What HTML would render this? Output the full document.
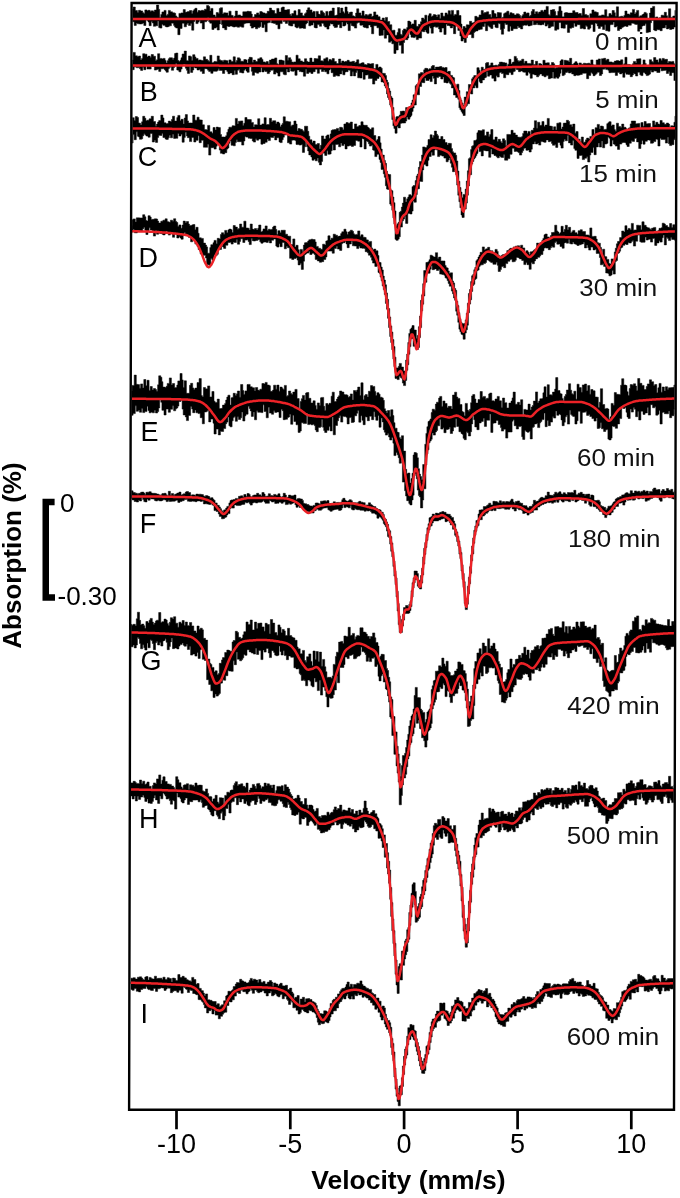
<!DOCTYPE html>
<html><head><meta charset="utf-8"><title>Spectra</title><style>html,body{margin:0;padding:0;background:#fff;width:680px;height:1198px;overflow:hidden}svg{display:block;filter:blur(0.4px)}</style></head><body><svg width="680" height="1198" viewBox="0 0 680 1198"><defs><clipPath id="c"><path d="M132.6 4L675.6 4L673 1108.8L130.1 1108.8Z"/></clipPath></defs><rect width="680" height="1198" fill="#fff"/><g clip-path="url(#c)"><g fill="#000" stroke="#000" stroke-width="0.5" stroke-linejoin="miter"><path d="M131 9.3H132.1V9.3H133.1V7H134.2V7H135.3V10.5H136.3V10.5H137.4V12.5H138.5V10.3H139.5V10.3H140.6V10.9H141.6V10.9H142.7V12.7H143.8V13.4H144.8V9.9H145.9V9.9H147V10.7H148V10.3H149.1V10.3H150.2V11.5H151.2V10.8H152.3V10.8H153.4V11.8H154.4V10H155.5V10H156.5V5H157.6V5H158.7V9.4H159.7V17.5H160.8V14.4H161.9V11.9H162.9V11.9H164V10.4H165.1V10.4H166.1V15.4H167.2V14.4H168.3V10.4H169.3V10.4H170.4V11.8H171.4V11.8H172.5V12.8H173.6V12.8H174.6V13.3H175.7V15.9H176.8V17.3H177.8V17.7H178.9V13.4H180V13.4H181V12.9H182.1V12.9H183.2V9.6H184.2V9.6H185.3V12.3H186.4V12.1H187.4V11.6H188.5V11.6H189.5V10.5H190.6V10.5H191.7V13.4H192.7V10.8H193.8V9.6H194.9V8.3H195.9V8.3H197V12.2H198.1V10.5H199.1V10.5H200.2V10.9H201.3V10.3H202.3V10.3H203.4V10.8H204.4V9.2H205.5V9.2H206.6V5.5H207.6V5.5H208.7V6.6H209.8V11H210.8V8.4H211.9V8.4H213V15H214V15H215.1V16.8H216.2V12.6H217.2V12.6H218.3V13.4H219.3V8.4H220.4V7.7H221.5V7.7H222.5V13.9H223.6V12.8H224.7V12.8H225.7V12.9H226.8V12.9H227.9V15.6H228.9V11.2H230V11.2H231.1V15.3H232.1V15.4H233.2V17.2H234.3V16.1H235.3V11H236.4V11H237.4V15.3H238.5V14.9H239.6V14.9H240.6V16.1H241.7V16.1H242.8V11.8H243.8V11.8H244.9V11.8H246V11.8H247V11.3H248.1V11.3H249.2V11.5H250.2V11.5H251.3V14H252.3V17.2H253.4V16.9H254.5V14.5H255.5V14.5H256.6V12.9H257.7V12.9H258.7V14.4H259.8V11.6H260.9V11.6H261.9V12.2H263V12.9H264.1V12.9H265.1V13.7H266.2V13.5H267.2V11.3H268.3V11.3H269.4V8.1H270.4V8.1H271.5V10H272.6V10.5H273.6V10.5H274.7V13.5H275.8V13.4H276.8V8.4H277.9V8.4H279V12.1H280V12.1H281.1V7.8H282.2V7H283.2V7H284.3V10H285.3V10H286.4V9.9H287.5V9.5H288.5V9.5H289.6V14.2H290.7V15.8H291.7V13.6H292.8V13.6H293.9V10.8H294.9V10.8H296V15.2H297.1V15.2H298.1V9.6H299.2V9.6H300.2V12.9H301.3V12.9H302.4V15.6H303.4V16H304.5V13.7H305.6V12.7H306.6V10H307.7V7.8H308.8V7.8H309.8V9.9H310.9V9.9H312V12.6H313V11.4H314.1V11.4H315.2V16.9H316.2V11.4H317.3V11.4H318.3V14H319.4V14.6H320.5V10.8H321.5V10.8H322.6V12.2H323.7V13.3H324.7V15.8H325.8V11.4H326.9V11.4H327.9V15.4H329V11.5H330.1V10.9H331.1V10.9H332.2V8.1H333.2V8.1H334.3V15.5H335.4V15.5H336.4V14.9H337.5V7.5H338.6V7.5H339.6V13.1H340.7V8.1H341.8V8.1H342.8V11.8H343.9V13.2H345V7H346V7H347.1V11.6H348.1V13.9H349.2V12.6H350.3V12H351.3V12H352.4V15.7H353.5V16.1H354.5V16.7H355.6V13.1H356.7V8.8H357.7V8.8H358.8V12.9H359.9V12.9H360.9V15.6H362V11H363.1V11H364.1V15.7H365.2V14.6H366.2V14.6H367.3V15.6H368.4V14.7H369.4V13.9H370.5V13.9H371.6V17H372.6V16H373.7V11.9H374.8V11.9H375.8V14.9H376.9V14.9H378V16.7H379V16.7H380.1V20H381.1V20H382.2V18H383.3V18H384.3V20.5H385.4V17.4H386.5V17.4H387.5V21.4H388.6V21.4H389.7V24.7H390.7V24.7H391.8V30.5H392.9V30.2H393.9V30.2H395V35.2H396V35.2H397.1V32.4H398.2V28.7H399.2V28.7H400.3V34.3H401.4V35.3H402.4V30.4H403.5V28.9H404.6V28.9H405.6V29.7H406.7V27.6H407.8V21.1H408.8V21.1H409.9V21.9H411V24.7H412V23.9H413.1V23.9H414.1V20.3H415.2V20.3H416.3V26.2H417.3V26.5H418.4V24.3H419.5V24.3H420.5V21.7H421.6V18H422.7V18H423.7V19.3H424.8V15.2H425.9V15.2H426.9V22.1H428V15.7H429V13.7H430.1V13.7H431.2V16.7H432.2V15.9H433.3V14.6H434.4V14.6H435.4V15.1H436.5V17H437.6V14.8H438.6V14.8H439.7V18.4H440.8V13H441.8V13H442.9V16.2H443.9V16.2H445V13H446.1V13H447.1V14.5H448.2V10.7H449.3V10.7H450.3V14.2H451.4V10.4H452.5V10.4H453.5V15.4H454.6V14.4H455.7V14.4H456.7V10.5H457.8V10.5H458.9V15.5H459.9V15.5H461V24.1H462V29.4H463.1V26.5H464.2V26.5H465.2V28.1H466.3V24.8H467.4V24.8H468.4V24.9H469.5V21.3H470.6V21.3H471.6V23H472.7V22.8H473.8V22.1H474.8V16.3H475.9V16.3H476.9V17.2H478V17.2H479.1V14.9H480.1V14.9H481.2V10.6H482.3V10.6H483.3V13.3H484.4V12.5H485.5V12.5H486.5V11.8H487.6V11.8H488.7V14.5H489.7V14.5H490.8V17.3H491.8V10.5H492.9V10.5H494V13.5H495V13.8H496.1V16.9H497.2V12.5H498.2V12.5H499.3V12.7H500.4V12.7H501.4V18.2H502.5V17.2H503.6V13.7H504.6V12.9H505.7V12.6H506.8V11.2H507.8V11.2H508.9V14.8H509.9V12.7H511V12.7H512.1V13.6H513.1V13.6H514.2V15H515.3V15H516.3V13.8H517.4V13.8H518.5V14.2H519.5V15.4H520.6V17.8H521.7V15.8H522.7V14.4H523.8V12H524.8V12H525.9V13.6H527V12.9H528V12.9H529.1V16.3H530.2V15.3H531.2V11.6H532.3V9.5H533.4V9.5H534.4V13.9H535.5V11.7H536.6V11.7H537.6V13.6H538.7V12H539.8V12H540.8V10.4H541.9V10.4H542.9V11.8H544V10H545.1V10H546.1V6.4H547.2V6.4H548.3V14.5H549.3V15.5H550.4V10H551.5V10H552.5V9.5H553.6V9.5H554.7V11.4H555.7V15.5H556.8V15.5H557.8V11.2H558.9V6.6H560V6.6H561V10.9H562.1V16.8H563.2V16.8H564.2V12.9H565.3V12.6H566.4V12.6H567.4V13H568.5V13.1H569.6V13.1H570.6V13.1H571.7V13.1H572.7V10.7H573.8V10.7H574.9V12.6H575.9V12.5H577V12.5H578.1V14.1H579.1V13.5H580.2V13.5H581.3V15.5H582.3V8.5H583.4V8.5H584.5V14.4H585.5V14.4H586.6V15.2H587.7V15.4H588.7V17.8H589.8V13.7H590.8V13.7H591.9V10H593V10H594V11.8H595.1V11.8H596.2V12.2H597.2V12.5H598.3V16.1H599.4V15.7H600.4V15.7H601.5V14.9H602.6V14.9H603.6V15.3H604.7V9.7H605.7V9.7H606.8V16.4H607.9V16.4H608.9V13.6H610V13.6H611.1V14.9H612.1V10.5H613.2V10.5H614.3V12.7H615.3V16.3H616.4V6.8H617.5V6.8H618.5V16.7H619.6V16.7H620.6V16.2H621.7V16.2H622.8V16.9H623.8V15.5H624.9V11H626V11H627V14H628.1V14H629.2V14.7H630.2V12.8H631.3V12.8H632.4V9.4H633.4V9.4H634.5V14.1H635.6V12.6H636.6V10.4H637.7V10.4H638.7V16.7H639.8V15.8H640.9V15.8H641.9V14.7H643V14H644.1V12.4H645.1V12.4H646.2V13.4H647.3V18.6H648.3V18.6H649.4V13.1H650.5V8.1H651.5V8.1H652.6V6.4H653.6V6.4H654.7V17.4H655.8V16.9H656.8V16.9H657.9V18.7H659V17.8H660V17.8H661.1V15.2H662.2V15.2H663.2V15.4H664.3V12.3H665.4V12.3H666.4V15.7H667.5V17.7H668.5V8.8H669.6V8.8H670.7V17.4H671.7V17.4H672.8V16H673.9V16H674.9V10.4H676V10.4H677.1V24.8H676V27H674.9V27H673.9V28.9H672.8V28.9H671.7V29.5H670.7V29.5H669.6V28.2H668.5V28.9H667.5V28.9H666.4V24.9H665.4V27.8H664.3V27.9H663.2V27.9H662.2V30.7H661.1V30.7H660V29.7H659V29.7H657.9V29.6H656.8V30.7H655.8V30.7H654.7V30H653.6V20.5H652.6V20.5H651.5V22.8H650.5V32H649.4V32H648.3V32.6H647.3V32.6H646.2V23.8H645.1V25.4H644.1V25.4H643V26.1H641.9V29.1H640.9V29.1H639.8V31.2H638.7V31.2H637.7V24.5H636.6V24.5H635.6V24.2H634.5V23.4H633.4V23.2H632.4V23.2H631.3V25.2H630.2V25.2H629.2V24.9H628.1V26.4H627V26.4H626V26H624.9V26.3H623.8V27.1H622.8V27.4H621.7V28.9H620.6V28.9H619.6V30.5H618.5V30.5H617.5V26.1H616.4V27H615.3V27H614.3V22H613.2V24.6H612.1V24.6H611.1V24.8H610V31.2H608.9V31.2H607.9V30.7H606.8V30.7H605.7V24.7H604.7V29.5H603.6V29.5H602.6V26.4H601.5V26.4H600.4V28.4H599.4V28.4H598.3V25.9H597.2V23.6H596.2V23H595.1V31.5H594V31.5H593V24.5H591.9V24.5H590.8V28.1H589.8V29.2H588.7V29.2H587.7V26.4H586.6V25.5H585.5V29H584.5V29H583.4V27.9H582.3V28.6H581.3V28.6H580.2V24.7H579.1V24.7H578.1V24.5H577V26.3H575.9V26.3H574.9V23.2H573.8V27.5H572.7V27.5H571.7V28.3H570.6V28.3H569.6V32.4H568.5V32.4H567.4V24.5H566.4V24.6H565.3V28.2H564.2V28.2H563.2V28H562.1V28H561V22.6H560V22.5H558.9V29.2H557.8V29.2H556.8V30.3H555.7V30.3H554.7V21.7H553.6V26.3H552.5V26.3H551.5V26.8H550.4V27.9H549.3V27.9H548.3V24.5H547.2V26H546.1V26H545.1V22.5H544V24.6H542.9V24.6H541.9V24.9H540.8V24.9H539.8V24.7H538.7V24.7H537.6V23H536.6V24.5H535.5V24.7H534.4V24.7H533.4V21H532.3V25.2H531.2V25.6H530.2V25.9H529.1V25.9H528V24.8H527V25.2H525.9V25.2H524.8V24.9H523.8V25.6H522.7V28.9H521.7V28.9H520.6V27.5H519.5V27.5H518.5V26.1H517.4V28.7H516.3V28.7H515.3V28.7H514.2V28.7H513.1V30.5H512.1V30.5H511V26.2H509.9V31.2H508.9V31.2H507.8V24.5H506.8V24.5H505.7V23.3H504.6V28.5H503.6V34.2H502.5V34.2H501.4V29.4H500.4V23.8H499.3V23.3H498.2V27.7H497.2V27.7H496.1V27.2H495V24.4H494V24.4H492.9V28.5H491.8V28.5H490.8V27.2H489.7V26.4H488.7V25.4H487.6V30.7H486.5V30.7H485.5V23.4H484.4V26.5H483.3V26.5H482.3V29.2H481.2V29.2H480.1V29.7H479.1V29.7H478V30.9H476.9V30.9H475.9V31.4H474.8V32.4H473.8V37.8H472.7V37.8H471.6V34.4H470.6V34.5H469.5V34.5H468.4V34.6H467.4V37.7H466.3V42.4H465.2V42.4H464.2V39.1H463.1V41H462V41H461V35.9H459.9V30.4H458.9V30.4H457.8V25.8H456.7V25.9H455.7V33.7H454.6V33.7H453.5V26.3H452.5V27.9H451.4V27.9H450.3V26H449.3V25.5H448.2V25.5H447.1V24H446.1V34.4H445V34.4H443.9V28.1H442.9V28.1H441.8V32.1H440.8V32.1H439.7V29H438.6V26.8H437.6V27.2H436.5V27.2H435.4V26.3H434.4V26.9H433.3V33.2H432.2V33.2H431.2V28.1H430.1V26.2H429V33.3H428V33.3H426.9V32H425.9V30.1H424.8V31.7H423.7V31.7H422.7V31.2H421.6V38.1H420.5V38.1H419.5V37.9H418.4V39.6H417.3V39.6H416.3V36.4H415.2V37.6H414.1V37.6H413.1V37.2H412V37.2H411V34.5H409.9V32H408.8V38H407.8V39.7H406.7V39.7H405.6V39.3H404.6V42.5H403.5V53.3H402.4V53.3H401.4V45.2H400.3V45.2H399.2V42.2H398.2V50H397.1V50H396V53.4H395V53.4H393.9V43.8H392.9V43.8H391.8V41.1H390.7V42.2H389.7V42.2H388.6V34.9H387.5V34.9H386.5V38.2H385.4V38.2H384.3V30.1H383.3V35.2H382.2V35.2H381.1V35.4H380.1V35.4H379V27.8H378V27.8H376.9V25.7H375.8V25.7H374.8V25.8H373.7V33.8H372.6V33.8H371.6V26.9H370.5V25H369.4V25H368.4V28.1H367.3V28.1H366.2V27.4H365.2V27.4H364.1V27H363.1V25H362V25.2H360.9V25.2H359.9V22.6H358.8V22.6H357.7V23.2H356.7V28.1H355.6V28.1H354.5V26.2H353.5V26H352.4V25.5H351.3V23.6H350.3V30.6H349.2V30.6H348.1V23.9H347.1V22.6H346V25.3H345V26H343.9V26H342.8V21.9H341.8V27.7H340.7V27.7H339.6V24.5H338.6V24.7H337.5V27.2H336.4V27.5H335.4V27.5H334.3V26.1H333.2V24H332.2V24H331.1V23.6H330.1V25.7H329V29.1H327.9V29.1H326.9V27.1H325.8V27.1H324.7V25.8H323.7V23.6H322.6V22.9H321.5V26.3H320.5V26.3H319.4V24.6H318.3V24.6H317.3V27.9H316.2V27.9H315.2V27.4H314.1V22.8H313V25H312V25H310.9V25.8H309.8V25.8H308.8V20.4H307.7V22.9H306.6V24.1H305.6V28.4H304.5V28.4H303.4V27.9H302.4V27.9H301.3V28.2H300.2V28.2H299.2V26.8H298.1V27.8H297.1V27.8H296V26.9H294.9V23.7H293.9V23.7H292.8V26H291.7V26H290.7V25.7H289.6V25.2H288.5V21.5H287.5V23.4H286.4V23.4H285.3V21.6H284.3V21.6H283.2V18.4H282.2V23.6H281.1V23.6H280V28.8H279V28.8H277.9V24.7H276.8V24.7H275.8V23.4H274.7V23.4H273.6V23H272.6V23H271.5V19.4H270.4V22.6H269.4V22.6H268.3V23.1H267.2V31.8H266.2V31.8H265.1V24.5H264.1V27.5H263V27.5H261.9V22H260.9V26.5H259.8V27.6H258.7V27.6H257.7V28.8H256.6V28.8H255.5V26.9H254.5V26.9H253.4V28.1H252.3V28.1H251.3V25.9H250.2V22.9H249.2V22.9H248.1V23H247V23.1H246V23.3H244.9V23.8H243.8V27.2H242.8V27.2H241.7V26.8H240.6V26.3H239.6V27.2H238.5V27.2H237.4V26.8H236.4V26.5H235.3V27H234.3V27H233.2V26.6H232.1V26H231.1V26H230V26.5H228.9V26.5H227.9V26H226.8V29.7H225.7V29.7H224.7V27.9H223.6V27.9H222.5V24.6H221.5V18.5H220.4V23.9H219.3V30H218.3V30H217.2V27.1H216.2V28.1H215.1V28.1H214V29.5H213V29.5H211.9V23.2H210.8V23.2H209.8V21.8H208.7V17.7H207.6V20.7H206.6V21.8H205.5V21.8H204.4V28.9H203.4V28.9H202.3V23.1H201.3V23.1H200.2V20.6H199.1V22.1H198.1V23.6H197V23.6H195.9V19.4H194.9V21.4H193.8V30.2H192.7V30.2H191.7V23.5H190.6V25.5H189.5V25.5H188.5V22.9H187.4V24.4H186.4V26.8H185.3V26.8H184.2V23.3H183.2V23.3H182.1V28.4H181V28.4H180V34.7H178.9V34.7H177.8V28H176.8V28H175.7V27.1H174.6V25.4H173.6V23.3H172.5V23H171.4V25.8H170.4V25.8H169.3V26.4H168.3V26.9H167.2V26.9H166.1V26.6H165.1V25.3H164V25.3H162.9V24.2H161.9V28.1H160.8V28.1H159.7V27.5H158.7V20.9H157.6V25.8H156.5V25.8H155.5V26.3H154.4V26.3H153.4V23H152.3V21.4H151.2V25.7H150.2V25.7H149.1V22H148V20.4H147V20H145.9V25.5H144.8V25.5H143.8V23.1H142.7V23.8H141.6V24H140.6V24H139.5V23.8H138.5V23.8H137.4V23H136.3V25.4H135.3V25.4H134.2V21.7H133.1V21.7H132.1V21.7H131Z"/><path d="M131 60.3H132.1V60H133.1V52.4H134.2V52.4H135.3V55.8H136.3V55.8H137.4V56.8H138.5V56H139.5V56H140.6V60H141.6V58.5H142.7V53.7H143.8V53.7H144.8V54.2H145.9V54.2H147V56.9H148V56.1H149.1V56.1H150.2V57.5H151.2V54.5H152.3V54.5H153.4V56.2H154.4V56.2H155.5V60.7H156.5V59.7H157.6V53.7H158.7V53.7H159.7V58.4H160.8V58.4H161.9V58.9H162.9V58.4H164V58.4H165.1V60.5H166.1V62.9H167.2V60.7H168.3V58.8H169.3V57.7H170.4V57.7H171.4V57.8H172.5V59.4H173.6V58.1H174.6V53.5H175.7V53H176.8V53H177.8V60.5H178.9V61.5H180V60.2H181V57.8H182.1V54H183.2V54H184.2V51.1H185.3V51.1H186.4V60.4H187.4V61H188.5V55.9H189.5V55.9H190.6V56.7H191.7V60.5H192.7V54.7H193.8V54.7H194.9V56.9H195.9V58.4H197V58.4H198.1V60.3H199.1V59.9H200.2V59.9H201.3V60.5H202.3V60.5H203.4V56.8H204.4V56.8H205.5V59.3H206.6V59.3H207.6V60.5H208.7V61.6H209.8V55.3H210.8V55.3H211.9V62.8H213V62.4H214V61.4H215.1V61.4H216.2V61.7H217.2V55.9H218.3V55.9H219.3V59.7H220.4V60.6H221.5V60.6H222.5V61.4H223.6V60.2H224.7V60.2H225.7V60.6H226.8V60.7H227.9V63.3H228.9V59.9H230V59.9H231.1V61.6H232.1V61.6H233.2V56.8H234.3V56.8H235.3V62.2H236.4V60.5H237.4V57.8H238.5V57.8H239.6V58.8H240.6V61.2H241.7V61.2H242.8V61.5H243.8V59.6H244.9V59.6H246V59.9H247V63H248.1V59.2H249.2V57.3H250.2V57.3H251.3V57.6H252.3V62.2H253.4V60.1H254.5V60.1H255.5V61.5H256.6V61.5H257.7V58.8H258.7V58.8H259.8V57.7H260.9V57.7H261.9V59.4H263V61.9H264.1V61.9H265.1V62.4H266.2V61.6H267.2V61.6H268.3V63.7H269.4V60.1H270.4V60.1H271.5V59H272.6V59H273.6V59H274.7V57.9H275.8V57.9H276.8V63.7H277.9V64.6H279V60.1H280V60H281.1V60H282.2V60.6H283.2V60.8H284.3V66.3H285.3V55.6H286.4V55.6H287.5V60.2H288.5V57.7H289.6V57.7H290.7V59.7H291.7V62.1H292.8V62.2H293.9V61.9H294.9V61.9H296V55.2H297.1V55.2H298.1V58.8H299.2V58.8H300.2V60.9H301.3V60.9H302.4V62H303.4V62H304.5V58.7H305.6V58.7H306.6V61.3H307.7V62.1H308.8V62.1H309.8V58.1H310.9V58.1H312V62H313V62H314.1V58.5H315.2V58.5H316.2V58.7H317.3V58.7H318.3V55.8H319.4V55.8H320.5V60.8H321.5V60.8H322.6V61.2H323.7V58.8H324.7V58.8H325.8V57.7H326.9V57.7H327.9V61.3H329V59.4H330.1V59.4H331.1V60.3H332.2V58.6H333.2V58.6H334.3V61.5H335.4V61.5H336.4V63.5H337.5V63.5H338.6V59H339.6V59H340.7V62.8H341.8V61H342.8V61H343.9V62.1H345V61.5H346V61.5H347.1V60.3H348.1V60.3H349.2V61.8H350.3V62.1H351.3V61.8H352.4V61.3H353.5V61.3H354.5V62.9H355.6V62H356.7V59.8H357.7V59.8H358.8V63.8H359.9V63.8H360.9V63.1H362V62.7H363.1V62.7H364.1V64.6H365.2V64.6H366.2V64.9H367.3V63.6H368.4V63.6H369.4V63.9H370.5V63.9H371.6V63.6H372.6V63.6H373.7V68.6H374.8V68.6H375.8V64.4H376.9V64.4H378V67.8H379V67H380.1V67H381.1V68.2H382.2V73.3H383.3V73.3H384.3V73.4H385.4V75.6H386.5V80.1H387.5V82.4H388.6V88.5H389.7V91H390.7V96.4H391.8V98.1H392.9V107.4H393.9V117.3H395V119.4H396V116.7H397.1V116.5H398.2V116.5H399.2V115H400.3V111.3H401.4V111.3H402.4V111H403.5V111H404.6V112.5H405.6V107.6H406.7V107.6H407.8V108H408.8V108.8H409.9V106.7H411V102.9H412V100.1H413.1V94.8H414.1V94.8H415.2V85.7H416.3V84.4H417.3V84.1H418.4V73.8H419.5V73.8H420.5V72.6H421.6V72.6H422.7V73.6H423.7V69.8H424.8V68.3H425.9V68.3H426.9V68.6H428V69.7H429V68.7H430.1V68.7H431.2V66.5H432.2V65.5H433.3V65.5H434.4V69.1H435.4V67.1H436.5V67.1H437.6V67H438.6V67H439.7V66.5H440.8V66.5H441.8V67.4H442.9V67.4H443.9V67.9H445V67.5H446.1V67.5H447.1V72H448.2V71.3H449.3V71.3H450.3V75.3H451.4V75.4H452.5V77.1H453.5V77.8H454.6V85.2H455.7V86H456.7V84.2H457.8V84.2H458.9V90.5H459.9V97.8H461V100.3H462V103H463.1V105.2H464.2V97.1H465.2V97.1H466.3V91.7H467.4V91.7H468.4V84.5H469.5V84.5H470.6V84.7H471.6V78.8H472.7V77.2H473.8V75.6H474.8V75.6H475.9V76H476.9V67.7H478V67.7H479.1V70.2H480.1V72.8H481.2V67.2H482.3V67.2H483.3V69.6H484.4V69H485.5V63.2H486.5V62.6H487.6V62.6H488.7V66H489.7V65.2H490.8V62.9H491.8V62.9H492.9V65.6H494V65.6H495V65.2H496.1V65.2H497.2V65.8H498.2V64.6H499.3V62.2H500.4V62.1H501.4V62.1H502.5V62.5H503.6V62.5H504.6V62.9H505.7V62.9H506.8V66H507.8V64.2H508.9V59.3H509.9V59.3H511V64H512.1V62.4H513.1V62H514.2V56.4H515.3V56.4H516.3V58.4H517.4V60.6H518.5V61.8H519.5V60.8H520.6V60.8H521.7V59.2H522.7V59.2H523.8V63.3H524.8V61.3H525.9V61.3H527V63.5H528V63.4H529.1V63.4H530.2V63.8H531.2V60.1H532.3V60.1H533.4V64.4H534.4V64.4H535.5V61.3H536.6V61.3H537.6V67.3H538.7V63.6H539.8V63.6H540.8V64.1H541.9V65.5H542.9V60.3H544V60.3H545.1V62.9H546.1V62.9H547.2V62.7H548.3V62.7H549.3V65H550.4V65H551.5V62.5H552.5V62.5H553.6V63.8H554.7V68.3H555.7V67.6H556.8V67.6H557.8V66.2H558.9V65H560V61H561V59.8H562.1V59.8H563.2V65.6H564.2V60.3H565.3V60.3H566.4V60.7H567.4V60.7H568.5V62.1H569.6V58.3H570.6V58.3H571.7V64.6H572.7V64.2H573.8V63.1H574.9V61.7H575.9V61.7H577V63.3H578.1V65.7H579.1V62.9H580.2V62.9H581.3V64.2H582.3V64.2H583.4V63.2H584.5V63.2H585.5V63.6H586.6V63.6H587.7V63.2H588.7V63.2H589.8V64.1H590.8V59.9H591.9V59.9H593V64.7H594V64.9H595.1V64.9H596.2V60H597.2V60H598.3V58.9H599.4V58.9H600.4V65.8H601.5V58.7H602.6V58.7H603.6V58.3H604.7V58.3H605.7V60.3H606.8V59.3H607.9V59.3H608.9V62H610V61.9H611.1V61.9H612.1V62.6H613.2V62.6H614.3V61.1H615.3V61.1H616.4V60.5H617.5V60.5H618.5V61.1H619.6V61.1H620.6V59.8H621.7V59.8H622.8V65H623.8V63.8H624.9V57.3H626V57.3H627V64.4H628.1V64.4H629.2V64.6H630.2V65H631.3V65.4H632.4V63.8H633.4V61.4H634.5V61.4H635.6V62.9H636.6V58.9H637.7V58.9H638.7V58.7H639.8V58.7H640.9V65.4H641.9V64.8H643V59.9H644.1V59.9H645.1V63.4H646.2V65.4H647.3V65.8H648.3V65.2H649.4V59.7H650.5V59.7H651.5V61.6H652.6V62.2H653.6V57.6H654.7V57.6H655.8V59.9H656.8V59.9H657.9V62.2H659V58.7H660V58.7H661.1V60.4H662.2V58.4H663.2V58.4H664.3V59.6H665.4V59.3H666.4V59.3H667.5V62.9H668.5V61.5H669.6V61.5H670.7V62.1H671.7V61.4H672.8V61.4H673.9V63.8H674.9V64.9H676V64.9H677.1V75.1H676V80.5H674.9V80.5H673.9V72.7H672.8V72.7H671.7V75.5H670.7V75.5H669.6V71.8H668.5V73.5H667.5V73.5H666.4V70.3H665.4V70.4H664.3V70.4H663.2V70.8H662.2V70.8H661.1V68.3H660V72.4H659V72.5H657.9V72.5H656.8V71.1H655.8V71.1H654.7V70.8H653.6V72.1H652.6V72.1H651.5V70.5H650.5V74.1H649.4V75H648.3V75.6H647.3V75.6H646.2V73.9H645.1V72.7H644.1V72.6H643V75.6H641.9V75.6H640.9V74.8H639.8V72.2H638.7V72.2H637.7V76H636.6V76H635.6V74H634.5V73.2H633.4V75H632.4V76.7H631.3V76.7H630.2V74.4H629.2V74.4H628.1V74.2H627V74.2H626V72.8H624.9V77.3H623.8V77.3H622.8V73H621.7V73.9H620.6V73.9H619.6V72.6H618.5V72.6H617.5V75.4H616.4V75.4H615.3V72.5H614.3V72.5H613.2V72.6H612.1V72.6H611.1V72.7H610V72.7H608.9V70.3H607.9V69.6H606.8V69.6H605.7V68.6H604.7V69.2H603.6V69.2H602.6V74H601.5V75.5H600.4V75.5H599.4V72.3H598.3V72.3H597.2V73.6H596.2V74.5H595.1V75.7H594V75.7H593V73.6H591.9V72.4H590.8V75.4H589.8V75.4H588.7V78.7H587.7V78.7H586.6V73.2H585.5V73.2H584.5V73.3H583.4V73.3H582.3V74.5H581.3V74.5H580.2V75.1H579.1V75.3H578.1V75.3H577V75H575.9V75.7H574.9V75.7H573.8V74H572.7V74H571.7V72.6H570.6V73H569.6V73H568.5V71.8H567.4V72.5H566.4V72.5H565.3V74.5H564.2V75.6H563.2V75.6H562.1V69.3H561V73.2H560V76.4H558.9V78.2H557.8V78.2H556.8V77.1H555.7V78.3H554.7V78.3H553.6V72.1H552.5V78.1H551.5V78.1H550.4V78.7H549.3V78.7H548.3V75.6H547.2V75.6H546.1V76.8H545.1V76.8H544V75.7H542.9V75.7H541.9V73.9H540.8V73.9H539.8V75.3H538.7V76.8H537.6V76.8H536.6V74.9H535.5V74.9H534.4V74.2H533.4V74.2H532.3V78.2H531.2V78.2H530.2V73.2H529.1V72.1H528V75.3H527V75.3H525.9V72.3H524.8V72.3H523.8V72.1H522.7V71H521.7V71H520.6V71.7H519.5V71.7H518.5V69.8H517.4V69.5H516.3V68.2H515.3V71.2H514.2V71.8H513.1V74.6H512.1V74.6H511V72.5H509.9V72.6H508.9V74.7H507.8V74.7H506.8V74.6H505.7V77.8H504.6V77.8H503.6V73.6H502.5V73.6H501.4V71.9H500.4V72.7H499.3V77.1H498.2V77.1H497.2V75.7H496.1V81.1H495V81.1H494V78.3H492.9V78.3H491.8V74.9H490.8V74.9H489.7V76.2H488.7V76.2H487.6V71.8H486.5V77.3H485.5V77.9H484.4V79.9H483.3V79.9H482.3V82.9H481.2V82.9H480.1V81.6H479.1V78.6H478V87.8H476.9V87.8H475.9V85.5H474.8V87.9H473.8V87.9H472.7V94H471.6V94H470.6V93.1H469.5V103.8H468.4V103.8H467.4V105.6H466.3V106.8H465.2V115.5H464.2V115.5H463.1V113.3H462V111.6H461V109.7H459.9V107.8H458.9V99.2H457.8V97.5H456.7V97.5H455.7V95H454.6V95H453.5V87.9H452.5V87.9H451.4V84.3H450.3V83.2H449.3V81.4H448.2V83H447.1V83H446.1V82.5H445V82.5H443.9V76.9H442.9V79H441.8V79H440.8V76.5H439.7V76.5H438.6V77.6H437.6V77.6H436.5V83.9H435.4V83.9H434.4V78.3H433.3V76.1H432.2V81.6H431.2V81.6H430.1V79.1H429V80.5H428V80.5H426.9V80.5H425.9V78.1H424.8V82.7H423.7V82.7H422.7V82.4H421.6V86.5H420.5V86.5H419.5V94.8H418.4V94.8H417.3V94.6H416.3V105H415.2V105H414.1V108.1H413.1V111.4H412V115.4H411V117H409.9V119.2H408.8V119.2H407.8V117.1H406.7V121.1H405.6V123H404.6V123H403.5V123.1H402.4V123.1H401.4V123.4H400.3V127.9H399.2V127.9H398.2V126.4H397.1V133.2H396V133.2H395V128.4H393.9V125.8H392.9V119.5H391.8V106.7H390.7V105.1H389.7V99.6H388.6V97.5H387.5V93.9H386.5V88.1H385.4V86H384.3V82.7H383.3V81.9H382.2V81.9H381.1V77H380.1V76.4H379V78.4H378V78.4H376.9V80.4H375.8V80.4H374.8V84.1H373.7V84.1H372.6V78.4H371.6V78.4H370.5V78.6H369.4V78.6H368.4V74.8H367.3V75H366.2V75.1H365.2V79.3H364.1V79.3H363.1V71.9H362V78H360.9V78H359.9V77.8H358.8V77.8H357.7V70.5H356.7V72.4H355.6V75.9H354.5V75.9H353.5V71.8H352.4V75.9H351.3V75.9H350.3V70.2H349.2V69.9H348.1V71.7H347.1V71.7H346V72H345V74.8H343.9V74.8H342.8V70.8H341.8V73.9H340.7V73.9H339.6V76.1H338.6V76.1H337.5V75.6H336.4V75.6H335.4V76.4H334.3V76.4H333.2V72.7H332.2V72.7H331.1V68.7H330.1V69.9H329V73.8H327.9V73.8H326.9V71.8H325.8V71.8H324.7V69.9H323.7V71.5H322.6V71.5H321.5V69.2H320.5V69.2H319.4V73.3H318.3V73.3H317.3V69.2H316.2V69.2H315.2V71.7H314.1V71.7H313V73.5H312V73.5H310.9V72.2H309.8V72.2H308.8V73.4H307.7V73.4H306.6V69.3H305.6V76.2H304.5V76.2H303.4V71.9H302.4V71.9H301.3V71.6H300.2V71.6H299.2V69.9H298.1V69.9H297.1V75.3H296V75.3H294.9V70.7H293.9V71.3H292.8V71.3H291.7V71H290.7V68.3H289.6V71.9H288.5V71.9H287.5V68.9H286.4V74.8H285.3V74.8H284.3V74.2H283.2V71.8H282.2V71.8H281.1V71.8H280V76.1H279V76.1H277.9V72.9H276.8V72.3H275.8V74.1H274.7V74.1H273.6V69.7H272.6V70.3H271.5V70.3H270.4V71.9H269.4V73.6H268.3V73.6H267.2V71.5H266.2V71.5H265.1V70.6H264.1V71.9H263V71.9H261.9V67.7H260.9V72H259.8V72H258.7V73.2H257.7V73.2H256.6V72.4H255.5V72.4H254.5V75.3H253.4V75.3H252.3V71.3H251.3V66.7H250.2V67.1H249.2V72.3H248.1V72.3H247V70.9H246V69H244.9V70.2H243.8V73H242.8V73H241.7V72.4H240.6V72.4H239.6V69.2H238.5V70.3H237.4V74.3H236.4V74.3H235.3V70.5H234.3V74.7H233.2V74.7H232.1V72.9H231.1V72.9H230V73.7H228.9V73.7H227.9V71.4H226.8V69.9H225.7V69.9H224.7V73.4H223.6V73.4H222.5V70.4H221.5V70.4H220.4V70.4H219.3V68.8H218.3V70.4H217.2V71.3H216.2V71.3H215.1V71.2H214V71.2H213V73.3H211.9V73.3H210.8V71.6H209.8V71.6H208.7V70.3H207.6V68.9H206.6V68.7H205.5V68.7H204.4V73.5H203.4V73.5H202.3V71.3H201.3V71.3H200.2V69.6H199.1V70H198.1V70H197V68H195.9V68H194.9V67.3H193.8V70H192.7V72.4H191.7V72.4H190.6V66.8H189.5V73.4H188.5V73.4H187.4V70.3H186.4V68.3H185.3V64.3H184.2V64.3H183.2V65.8H182.1V69.1H181V71.8H180V71.8H178.9V70.2H177.8V70H176.8V63.5H175.7V66.2H174.6V67.6H173.6V70.3H172.5V70.3H171.4V66.2H170.4V67.4H169.3V68.8H168.3V72.2H167.2V72.2H166.1V70.7H165.1V69.4H164V68.6H162.9V68.8H161.9V68.8H160.8V71.4H159.7V71.4H158.7V69H157.6V69.5H156.5V70.1H155.5V70.1H154.4V66.4H153.4V66.4H152.3V66H151.2V69.1H150.2V69.1H149.1V69H148V69H147V65.7H145.9V69.7H144.8V69.7H143.8V67.2H142.7V70.4H141.6V70.4H140.6V68.8H139.5V67.6H138.5V67.8H137.4V67.8H136.3V67H135.3V67H134.2V69.7H133.1V69.7H132.1V69.5H131Z"/><path d="M131 125.4H132.1V117.7H133.1V117.7H134.2V120.4H135.3V116.6H136.3V116.6H137.4V117.5H138.5V122.9H139.5V123.3H140.6V124.9H141.6V121.8H142.7V116.3H143.8V116.3H144.8V118.3H145.9V120.8H147V120.2H148V120.2H149.1V118.8H150.2V118.8H151.2V116.3H152.3V116.3H153.4V121.5H154.4V121.5H155.5V126.3H156.5V124.1H157.6V122.1H158.7V120.6H159.7V120.6H160.8V115.1H161.9V115.1H162.9V117.9H164V122.8H165.1V122.8H166.1V123.8H167.2V123.5H168.3V121.1H169.3V121.1H170.4V121.7H171.4V119.5H172.5V116.2H173.6V116.2H174.6V121.1H175.7V121.1H176.8V117.6H177.8V115.4H178.9V115.4H180V120.7H181V119.3H182.1V119.3H183.2V123.9H184.2V118.1H185.3V114.6H186.4V114.6H187.4V120.9H188.5V122.9H189.5V122.9H190.6V123H191.7V123H192.7V115H193.8V115H194.9V120.2H195.9V120.2H197V117.2H198.1V117.2H199.1V119.8H200.2V120H201.3V120H202.3V124.8H203.4V124.8H204.4V129.6H205.5V129.6H206.6V130.1H207.6V125.4H208.7V125.4H209.8V131.8H210.8V131.8H211.9V133.3H213V127.5H214V127.5H215.1V129.9H216.2V127.1H217.2V127.1H218.3V127.6H219.3V127.6H220.4V134.5H221.5V136.9H222.5V136.9H223.6V137.1H224.7V137.1H225.7V135.7H226.8V132.3H227.9V129.3H228.9V127.2H230V127.2H231.1V127.2H232.1V125.7H233.2V125.7H234.3V126.1H235.3V118.4H236.4V118.4H237.4V124.1H238.5V121.2H239.6V121.2H240.6V120.9H241.7V120.9H242.8V125.4H243.8V123.3H244.9V117.5H246V117.5H247V119.6H248.1V119.6H249.2V119.6H250.2V119.6H251.3V122.4H252.3V122.4H253.4V126.9H254.5V124.7H255.5V124.7H256.6V125H257.7V118.7H258.7V118.7H259.8V125.1H260.9V125.1H261.9V123.9H263V123.9H264.1V117.7H265.1V117.7H266.2V124.8H267.2V124.5H268.3V124.5H269.4V118.3H270.4V118.3H271.5V122.1H272.6V120.7H273.6V120.7H274.7V120.8H275.8V123.7H276.8V122.1H277.9V122.1H279V123.3H280V126.8H281.1V125H282.2V123.4H283.2V116.8H284.3V116.8H285.3V121.2H286.4V121.2H287.5V121.6H288.5V121.8H289.6V121.8H290.7V126.3H291.7V125.2H292.8V124.9H293.9V121H294.9V121H296V124.1H297.1V131H298.1V128.6H299.2V128.6H300.2V129.3H301.3V129.3H302.4V130.6H303.4V131.6H304.5V126.2H305.6V126.2H306.6V126.3H307.7V131.3H308.8V136.2H309.8V139.8H310.9V139.8H312V142.8H313V141.1H314.1V141.1H315.2V144.6H316.2V144.4H317.3V143.5H318.3V143.5H319.4V149H320.5V145.3H321.5V135.9H322.6V135.9H323.7V138.9H324.7V138.9H325.8V136H326.9V134.9H327.9V134.9H329V138.2H330.1V133.9H331.1V130.5H332.2V129.8H333.2V129.8H334.3V129.5H335.4V129.5H336.4V128.4H337.5V128.4H338.6V131H339.6V127.3H340.7V127.3H341.8V127.7H342.8V129.7H343.9V124H345V124H346V122.6H347.1V122.6H348.1V123.2H349.2V123.2H350.3V122H351.3V122H352.4V129.1H353.5V129.1H354.5V123.9H355.6V123.9H356.7V126.8H357.7V126.6H358.8V125.5H359.9V125.5H360.9V121.8H362V121.8H363.1V125H364.1V125.3H365.2V125.3H366.2V125.3H367.3V127.1H368.4V127.9H369.4V129.3H370.5V129.3H371.6V127.8H372.6V127.8H373.7V135.5H374.8V135.6H375.8V140.7H376.9V139.5H378V136.5H379V136.5H380.1V142.8H381.1V149H382.2V155.1H383.3V155.1H384.3V160.4H385.4V163.3H386.5V171.2H387.5V174H388.6V174.6H389.7V174.6H390.7V189.9H391.8V190.7H392.9V197H393.9V202.7H395V210.9H396V225.7H397.1V223.8H398.2V222.3H399.2V212.3H400.3V211.3H401.4V207.1H402.4V203.1H403.5V197.2H404.6V197.2H405.6V202.1H406.7V198.8H407.8V197H408.8V194.7H409.9V194.7H411V195.7H412V186.7H413.1V185.6H414.1V185.6H415.2V180.6H416.3V175.9H417.3V174.1H418.4V167.3H419.5V161.6H420.5V161.6H421.6V155H422.7V146.9H423.7V146.9H424.8V147.6H425.9V147.6H426.9V145.4H428V139.6H429V139.6H430.1V134.8H431.2V134.8H432.2V137.8H433.3V135.5H434.4V131H435.4V131H436.5V134.3H437.6V135.8H438.6V139.1H439.7V139.1H440.8V136.5H441.8V136.5H442.9V139.5H443.9V139.5H445V142.6H446.1V142.6H447.1V145.1H448.2V143.3H449.3V143.3H450.3V143.4H451.4V148.6H452.5V151.7H453.5V152.9H454.6V152.9H455.7V155.3H456.7V161H457.8V171H458.9V181.3H459.9V187.5H461V192H462V197.7H463.1V194.4H464.2V194.4H465.2V189.1H466.3V181H467.4V170.8H468.4V158.7H469.5V157.7H470.6V149.6H471.6V146.3H472.7V145.6H473.8V140.6H474.8V140.6H475.9V139.8H476.9V132.8H478V130.5H479.1V130.5H480.1V130.7H481.2V130.7H482.3V129.7H483.3V129.7H484.4V135.4H485.5V135.4H486.5V131.9H487.6V131.9H488.7V136.4H489.7V134.5H490.8V129.6H491.8V129.6H492.9V139.7H494V139.7H495V137H496.1V137H497.2V141.6H498.2V139.3H499.3V139.3H500.4V141.5H501.4V142.9H502.5V138.8H503.6V138.8H504.6V140.4H505.7V145.8H506.8V134.4H507.8V134.4H508.9V134.6H509.9V134.6H511V130.3H512.1V130.3H513.1V132.9H514.2V132.9H515.3V135.1H516.3V135.1H517.4V137H518.5V137.2H519.5V137.2H520.6V137.3H521.7V136.6H522.7V133.4H523.8V131H524.8V131H525.9V131.1H527V133.5H528V131.4H529.1V131.4H530.2V134.7H531.2V130.3H532.3V130.2H533.4V128.1H534.4V120.7H535.5V120.7H536.6V128.3H537.6V122.2H538.7V122.2H539.8V125.5H540.8V125.2H541.9V121.6H542.9V121.6H544V126.4H545.1V125.1H546.1V125.1H547.2V118.4H548.3V118.4H549.3V126.1H550.4V126.1H551.5V126.4H552.5V129.9H553.6V126.8H554.7V126.8H555.7V130H556.8V123.2H557.8V123.2H558.9V122.7H560V122.7H561V129.1H562.1V127.1H563.2V123.2H564.2V123.1H565.3V123.1H566.4V120.3H567.4V120.3H568.5V121.4H569.6V124.7H570.6V124.7H571.7V126.8H572.7V124.1H573.8V124.1H574.9V133.2H575.9V131.6H577V131.6H578.1V139.2H579.1V139.2H580.2V141.7H581.3V137H582.3V137H583.4V142.4H584.5V141.9H585.5V139.8H586.6V138.1H587.7V138.1H588.7V139.1H589.8V136.4H590.8V136.4H591.9V129.5H593V129.5H594V134H595.1V127.7H596.2V127.7H597.2V124.4H598.3V124.4H599.4V129H600.4V126H601.5V126H602.6V126.6H603.6V129.4H604.7V129.4H605.7V129.2H606.8V123.7H607.9V122.7H608.9V121.7H610V121.7H611.1V125.9H612.1V124.9H613.2V124.9H614.3V129.6H615.3V131.3H616.4V123.2H617.5V123.2H618.5V126.4H619.6V126.4H620.6V127.5H621.7V124.1H622.8V124.1H623.8V127.3H624.9V127.3H626V128.7H627V130.3H628.1V128.2H629.2V127.8H630.2V123.9H631.3V121H632.4V121H633.4V121H634.5V121H635.6V123.8H636.6V123.8H637.7V123.4H638.7V123.4H639.8V128.2H640.9V122.6H641.9V122.6H643V126.2H644.1V121.5H645.1V121.5H646.2V123.7H647.3V123.7H648.3V123.5H649.4V123.5H650.5V126.9H651.5V127.5H652.6V120.9H653.6V120.9H654.7V124.7H655.8V122.3H656.8V122.3H657.9V124.1H659V124.3H660V120.5H661.1V120.5H662.2V122.7H663.2V122.7H664.3V124.3H665.4V124.3H666.4V123H667.5V123H668.5V124H669.6V128.7H670.7V125.7H671.7V125.7H672.8V126.1H673.9V122.3H674.9V116.2H676V116.2H677.1V143H676V137.9H674.9V139.6H673.9V144.7H672.8V144.7H671.7V145.6H670.7V145.6H669.6V143.7H668.5V137.3H667.5V143.1H666.4V143.1H665.4V139.6H664.3V139.6H663.2V139.5H662.2V139.5H661.1V138.3H660V146H659V146H657.9V139.4H656.8V139H655.8V141.6H654.7V141.6H653.6V143H652.6V143.3H651.5V143.3H650.5V140.3H649.4V139.9H648.3V139.9H647.3V141.3H646.2V141.3H645.1V144.2H644.1V144.2H643V140.4H641.9V144H640.9V148.5H639.8V148.5H638.7V141.9H637.7V141.9H636.6V138H635.6V138.5H634.5V141.4H633.4V141.4H632.4V140.8H631.3V143.2H630.2V143.2H629.2V146.5H628.1V146.5H627V144.7H626V142.7H624.9V142.4H623.8V142.4H622.8V142.8H621.7V144.1H620.6V144.1H619.6V149.4H618.5V149.4H617.5V146.1H616.4V146.1H615.3V144.6H614.3V143.9H613.2V140.2H612.1V146.1H611.1V146.1H610V138.2H608.9V137.1H607.9V143.3H606.8V144H605.7V144H604.7V147.8H603.6V147.8H602.6V140.9H601.5V147.1H600.4V147.1H599.4V143.1H598.3V146.9H597.2V146.9H596.2V154.7H595.1V154.7H594V147.6H593V152.4H591.9V152.4H590.8V155H589.8V162H588.7V162H587.7V156.7H586.6V158.2H585.5V158.2H584.5V159.6H583.4V159.6H582.3V155.2H581.3V155.5H580.2V155.5H579.1V158.4H578.1V158.4H577V150.3H575.9V150.3H574.9V148.5H573.8V140.4H572.7V145.1H571.7V145.1H570.6V142.9H569.6V142.9H568.5V135.4H567.4V140.8H566.4V140.8H565.3V139.3H564.2V141.5H563.2V148.1H562.1V148.1H561V145.2H560V142.5H558.9V142.5H557.8V147.4H556.8V147.4H555.7V144.5H554.7V145.3H553.6V145.3H552.5V143.4H551.5V140.9H550.4V141.7H549.3V141.7H548.3V139.9H547.2V139.9H546.1V142.3H545.1V142.3H544V141.9H542.9V141.6H541.9V141.6H540.8V145.1H539.8V145.1H538.7V142.9H537.6V144H536.6V144H535.5V141.7H534.4V143.9H533.4V143.9H532.3V149.2H531.2V152H530.2V152H529.1V149.9H528V150.3H527V150.3H525.9V147.9H524.8V148.3H523.8V150.6H522.7V152.5H521.7V155.1H520.6V155.1H519.5V152.8H518.5V152H517.4V151.3H516.3V151.4H515.3V151.4H514.2V148.3H513.1V148.3H512.1V154.3H511V154.3H509.9V158.6H508.9V158.6H507.8V160.2H506.8V160.2H505.7V160.2H504.6V154.4H503.6V157.5H502.5V157.5H501.4V157.1H500.4V155.9H499.3V157.8H498.2V157.8H497.2V156.6H496.1V155.5H495V155.5H494V154H492.9V154H491.8V148.9H490.8V157.3H489.7V157.3H488.7V150.9H487.6V150.9H486.5V150.9H485.5V150.5H484.4V150.5H483.3V155.9H482.3V155.9H481.2V151.6H480.1V151.6H479.1V147.1H478V153.4H476.9V155.6H475.9V157.4H474.8V158.9H473.8V161.4H472.7V164.1H471.6V174.7H470.6V174.7H469.5V185.9H468.4V195.2H467.4V203.1H466.3V209.1H465.2V209.1H464.2V217.4H463.1V217.4H462V215H461V207.7H459.9V201.7H458.9V195.2H457.8V185.1H456.7V174.7H455.7V170.1H454.6V171.7H453.5V171.7H452.5V167.2H451.4V163.2H450.3V157.9H449.3V160H448.2V161.8H447.1V161.8H446.1V158.1H445V158.1H443.9V156.1H442.9V156.1H441.8V155.2H440.8V155.2H439.7V156.6H438.6V156.6H437.6V150.1H436.5V148.6H435.4V149.9H434.4V155.2H433.3V155.2H432.2V152.3H431.2V156.5H430.1V156.5H429V160.3H428V166H426.9V166H425.9V164.6H424.8V164.6H423.7V169.9H422.7V181.5H421.6V181.5H420.5V180.9H419.5V188.7H418.4V189.1H417.3V194.6H416.3V202.2H415.2V202.2H414.1V201.1H413.1V211.1H412V214H411V214H409.9V213.6H408.8V213.6H407.8V223.4H406.7V223.4H405.6V216.2H404.6V219.1H403.5V220.8H402.4V227.1H401.4V227.1H400.3V236.8H399.2V239.1H398.2V240.3H397.1V240.3H396V239.3H395V224.1H393.9V217.9H392.9V210.2H391.8V205.5H390.7V204.1H389.7V189.5H388.6V189.5H387.5V189.1H386.5V185.8H385.4V177.3H384.3V173.8H383.3V169.4H382.2V169.4H381.1V162.4H380.1V159.4H379V154.3H378V154.3H376.9V156.6H375.8V156.6H374.8V150.6H373.7V149.9H372.6V145.1H371.6V146.1H370.5V146.1H369.4V143.8H368.4V141.7H367.3V141H366.2V148.9H365.2V148.9H364.1V138.9H363.1V138.4H362V147H360.9V147H359.9V141.2H358.8V141.2H357.7V140.4H356.7V140.4H355.6V145.4H354.5V145.4H353.5V146.4H352.4V146.4H351.3V145.5H350.3V145.5H349.2V146.1H348.1V146.1H347.1V148.9H346V148.9H345V143.9H343.9V145.6H342.8V145.6H341.8V143H340.7V146.8H339.6V146.8H338.6V144.3H337.5V144.4H336.4V144.4H335.4V150H334.3V150H333.2V144.8H332.2V150.7H331.1V154H330.1V154.2H329V154.2H327.9V150.8H326.9V155.4H325.8V155.4H324.7V153.3H323.7V153.1H322.6V161.4H321.5V164.9H320.5V164.9H319.4V162.3H318.3V158.1H317.3V160.8H316.2V160.8H315.2V159H314.1V160.2H313V160.2H312V156.9H310.9V154.9H309.8V154.9H308.8V150.9H307.7V146.7H306.6V141.1H305.6V146.8H304.5V152.4H303.4V152.4H302.4V144.5H301.3V145.1H300.2V145.1H299.2V144.6H298.1V144.6H297.1V144.4H296V140.6H294.9V139.9H293.9V140.1H292.8V140.2H291.7V144.1H290.7V144.1H289.6V142.8H288.5V142.8H287.5V134.9H286.4V135H285.3V135H284.3V137.2H283.2V139.7H282.2V142.6H281.1V142.6H280V141.9H279V137.8H277.9V137.7H276.8V139.9H275.8V139.9H274.7V136.1H273.6V137.5H272.6V137.5H271.5V137.3H270.4V140.6H269.4V140.6H268.3V139H267.2V142.2H266.2V142.2H265.1V143.5H264.1V143.5H263V144.2H261.9V144.2H260.9V139H259.8V139H258.7V140.2H257.7V140.2H256.6V138.7H255.5V142.1H254.5V142.1H253.4V141H252.3V138.5H251.3V138.5H250.2V138.2H249.2V138.2H248.1V137.1H247V137.1H246V136.6H244.9V141H243.8V145.1H242.8V145.1H241.7V141.7H240.6V141.7H239.6V141.7H238.5V141.7H237.4V139.7H236.4V142.4H235.3V145.8H234.3V145.8H233.2V145.3H232.1V145.3H231.1V140.9H230V143.2H228.9V147.9H227.9V149.1H226.8V152.7H225.7V152.7H224.7V154H223.6V154H222.5V153.3H221.5V153.3H220.4V150.1H219.3V144H218.3V144H217.2V146.2H216.2V149.1H215.1V149.1H214V147.5H213V147.7H211.9V147.7H210.8V155.1H209.8V155.1H208.7V144.2H207.6V147.3H206.6V147.3H205.5V147.2H204.4V147.2H203.4V140.3H202.3V140.3H201.3V142.7H200.2V142.7H199.1V135.7H198.1V140.3H197V140.3H195.9V142H194.9V142H193.8V137.4H192.7V137.4H191.7V141.6H190.6V141.6H189.5V137.7H188.5V137.7H187.4V135.9H186.4V132.2H185.3V137.4H184.2V142.2H183.2V142.2H182.1V134.3H181V136H180V136H178.9V133.5H177.8V138.3H176.8V138.3H175.7V138.4H174.6V138.4H173.6V134.2H172.5V137.8H171.4V137.8H170.4V135.2H169.3V137.8H168.3V139.4H167.2V139.4H166.1V139.1H165.1V137.5H164V137.5H162.9V133.6H161.9V135.5H160.8V135.5H159.7V135.3H158.7V137.4H157.6V142.4H156.5V142.4H155.5V140.3H154.4V142H153.4V142H152.3V133.5H151.2V133.5H150.2V137.2H149.1V137.2H148V136H147V136H145.9V134.7H144.8V133.8H143.8V135.7H142.7V138.8H141.6V139.3H140.6V139.3H139.5V137H138.5V136.3H137.4V131.8H136.3V139.7H135.3V139.7H134.2V134.6H133.1V143H132.1V143H131Z"/><path d="M131 220.6H132.1V219.7H133.1V218.9H134.2V218.9H135.3V222.1H136.3V217.8H137.4V217.8H138.5V217.8H139.5V217.9H140.6V217.9H141.6V217.9H142.7V214.7H143.8V214.7H144.8V216.8H145.9V220.6H147V220.9H148V215.7H149.1V215.7H150.2V217.1H151.2V219.4H152.3V219.3H153.4V219.3H154.4V218.8H155.5V218.8H156.5V219H157.6V221.1H158.7V223H159.7V223H160.8V221.2H161.9V221.2H162.9V220.2H164V220.2H165.1V218.8H166.1V218.8H167.2V221.4H168.3V222H169.3V222.2H170.4V220.2H171.4V220.2H172.5V221.2H173.6V218.7H174.6V218.7H175.7V221.6H176.8V222.5H177.8V226.6H178.9V224.9H180V224.9H181V228.3H182.1V225.1H183.2V221.1H184.2V221.1H185.3V222.7H186.4V221.5H187.4V221.5H188.5V224H189.5V225.4H190.6V225.4H191.7V225.1H192.7V224.5H193.8V224.5H194.9V229.8H195.9V227.3H197V227.3H198.1V233.3H199.1V237.8H200.2V237.8H201.3V238.4H202.3V238.4H203.4V243.1H204.4V243.1H205.5V245.1H206.6V246.9H207.6V253.2H208.7V253.2H209.8V247.6H210.8V244.7H211.9V244.7H213V242.7H214V240.4H215.1V240.4H216.2V243.7H217.2V238.3H218.3V238.3H219.3V239.1H220.4V234.5H221.5V232.7H222.5V232.7H223.6V234.2H224.7V230.4H225.7V230.4H226.8V232.7H227.9V229.9H228.9V229.1H230V229.1H231.1V229.7H232.1V232.5H233.2V225.5H234.3V225.5H235.3V227.1H236.4V227.1H237.4V229.2H238.5V228.5H239.6V224H240.6V224H241.7V227.2H242.8V227.2H243.8V221.2H244.9V221.2H246V228H247V228H248.1V228.2H249.2V229.9H250.2V224H251.3V224H252.3V229H253.4V229.5H254.5V228.5H255.5V228.5H256.6V229.9H257.7V228.3H258.7V225H259.8V225H260.9V231.9H261.9V231.2H263V228.9H264.1V228.9H265.1V225.9H266.2V225.9H267.2V230.5H268.3V229.2H269.4V229.2H270.4V230H271.5V229.2H272.6V227.1H273.6V226H274.7V226H275.8V229.5H276.8V234.6H277.9V230.7H279V230.7H280V232.7H281.1V230.3H282.2V230.3H283.2V230.2H284.3V230.2H285.3V234.2H286.4V234.2H287.5V236H288.5V236.2H289.6V236.2H290.7V244.6H291.7V244.6H292.8V238.9H293.9V238.9H294.9V247H296V245.3H297.1V245.3H298.1V249.7H299.2V254H300.2V249.4H301.3V249.4H302.4V251.8H303.4V245.1H304.5V242.8H305.6V242.6H306.6V242.6H307.7V241.1H308.8V239.8H309.8V239.8H310.9V239.2H312V239.2H313V239.6H314.1V239.6H315.2V241.9H316.2V246.4H317.3V246.4H318.3V248.2H319.4V248.2H320.5V249.2H321.5V249.2H322.6V244.2H323.7V244.2H324.7V245.1H325.8V241H326.9V240.6H327.9V235.8H329V235.8H330.1V240.1H331.1V238.2H332.2V238.2H333.2V234.2H334.3V234.2H335.4V235.2H336.4V235.2H337.5V236.6H338.6V236.1H339.6V236.1H340.7V233.6H341.8V231.8H342.8V231.8H343.9V229.2H345V229.2H346V231.7H347.1V234.5H348.1V232.1H349.2V231.4H350.3V230.2H351.3V230.2H352.4V231.3H353.5V233.8H354.5V235H355.6V234.4H356.7V234.4H357.7V230.9H358.8V230.9H359.9V236.6H360.9V234.8H362V234.8H363.1V237.2H364.1V237.2H365.2V237.6H366.2V239.8H367.3V239.9H368.4V242.3H369.4V241.4H370.5V241.4H371.6V247.9H372.6V250H373.7V249.1H374.8V249.1H375.8V250.8H376.9V250.8H378V255.5H379V262.2H380.1V262.6H381.1V267H382.2V269.9H383.3V276.1H384.3V280H385.4V284.8H386.5V292.9H387.5V299.3H388.6V308.6H389.7V317H390.7V325.9H391.8V332.1H392.9V339.6H393.9V346.6H395V357.2H396V367.9H397.1V367.9H398.2V366.4H399.2V363.4H400.3V363.4H401.4V367H402.4V367H403.5V371.1H404.6V370.9H405.6V360.1H406.7V354.1H407.8V342.5H408.8V333.4H409.9V329.3H411V327.9H412V325.6H413.1V325.6H414.1V330H415.2V330H416.3V338.5H417.3V335.4H418.4V326.7H419.5V316.1H420.5V300.3H421.6V294.8H422.7V283.7H423.7V270.6H424.8V270.6H425.9V262.5H426.9V262.3H428V261.7H429V259.7H430.1V255.2H431.2V255.2H432.2V256H433.3V256.9H434.4V256.9H435.4V252.7H436.5V252.7H437.6V258.6H438.6V257.1H439.7V257.1H440.8V260.9H441.8V260.9H442.9V261H443.9V261H445V265.4H446.1V267.4H447.1V268H448.2V270.9H449.3V273.6H450.3V272.8H451.4V272.8H452.5V281H453.5V282.9H454.6V288.5H455.7V290.3H456.7V301.2H457.8V305.6H458.9V312.7H459.9V318.7H461V322.3H462V323.5H463.1V323.7H464.2V323.4H465.2V319.9H466.3V313.2H467.4V303.2H468.4V293.4H469.5V289.5H470.6V281.6H471.6V275.8H472.7V274.6H473.8V269.8H474.8V267.5H475.9V260.7H476.9V259.5H478V257H479.1V255.1H480.1V252.3H481.2V252.3H482.3V246.9H483.3V246.9H484.4V250.1H485.5V248.9H486.5V248.7H487.6V247.3H488.7V247.3H489.7V250.6H490.8V250.8H491.8V250.8H492.9V252.6H494V252.5H495V249.4H496.1V249.4H497.2V251.4H498.2V255H499.3V258.5H500.4V255.9H501.4V255.3H502.5V254.6H503.6V254.6H504.6V254.1H505.7V254H506.8V250.6H507.8V250.6H508.9V249.1H509.9V248.3H511V248.3H512.1V249.1H513.1V246.9H514.2V246.9H515.3V246.1H516.3V246.1H517.4V245.7H518.5V245.7H519.5V247.1H520.6V245.2H521.7V245.2H522.7V247.9H523.8V247.9H524.8V252.8H525.9V250.7H527V250.7H528V252.2H529.1V254.6H530.2V251.8H531.2V251.8H532.3V251.3H533.4V250.2H534.4V249.4H535.5V248.9H536.6V243.1H537.6V243.1H538.7V245.8H539.8V242.7H540.8V242.7H541.9V240.3H542.9V238.4H544V234.8H545.1V234H546.1V234H547.2V236.9H548.3V236.9H549.3V238.3H550.4V235.6H551.5V232.5H552.5V232.5H553.6V232.2H554.7V225.2H555.7V225.2H556.8V230.9H557.8V232.1H558.9V233.7H560V232.7H561V226.3H562.1V226.3H563.2V232.1H564.2V229.5H565.3V225.3H566.4V225.3H567.4V229.7H568.5V227.3H569.6V227.3H570.6V233H571.7V231.8H572.7V230.4H573.8V230.4H574.9V232.7H575.9V232.7H577V234.3H578.1V230.7H579.1V230.7H580.2V229.7H581.3V229.7H582.3V231.6H583.4V231.5H584.5V231.5H585.5V235H586.6V234.9H587.7V234.9H588.7V235.6H589.8V227.9H590.8V227.9H591.9V236.4H593V236.4H594V236.3H595.1V236.3H596.2V239H597.2V242.4H598.3V243.2H599.4V243.2H600.4V247.4H601.5V253.6H602.6V249.2H603.6V249.2H604.7V256.5H605.7V256.7H606.8V259.4H607.9V259.4H608.9V263.6H610V264H611.1V258.9H612.1V258.9H613.2V259.9H614.3V251.9H615.3V248.2H616.4V243.8H617.5V241.5H618.5V241.3H619.6V237.6H620.6V237.6H621.7V231H622.8V231H623.8V232.1H624.9V225.7H626V225.7H627V230.1H628.1V228.4H629.2V228.4H630.2V229.7H631.3V223.4H632.4V223.4H633.4V230.3H634.5V229.9H635.6V229.9H636.6V225.2H637.7V225.2H638.7V225.4H639.8V225.4H640.9V229.8H641.9V221.8H643V221.8H644.1V225.3H645.1V225.3H646.2V227.1H647.3V227.8H648.3V227.8H649.4V228.8H650.5V229.7H651.5V228.2H652.6V228H653.6V227.4H654.7V227.4H655.8V231.3H656.8V231.3H657.9V230.4H659V228.3H660V228.3H661.1V227.8H662.2V223.2H663.2V223.2H664.3V224H665.4V225.5H666.4V225.5H667.5V227H668.5V227.2H669.6V223.5H670.7V223.5H671.7V227.6H672.8V224.7H673.9V224.7H674.9V227.4H676V227.9H677.1V240.6H676V240.6H674.9V239.7H673.9V239.4H672.8V239.4H671.7V237.6H670.7V240.6H669.6V240.6H668.5V238.6H667.5V237.5H666.4V244.9H665.4V244.9H664.3V234.9H663.2V237.7H662.2V242.1H661.1V242.1H660V240.7H659V242.9H657.9V242.9H656.8V245.4H655.8V245.4H654.7V238.2H653.6V238.5H652.6V242.1H651.5V242.1H650.5V239.2H649.4V239.2H648.3V240H647.3V240H646.2V237.1H645.1V242.2H644.1V242.2H643V242.3H641.9V242.3H640.9V241.7H639.8V235.1H638.7V235H637.7V241.2H636.6V241.2H635.6V246.1H634.5V246.1H633.4V240.5H632.4V241.5H631.3V243H630.2V243H629.2V242.5H628.1V244.5H627V244.5H626V243.9H624.9V245.3H623.8V245.3H622.8V247.3H621.7V248.1H620.6V251.2H619.6V252.9H618.5V253.4H617.5V260.5H616.4V261.4H615.3V274.1H614.3V274.1H613.2V270.6H612.1V274.9H611.1V275.8H610V275.8H608.9V273.5H607.9V273H606.8V273H605.7V266.4H604.7V266.4H603.6V263.8H602.6V264.8H601.5V264.8H600.4V257.5H599.4V253.4H598.3V253.4H597.2V253.4H596.2V249.3H595.1V249.9H594V249.9H593V247.1H591.9V247.1H590.8V250.1H589.8V250.1H588.7V247.7H587.7V245.1H586.6V247.9H585.5V247.9H584.5V242.3H583.4V244H582.3V244H581.3V244.7H580.2V244.7H579.1V245.5H578.1V245.5H577V244.6H575.9V244.1H574.9V243.7H573.8V242H572.7V244H571.7V244H570.6V243.6H569.6V239.4H568.5V243.2H567.4V243.2H566.4V242.5H565.3V242.9H564.2V248.2H563.2V248.2H562.1V246.5H561V246.5H560V243.9H558.9V244.2H557.8V244.2H556.8V241.5H555.7V242.5H554.7V247.2H553.6V247.2H552.5V246H551.5V247.8H550.4V249.7H549.3V249.7H548.3V248.1H547.2V248.1H546.1V247.8H545.1V248H544V250.8H542.9V254.5H541.9V254.5H540.8V255.7H539.8V257.3H538.7V257.3H537.6V258.7H536.6V258.9H535.5V260.9H534.4V263.8H533.4V263.8H532.3V262.4H531.2V269.3H530.2V269.3H529.1V264.7H528V264.7H527V262.4H525.9V264.6H524.8V264.6H523.8V260.5H522.7V260.5H521.7V258.9H520.6V258.9H519.5V258H518.5V257.4H517.4V257.4H516.3V260.2H515.3V261.6H514.2V261.8H513.1V261.8H512.1V259.3H511V259.5H509.9V261.3H508.9V261.3H507.8V263.6H506.8V263.6H505.7V267.7H504.6V267.7H503.6V266H502.5V266.8H501.4V269.6H500.4V271.5H499.3V271.5H498.2V265.3H497.2V262.3H496.1V264.3H495V264.3H494V264.3H492.9V262.6H491.8V262.6H490.8V261.8H489.7V260.9H488.7V260H487.6V260H486.5V262.5H485.5V263.6H484.4V263.6H483.3V264.8H482.3V264.8H481.2V265.2H480.1V266.5H479.1V270.1H478V270.7H476.9V278.6H475.9V279.4H474.8V284.3H473.8V285.4H472.7V291.4H471.6V299.8H470.6V304.1H469.5V312.8H468.4V325.2H467.4V329.8H466.3V333.1H465.2V339.2H464.2V339.2H463.1V334.8H462V334.2H461V331.8H459.9V329.2H458.9V322.3H457.8V315.2H456.7V311.2H455.7V300.3H454.6V298H453.5V293.8H452.5V291.1H451.4V286.2H450.3V286.2H449.3V283.4H448.2V280.6H447.1V278.3H446.1V277.8H445V275.3H443.9V274.5H442.9V274.5H441.8V274.1H440.8V274.1H439.7V269.6H438.6V270.5H437.6V270.5H436.5V268.9H435.4V268.9H434.4V269.7H433.3V269.7H432.2V265.8H431.2V269.2H430.1V273.2H429V273.2H428V272H426.9V282.3H425.9V282.3H424.8V296H423.7V304.2H422.7V310.8H421.6V327.6H420.5V337.5H419.5V347.5H418.4V349.5H417.3V349.5H416.3V348.6H415.2V346.3H414.1V346.3H413.1V338.5H412V338.8H411V346.6H409.9V354.2H408.8V364.7H407.8V370.3H406.7V380.4H405.6V385.6H404.6V385.6H403.5V383.1H402.4V378.3H401.4V377.6H400.3V376.3H399.2V379.6H398.2V379.6H397.1V378.4H396V378.4H395V366.6H393.9V359.1H392.9V349.7H391.8V342.5H390.7V336.5H389.7V327.6H388.6V318.3H387.5V309.2H386.5V303.4H385.4V294.5H384.3V289.6H383.3V285.9H382.2V280.7H381.1V277H380.1V273.2H379V272.4H378V265.4H376.9V266.4H375.8V266.4H374.8V263.1H373.7V263.1H372.6V260.2H371.6V257.3H370.5V255.2H369.4V255.2H368.4V252.8H367.3V251.7H366.2V251.7H365.2V248.5H364.1V248.3H363.1V248.3H362V248H360.9V248H359.9V246.2H358.8V248.6H357.7V248.6H356.7V246H355.6V246H354.5V245.8H353.5V245.8H352.4V241.3H351.3V244H350.3V244H349.2V247.7H348.1V247.7H347.1V243.9H346V241.6H345V242.7H343.9V242.7H342.8V243.6H341.8V250.4H340.7V250.4H339.6V249.1H338.6V249.1H337.5V246.2H336.4V248.6H335.4V248.6H334.3V253.2H333.2V253.2H332.2V251H331.1V251.1H330.1V251.1H329V251H327.9V251.1H326.9V256.9H325.8V259.4H324.7V259.4H323.7V261.7H322.6V261.7H321.5V262.3H320.5V262.3H319.4V260.9H318.3V260.9H317.3V259.4H316.2V259.4H315.2V254.4H314.1V253.3H313V253.3H312V254.5H310.9V254.5H309.8V251.6H308.8V253.1H307.7V253.1H306.6V253.9H305.6V254.7H304.5V261.2H303.4V269.4H302.4V269.4H301.3V263.6H300.2V264.9H299.2V264.9H298.1V260.1H297.1V257.7H296V258.4H294.9V258.4H293.9V259.5H292.8V259.5H291.7V258.3H290.7V258.3H289.6V247.7H288.5V247.7H287.5V246.2H286.4V248.8H285.3V248.8H284.3V242.5H283.2V242.5H282.2V246.7H281.1V246.7H280V243.7H279V247.1H277.9V247.1H276.8V246H275.8V239H274.7V238.9H273.6V240.3H272.6V240.3H271.5V242.9H270.4V242.9H269.4V240.7H268.3V242.4H267.2V242.4H266.2V242.1H265.1V242.1H264.1V242.2H263V243.2H261.9V243.2H260.9V241.8H259.8V239.5H258.7V239.8H257.7V240.5H256.6V240.5H255.5V241H254.5V241H253.4V240.7H252.3V238.6H251.3V244.6H250.2V244.6H249.2V241.5H248.1V239.7H247V240.1H246V240.1H244.9V242.5H243.8V242.5H242.8V238.8H241.7V238.8H240.6V241.4H239.6V244.2H238.5V244.2H237.4V239.6H236.4V242.5H235.3V242.5H234.3V242H233.2V244.1H232.1V244.1H231.1V242.3H230V242.5H228.9V242.5H227.9V245.2H226.8V245.2H225.7V248.4H224.7V248.4H223.6V246.9H222.5V244.4H221.5V249.5H220.4V249.5H219.3V249.3H218.3V254.3H217.2V255.5H216.2V255.5H215.1V255H214V259.9H213V259.9H211.9V258.4H210.8V265.2H209.8V265.2H208.7V264.7H207.6V264.7H206.6V258.1H205.5V254.9H204.4V255.6H203.4V255.6H202.3V254H201.3V254H200.2V249.5H199.1V249.5H198.1V246.4H197V244.1H195.9V244.1H194.9V240H193.8V239.2H192.7V241.8H191.7V241.8H190.6V237.4H189.5V237.4H188.5V234.8H187.4V235.6H186.4V235.6H185.3V232.5H184.2V235.3H183.2V239.2H182.1V239.2H181V237.9H180V236.7H178.9V238H177.8V238H176.8V233.9H175.7V233.9H174.6V237.3H173.6V237.3H172.5V231.9H171.4V231.9H170.4V235.1H169.3V235.1H168.3V233.1H167.2V231H166.1V233.5H165.1V234.9H164V234.9H162.9V234.2H161.9V233.4H160.8V233.4H159.7V233.1H158.7V234.2H157.6V234.2H156.5V230.4H155.5V236.1H154.4V236.1H153.4V231.4H152.3V229.9H151.2V229.9H150.2V227.8H149.1V230.9H148V234.5H147V234.5H145.9V230.2H144.8V227.2H143.8V228.7H142.7V231.1H141.6V231.1H140.6V230.5H139.5V230.5H138.5V229.9H137.4V232.9H136.3V232.9H135.3V232.8H134.2V229.2H133.1V232H132.1V232H131Z"/><path d="M131 391H132.1V385.4H133.1V385.4H134.2V375.1H135.3V375.1H136.3V384.2H137.4V384.6H138.5V384.6H139.5V388.2H140.6V383.9H141.6V383.9H142.7V388H143.8V379.5H144.8V379.5H145.9V385.7H147V380.3H148V380.3H149.1V390.4H150.2V386.5H151.2V386.5H152.3V390H153.4V388.5H154.4V388.5H155.5V389.5H156.5V391.3H157.6V384.8H158.7V375.8H159.7V375.8H160.8V377.3H161.9V381.7H162.9V387.1H164V387.1H165.1V387.6H166.1V386.3H167.2V383.4H168.3V383.4H169.3V377.9H170.4V377.9H171.4V385H172.5V383.5H173.6V383.5H174.6V387.8H175.7V387.4H176.8V385.1H177.8V380.9H178.9V380.9H180V373.5H181V373.5H182.1V379.9H183.2V387.6H184.2V380.8H185.3V380.8H186.4V393.3H187.4V393.3H188.5V393.3H189.5V385.3H190.6V383.3H191.7V383.3H192.7V387.9H193.8V389.4H194.9V388.1H195.9V388.1H197V382.6H198.1V382.6H199.1V378.6H200.2V378.6H201.3V395.5H202.3V396.8H203.4V387.5H204.4V387.5H205.5V389.1H206.6V388.7H207.6V385.9H208.7V385.9H209.8V396.9H210.8V396.9H211.9V391.5H213V391.5H214V401.2H215.1V402.6H216.2V402.6H217.2V399.1H218.3V399.1H219.3V408.6H220.4V408.6H221.5V408.3H222.5V405.1H223.6V405.1H224.7V403.4H225.7V400.1H226.8V397.1H227.9V395.2H228.9V395.2H230V405.1H231.1V397.8H232.1V397.4H233.2V393.3H234.3V393.3H235.3V395.6H236.4V393.8H237.4V391H238.5V391H239.6V397.3H240.6V384.5H241.7V384.5H242.8V390.6H243.8V394.5H244.9V390.9H246V390.9H247V384.6H248.1V384.4H249.2V384.4H250.2V386.8H251.3V386.8H252.3V387.7H253.4V387.7H254.5V390.9H255.5V387.5H256.6V387.5H257.7V390.1H258.7V390.5H259.8V389.2H260.9V389.2H261.9V383.5H263V383.5H264.1V384H265.1V382.4H266.2V382.4H267.2V385H268.3V385H269.4V385.7H270.4V391.3H271.5V391.3H272.6V390.1H273.6V385.2H274.7V385.2H275.8V389.2H276.8V385.1H277.9V385.1H279V391.2H280V387.1H281.1V387.1H282.2V388.6H283.2V389.6H284.3V385.4H285.3V385.4H286.4V396.3H287.5V395.5H288.5V391H289.6V391H290.7V393.4H291.7V394.5H292.8V392.1H293.9V392.1H294.9V389.4H296V389.4H297.1V398.6H298.1V398.6H299.2V410.2H300.2V401.4H301.3V398.7H302.4V395.4H303.4V395.4H304.5V400H305.6V393H306.6V392.5H307.7V392.5H308.8V398.3H309.8V398.3H310.9V403H312V403H313V400.8H314.1V400.8H315.2V405.4H316.2V409.2H317.3V402.9H318.3V402.9H319.4V405.6H320.5V397.8H321.5V397.4H322.6V397.4H323.7V406.3H324.7V410.4H325.8V403.5H326.9V403.5H327.9V404.8H329V403.3H330.1V403.3H331.1V396.2H332.2V392.2H333.2V392.2H334.3V401.5H335.4V401.5H336.4V399.1H337.5V397.1H338.6V395.7H339.6V391H340.7V391H341.8V392H342.8V392H343.9V394.6H345V394.7H346V394.7H347.1V395.2H348.1V397.3H349.2V396.6H350.3V393.9H351.3V393.9H352.4V400H353.5V390.5H354.5V390.5H355.6V391.4H356.7V390H357.7V387.1H358.8V387.1H359.9V395.5H360.9V382.8H362V382.8H363.1V399.7H364.1V395.8H365.2V394.6H366.2V394.6H367.3V396.9H368.4V391.2H369.4V391.2H370.5V385.6H371.6V385.6H372.6V386.4H373.7V386.4H374.8V391.4H375.8V395.5H376.9V392.7H378V392.7H379V394.2H380.1V397.2H381.1V397.2H382.2V397.9H383.3V400.3H384.3V408.7H385.4V410.9H386.5V412.9H387.5V410.5H388.6V410.5H389.7V416.6H390.7V409.8H391.8V409.8H392.9V415.6H393.9V422.7H395V428.2H396V428.2H397.1V432.1H398.2V432.5H399.2V437.4H400.3V439H401.4V435.7H402.4V435.7H403.5V451.1H404.6V451.1H405.6V469.3H406.7V473.7H407.8V473H408.8V473H409.9V483.1H411V478.6H412V473.3H413.1V455H414.1V452.5H415.2V452.5H416.3V453.3H417.3V457.8H418.4V468.7H419.5V474.1H420.5V476.6H421.6V479.8H422.7V464.5H423.7V464.5H424.8V444.2H425.9V433.4H426.9V426.7H428V421.5H429V420.8H430.1V419H431.2V412.6H432.2V409.2H433.3V409.2H434.4V410.3H435.4V404.1H436.5V402.2H437.6V402.2H438.6V398.1H439.7V396.4H440.8V396.4H441.8V406.4H442.9V401H443.9V401H445V403.5H446.1V403.5H447.1V407.8H448.2V406.3H449.3V406.3H450.3V406.3H451.4V409.1H452.5V395H453.5V395H454.6V392.2H455.7V392.2H456.7V397H457.8V398.4H458.9V398.4H459.9V404.5H461V404.5H462V411.5H463.1V412.3H464.2V415.7H465.2V403.4H466.3V403.4H467.4V410.1H468.4V411.3H469.5V409.3H470.6V402.7H471.6V395.9H472.7V394.6H473.8V394.6H474.8V399H475.9V403.1H476.9V403.1H478V399.5H479.1V399.5H480.1V391.5H481.2V391.5H482.3V397.2H483.3V396.4H484.4V396.4H485.5V399.3H486.5V398.2H487.6V398.2H488.7V393.9H489.7V393H490.8V393H491.8V400.8H492.9V400.8H494V401.3H495V399H496.1V399H497.2V396.4H498.2V396.4H499.3V400.8H500.4V400.8H501.4V407.4H502.5V398H503.6V398H504.6V402.7H505.7V402.7H506.8V408H507.8V408H508.9V403.1H509.9V403.1H511V401.1H512.1V397.9H513.1V392.1H514.2V392.1H515.3V404.2H516.3V404.2H517.4V402.3H518.5V402.3H519.5V405H520.6V399.7H521.7V399.7H522.7V416.6H523.8V409.4H524.8V409.4H525.9V409.9H527V409.9H528V404.1H529.1V404.1H530.2V409.9H531.2V407.1H532.3V405.5H533.4V401.1H534.4V401.1H535.5V391.9H536.6V391.9H537.6V402.7H538.7V401H539.8V398.8H540.8V398.8H541.9V398.6H542.9V392.8H544V386.8H545.1V386.8H546.1V397.1H547.2V384.7H548.3V384.7H549.3V394.7H550.4V394.7H551.5V395.3H552.5V392.1H553.6V392.1H554.7V389.1H555.7V377.6H556.8V377.6H557.8V390.6H558.9V390.6H560V393.4H561V393.9H562.1V398.4H563.2V400.7H564.2V396.4H565.3V394.5H566.4V390H567.4V390H568.5V383.7H569.6V383.7H570.6V390.2H571.7V393.7H572.7V394.6H573.8V391.2H574.9V391.2H575.9V399.2H577V384.2H578.1V384.2H579.1V387.6H580.2V387.6H581.3V392.3H582.3V384.9H583.4V384.9H584.5V384H585.5V384H586.6V390.7H587.7V385.6H588.7V385.6H589.8V394.2H590.8V389.5H591.9V389.5H593V390.8H594V390.8H595.1V397H596.2V397H597.2V397.2H598.3V407.6H599.4V402.2H600.4V388.7H601.5V388.7H602.6V404.5H603.6V404.5H604.7V408.9H605.7V408.4H606.8V408.4H607.9V409.1H608.9V418.9H610V416.8H611.1V403.4H612.1V403.4H613.2V405.3H614.3V392.6H615.3V392.6H616.4V394.3H617.5V394.3H618.5V394.4H619.6V394.4H620.6V385.2H621.7V378.7H622.8V378.7H623.8V385H624.9V385H626V385.5H627V391.7H628.1V395.6H629.2V388.5H630.2V384.6H631.3V384.6H632.4V385.3H633.4V383.8H634.5V383.8H635.6V386.1H636.6V390.4H637.7V378.5H638.7V378.5H639.8V383.3H640.9V383.3H641.9V385.4H643V385.4H644.1V389.5H645.1V389.5H646.2V386.5H647.3V383.9H648.3V383.9H649.4V379.8H650.5V379.8H651.5V381.7H652.6V381.7H653.6V385.4H654.7V384.5H655.8V384.5H656.8V392.7H657.9V387.8H659V383.4H660V383.4H661.1V392.2H662.2V387H663.2V387H664.3V390.9H665.4V386.7H666.4V386.7H667.5V389.6H668.5V387.7H669.6V387.7H670.7V387.6H671.7V387.6H672.8V387.3H673.9V385H674.9V385H676V384.7H677.1V414.2H676V414.2H674.9V409.2H673.9V415.7H672.8V415.7H671.7V417.7H670.7V417.7H669.6V410.9H668.5V413.8H667.5V413.8H666.4V413.7H665.4V413.7H664.3V412H663.2V412.5H662.2V424H661.1V424H660V410.6H659V414.2H657.9V415.2H656.8V415.2H655.8V406.8H654.7V407.8H653.6V407.8H652.6V404.7H651.5V404.7H650.5V415.1H649.4V415.1H648.3V407.4H647.3V412.9H646.2V412.9H645.1V414.4H644.1V414.4H643V411.2H641.9V411.2H640.9V420H639.8V420H638.7V411.6H637.7V416.7H636.6V416.7H635.6V409.3H634.5V407.4H633.4V412.1H632.4V412.1H631.3V409H630.2V418.5H629.2V418.5H628.1V416.9H627V412.3H626V407.6H624.9V408.5H623.8V408.5H622.8V406H621.7V418.6H620.6V418.6H619.6V423.9H618.5V423.9H617.5V428.3H616.4V428.3H615.3V426.6H614.3V426.6H613.2V426H612.1V438.1H611.1V439.9H610V439.9H608.9V439.1H607.9V429.6H606.8V429.8H605.7V431.5H604.7V431.5H603.6V428.8H602.6V428.8H601.5V422.7H600.4V427.7H599.4V428.5H598.3V428.5H597.2V417.9H596.2V421.1H595.1V421.1H594V418.6H593V418.6H591.9V416.5H590.8V416.5H589.8V414.5H588.7V415.4H587.7V415.4H586.6V411.6H585.5V412.2H584.5V412.2H583.4V412.4H582.3V423.3H581.3V423.3H580.2V411.3H579.1V411.3H578.1V420.7H577V424H575.9V424H574.9V416.4H573.8V416.4H572.7V415.6H571.7V414.4H570.6V410.2H569.6V424.1H568.5V424.1H567.4V415.3H566.4V416.8H565.3V422.2H564.2V425.7H563.2V425.7H562.1V419.9H561V414.7H560V414.1H558.9V415.3H557.8V415.3H556.8V410.9H555.7V418.1H554.7V418.1H553.6V416.8H552.5V422.1H551.5V422.1H550.4V425.7H549.3V425.7H548.3V420.5H547.2V426.7H546.1V426.7H545.1V413H544V419.6H542.9V419.6H541.9V421.4H540.8V422.8H539.8V427.6H538.7V427.6H537.6V423.3H536.6V424H535.5V424H534.4V426.8H533.4V427.5H532.3V438.9H531.2V438.9H530.2V431.3H529.1V432.2H528V432.2H527V431.5H525.9V430.6H524.8V439.4H523.8V439.4H522.7V436.7H521.7V425.9H520.6V426.6H519.5V426.6H518.5V429H517.4V429H516.3V425.7H515.3V425.7H514.2V419.7H513.1V421.2H512.1V432H511V432H509.9V432H508.9V432H507.8V438.1H506.8V438.1H505.7V429.2H504.6V429.2H503.6V431.1H502.5V431.1H501.4V427.6H500.4V424.5H499.3V424.5H498.2V420.4H497.2V420.4H496.1V422.9H495V422.9H494V423.3H492.9V432.4H491.8V432.4H490.8V413.9H489.7V420.2H488.7V420.2H487.6V420.2H486.5V426.4H485.5V426.4H484.4V418.2H483.3V421.4H482.3V421.4H481.2V422.9H480.1V422.9H479.1V429.7H478V429.7H476.9V426.9H475.9V426.9H474.8V419.7H473.8V416H472.7V423.9H471.6V431.7H470.6V436H469.5V436H468.4V432.8H467.4V431.7H466.3V439.7H465.2V439.7H464.2V438.3H463.1V434.2H462V433.5H461V431.7H459.9V431.7H458.9V426.5H457.8V426.5H456.7V418.7H455.7V427.2H454.6V427.2H453.5V431H452.5V433.5H451.4V433.5H450.3V427.3H449.3V429H448.2V429.5H447.1V429.5H446.1V432.7H445V432.7H443.9V427.7H442.9V429.1H441.8V429.1H440.8V419.6H439.7V425.8H438.6V425.8H437.6V430.4H436.5V431.9H435.4V435.1H434.4V435.1H433.3V433.1H432.2V439.3H431.2V441H430.1V442.7H429V449.8H428V453.9H426.9V464.9H425.9V488.8H424.8V488.8H423.7V500H422.7V507.9H421.6V507.9H420.5V497H419.5V495.6H418.4V490.1H417.3V478.8H416.3V473.9H415.2V475.7H414.1V495.2H413.1V499.9H412V504.9H411V504.9H409.9V503.4H408.8V500.7H407.8V500.7H406.7V496H405.6V490.8H404.6V482.1H403.5V482.1H402.4V459.4H401.4V463.2H400.3V463.2H399.2V457.7H398.2V454.8H397.1V452.4H396V455.6H395V455.6H393.9V443.2H392.9V437.5H391.8V440H390.7V440H389.7V437H388.6V433.4H387.5V435.1H386.5V435.1H385.4V432.2H384.3V429.7H383.3V421.9H382.2V417.9H381.1V427.2H380.1V427.2H379V415.5H378V420.3H376.9V420.3H375.8V416.7H374.8V411.7H373.7V419.7H372.6V419.7H371.6V416.3H370.5V416.3H369.4V420.7H368.4V420.7H367.3V417H366.2V416.8H365.2V424.7H364.1V424.7H363.1V420.3H362V415.7H360.9V422.2H359.9V422.2H358.8V410.4H357.7V413.2H356.7V415.8H355.6V415.8H354.5V422H353.5V422.5H352.4V422.5H351.3V417.3H350.3V417.8H349.2V423.9H348.1V423.9H347.1V417.2H346V416.6H345V416.6H343.9V416.2H342.8V422.1H341.8V422.1H340.7V415.8H339.6V417.7H338.6V420.8H337.5V425.5H336.4V425.5H335.4V434.8H334.3V434.8H333.2V416.9H332.2V430.9H331.1V430.9H330.1V426.6H329V430.3H327.9V430.3H326.9V432.5H325.8V432.5H324.7V430.5H323.7V427.3H322.6V419.5H321.5V426.7H320.5V427.5H319.4V427.5H318.3V431.7H317.3V431.7H316.2V429.9H315.2V425.6H314.1V424.3H313V424.8H312V424.8H310.9V423.9H309.8V424.6H308.8V424.6H307.7V413.4H306.6V423.4H305.6V423.6H304.5V423.6H303.4V422.8H302.4V422.8H301.3V431H300.2V432.4H299.2V432.4H298.1V424.8H297.1V424.8H296V421.5H294.9V421.5H293.9V415.2H292.8V424.3H291.7V424.3H290.7V414.3H289.6V417H288.5V417.5H287.5V419.3H286.4V419.3H285.3V419.7H284.3V419.7H283.2V410.7H282.2V409.2H281.1V417.5H280V417.5H279V412H277.9V411.9H276.8V412.4H275.8V412.4H274.7V410.8H273.6V414.3H272.6V414.3H271.5V413.1H270.4V413.1H269.4V407.2H268.3V417.8H267.2V417.8H266.2V411.5H265.1V411.5H264.1V404.8H263V412.6H261.9V412.6H260.9V412.3H259.8V412.3H258.7V412.3H257.7V410.7H256.6V419.8H255.5V419.8H254.5V411.9H253.4V416.4H252.3V416.4H251.3V410.9H250.2V408.6H249.2V406.3H248.1V414.2H247V414.2H246V415.8H244.9V421H243.8V421H242.8V412.1H241.7V417.8H240.6V419.5H239.6V419.5H238.5V416.8H237.4V421.3H236.4V421.3H235.3V416.4H234.3V417.4H233.2V420.8H232.1V426.8H231.1V426.8H230V425.7H228.9V417.1H227.9V422.1H226.8V423.7H225.7V428.6H224.7V428.6H223.6V431.5H222.5V431.5H221.5V431.3H220.4V434.9H219.3V434.9H218.3V429.1H217.2V429.1H216.2V434H215.1V434H214V423.2H213V419.1H211.9V419.1H210.8V421.9H209.8V421.9H208.7V410.2H207.6V411.3H206.6V412H205.5V412H204.4V423.8H203.4V423.8H202.3V417.7H201.3V417.7H200.2V413.6H199.1V413.6H198.1V412.8H197V412.8H195.9V410.1H194.9V412.7H193.8V412.7H192.7V409.1H191.7V406.5H190.6V415.4H189.5V415.4H188.5V420.6H187.4V420.6H186.4V416.9H185.3V414.9H184.2V414.9H183.2V409.1H182.1V400.2H181V401.5H180V401.5H178.9V406.1H177.8V407.9H176.8V408.8H175.7V410.8H174.6V410.8H173.6V405.7H172.5V409.3H171.4V409.3H170.4V412.3H169.3V412.3H168.3V409H167.2V409H166.1V415H165.1V415H164V410.3H162.9V410.3H161.9V402.3H160.8V398.2H159.7V407.9H158.7V411.6H157.6V413H156.5V413H155.5V410.2H154.4V412.8H153.4V412.8H152.3V411.9H151.2V412.8H150.2V412.8H149.1V410.5H148V406.2H147V411.6H145.9V411.6H144.8V412.6H143.8V412.6H142.7V408.5H141.6V412.3H140.6V412.3H139.5V410.1H138.5V411.3H137.4V411.3H136.3V405.8H135.3V413.6H134.2V413.6H133.1V415.3H132.1V415.3H131Z"/><path d="M131 490.8H132.1V490.8H133.1V492.5H134.2V492.5H135.3V493.2H136.3V493.2H137.4V494.2H138.5V493.3H139.5V493.3H140.6V492.3H141.6V492.1H142.7V492.1H143.8V493.1H144.8V494.4H145.9V492.3H147V492.2H148V492.2H149.1V491.7H150.2V491.7H151.2V493H152.3V493.3H153.4V493.3H154.4V493.3H155.5V493.5H156.5V494H157.6V494H158.7V494.7H159.7V495.3H160.8V494.7H161.9V493.6H162.9V493.6H164V493.3H165.1V493.3H166.1V494.8H167.2V495.7H168.3V491.3H169.3V491.3H170.4V495.3H171.4V493.6H172.5V493.6H173.6V495.5H174.6V494.2H175.7V494H176.8V493.1H177.8V493.1H178.9V492.1H180V492.1H181V494.9H182.1V494.4H183.2V493.8H184.2V493.8H185.3V492.1H186.4V491.5H187.4V491.5H188.5V492.5H189.5V492.5H190.6V495.6H191.7V494.8H192.7V494.8H193.8V494.9H194.9V495.4H195.9V494.1H197V494.1H198.1V494.3H199.1V494.2H200.2V494.2H201.3V494.6H202.3V494.6H203.4V495.9H204.4V496.4H205.5V495.6H206.6V495.6H207.6V496.1H208.7V496.6H209.8V498.2H210.8V497.7H211.9V497.7H213V499.3H214V500.3H215.1V502.9H216.2V502.9H217.2V505.3H218.3V505.3H219.3V506.9H220.4V508.7H221.5V510.7H222.5V511.8H223.6V509.9H224.7V509.7H225.7V508.1H226.8V506.4H227.9V506.4H228.9V502.9H230V500.6H231.1V499.9H232.1V499.9H233.2V499.5H234.3V499.5H235.3V498.4H236.4V498.4H237.4V499H238.5V496.3H239.6V496.3H240.6V495.8H241.7V495.8H242.8V496.9H243.8V494.5H244.9V494.5H246V496.5H247V493.5H248.1V493.5H249.2V494.5H250.2V496.6H251.3V497.1H252.3V495.7H253.4V495.1H254.5V494.9H255.5V494.9H256.6V493.3H257.7V493.3H258.7V494.8H259.8V494.8H260.9V495.9H261.9V492.5H263V492.5H264.1V494.1H265.1V496.3H266.2V496.2H267.2V496H268.3V493.7H269.4V493.7H270.4V495.4H271.5V495.6H272.6V495.9H273.6V494.4H274.7V494.4H275.8V495.2H276.8V495.2H277.9V493.8H279V493.8H280V496.4H281.1V497.3H282.2V496.5H283.2V493.3H284.3V493.3H285.3V495.1H286.4V498.4H287.5V497.1H288.5V495.1H289.6V495.1H290.7V495.8H291.7V495.8H292.8V495.8H293.9V495H294.9V495H296V499.8H297.1V498.7H298.1V498.4H299.2V498.4H300.2V499H301.3V499H302.4V500.4H303.4V503.3H304.5V503.7H305.6V503.7H306.6V504.5H307.7V504.5H308.8V505.4H309.8V506H310.9V506H312V506.2H313V505.4H314.1V505.4H315.2V503.1H316.2V502.9H317.3V502.9H318.3V503.5H319.4V504.3H320.5V501.2H321.5V501.2H322.6V501H323.7V500.8H324.7V500.8H325.8V501.4H326.9V500.6H327.9V500.6H329V503.6H330.1V503.6H331.1V503.3H332.2V503.3H333.2V501.8H334.3V501.8H335.4V502.7H336.4V502.6H337.5V502.4H338.6V502.4H339.6V504.6H340.7V502H341.8V499.7H342.8V498.3H343.9V498.3H345V500.3H346V500.9H347.1V501.3H348.1V500.8H349.2V499.7H350.3V499.7H351.3V500.7H352.4V502.8H353.5V502.7H354.5V502.7H355.6V502.8H356.7V503.2H357.7V502.2H358.8V501.3H359.9V501.3H360.9V502.2H362V502.2H363.1V502.7H364.1V502.7H365.2V505.4H366.2V504.9H367.3V504.9H368.4V502.8H369.4V502.8H370.5V504.4H371.6V505.1H372.6V506H373.7V506.6H374.8V506.6H375.8V508.1H376.9V508.7H378V509.6H379V509.6H380.1V510H381.1V511.9H382.2V512.3H383.3V514.4H384.3V518.4H385.4V519.3H386.5V521.9H387.5V524.3H388.6V529.6H389.7V530.8H390.7V536.6H391.8V542.9H392.9V551.9H393.9V561H395V570.9H396V577.9H397.1V591.3H398.2V603.6H399.2V615.9H400.3V626.8H401.4V619.6H402.4V614.5H403.5V607.6H404.6V607.6H405.6V605.5H406.7V605.5H407.8V606.7H408.8V604.4H409.9V601.6H411V590.7H412V582.7H413.1V577.9H414.1V571H415.2V571H416.3V571.1H417.3V573.6H418.4V579.9H419.5V581.6H420.5V575.5H421.6V568.3H422.7V556.9H423.7V548.2H424.8V542.6H425.9V534.4H426.9V527.8H428V523.8H429V517.8H430.1V517.2H431.2V516.6H432.2V514.1H433.3V514.1H434.4V515.4H435.4V513.1H436.5V513.1H437.6V513.5H438.6V513.3H439.7V512.3H440.8V512.3H441.8V511.6H442.9V511.6H443.9V512.3H445V512.3H446.1V514H447.1V514H448.2V514.3H449.3V514.3H450.3V515.9H451.4V517.4H452.5V517.4H453.5V521H454.6V523.8H455.7V529.6H456.7V531.9H457.8V536.4H458.9V541H459.9V547.4H461V552.5H462V564.7H463.1V573.4H464.2V581.7H465.2V598.7H466.3V598.7H467.4V586.3H468.4V577.2H469.5V566.7H470.6V554.9H471.6V546.1H472.7V537.9H473.8V530.3H474.8V526H475.9V520.6H476.9V520.3H478V514H479.1V510H480.1V510H481.2V509.7H482.3V509.7H483.3V506.6H484.4V506.6H485.5V506.5H486.5V505.6H487.6V504.8H488.7V503.2H489.7V503.2H490.8V504.9H491.8V504.9H492.9V501.3H494V501.3H495V501.6H496.1V501.6H497.2V502.2H498.2V502.9H499.3V500.8H500.4V500.8H501.4V502.4H502.5V501.6H503.6V501.6H504.6V502.4H505.7V501.5H506.8V501.5H507.8V501.7H508.9V502.1H509.9V500.8H511V499.2H512.1V499.2H513.1V501.9H514.2V503.3H515.3V501.6H516.3V501.6H517.4V500.9H518.5V500.9H519.5V502.7H520.6V503.3H521.7V503.3H522.7V505.5H523.8V505.5H524.8V505.7H525.9V505.7H527V507.4H528V508H529.1V506.5H530.2V506.3H531.2V506.3H532.3V504.4H533.4V500.3H534.4V500.3H535.5V501.8H536.6V501.1H537.6V501.1H538.7V499.5H539.8V498.1H540.8V497.3H541.9V497.3H542.9V497.9H544V497.9H545.1V495.7H546.1V495.7H547.2V492.1H548.3V492.1H549.3V495.1H550.4V495.3H551.5V495.3H552.5V495.4H553.6V494.3H554.7V492.2H555.7V492.2H556.8V493.5H557.8V492.7H558.9V491.8H560V491.8H561V493.9H562.1V494.3H563.2V492.7H564.2V492.7H565.3V494.1H566.4V494.6H567.4V492.5H568.5V492.5H569.6V493.1H570.6V492.4H571.7V492.4H572.7V493.1H573.8V490.3H574.9V490.3H575.9V494.7H577V494.7H578.1V493.2H579.1V493.2H580.2V492.3H581.3V492.3H582.3V494.1H583.4V494.1H584.5V495.4H585.5V494.3H586.6V494.3H587.7V494.1H588.7V494.1H589.8V497.4H590.8V495H591.9V495H593V495.6H594V500.3H595.1V500.5H596.2V500.5H597.2V500.2H598.3V500.2H599.4V501.8H600.4V505.4H601.5V506.2H602.6V506.5H603.6V507.3H604.7V507.3H605.7V509.9H606.8V508.4H607.9V506.2H608.9V506.2H610V505.9H611.1V505.5H612.1V503.8H613.2V502.1H614.3V501.4H615.3V499H616.4V498.3H617.5V497.5H618.5V497.5H619.6V496.6H620.6V496.6H621.7V494.9H622.8V494.9H623.8V494.6H624.9V493.2H626V492.7H627V492.7H628.1V493.8H629.2V493.8H630.2V490.7H631.3V490.7H632.4V493.1H633.4V493.1H634.5V490.9H635.6V490.9H636.6V492H637.7V491.2H638.7V491.2H639.8V492.4H640.9V491.4H641.9V491.4H643V490.4H644.1V490.4H645.1V492H646.2V491H647.3V491H648.3V493.5H649.4V491.4H650.5V491.4H651.5V491.8H652.6V489.2H653.6V488H654.7V488H655.8V489.8H656.8V489.8H657.9V489.5H659V489.5H660V493.5H661.1V491H662.2V489.5H663.2V489.5H664.3V491.1H665.4V491.1H666.4V488.5H667.5V488.5H668.5V489.9H669.6V490.5H670.7V489.3H671.7V489.3H672.8V492.2H673.9V491.8H674.9V490.3H676V490.3H677.1V499.3H676V497.2H674.9V499H673.9V499H672.8V498.5H671.7V495.8H670.7V497.8H669.6V497.8H668.5V496.2H667.5V496.7H666.4V496.8H665.4V497.9H664.3V497.9H663.2V496.5H662.2V501.2H661.1V501.2H660V499.7H659V497.6H657.9V497.6H656.8V496.3H655.8V496.3H654.7V497.1H653.6V497.6H652.6V498.5H651.5V498.5H650.5V499.3H649.4V500.3H648.3V500.3H647.3V501.2H646.2V501.2H645.1V497.9H644.1V498.6H643V498.6H641.9V498.2H640.9V498.2H639.8V499H638.7V499H637.7V497.2H636.6V497.2H635.6V499.7H634.5V500.2H633.4V500.2H632.4V498.7H631.3V500.1H630.2V500.1H629.2V500.2H628.1V500.2H627V499.5H626V502.1H624.9V505.1H623.8V505.1H622.8V502.4H621.7V502.9H620.6V503.2H619.6V503.2H618.5V506.4H617.5V506.4H616.4V506.5H615.3V509H614.3V509.3H613.2V512.3H612.1V512.8H611.1V514.9H610V514.9H608.9V514.6H607.9V515H606.8V517.6H605.7V517.6H604.7V514.9H603.6V514.5H602.6V511.9H601.5V511.4H600.4V511.4H599.4V510H598.3V508.4H597.2V508.4H596.2V506.7H595.1V506.7H594V506.6H593V501.2H591.9V506.2H590.8V506.2H589.8V504.7H588.7V501H587.7V501.1H586.6V503.2H585.5V503.2H584.5V500.6H583.4V500.5H582.3V500.3H581.3V498.8H580.2V498.8H579.1V500.5H578.1V501.1H577V502H575.9V502H574.9V498.3H573.8V500.6H572.7V500.6H571.7V498.7H570.6V501.7H569.6V501.7H568.5V500.9H567.4V500.8H566.4V500.8H565.3V500.6H564.2V502.1H563.2V502.1H562.1V501H561V499.5H560V500H558.9V502.3H557.8V502.3H556.8V500.6H555.7V502.3H554.7V502.3H553.6V503.2H552.5V503.2H551.5V502H550.4V502.7H549.3V502.7H548.3V502H547.2V503H546.1V503.5H545.1V503.5H544V504.4H542.9V504.4H541.9V505.3H540.8V505.7H539.8V507H538.7V507H537.6V510.1H536.6V510.1H535.5V510.1H534.4V510.2H533.4V512.5H532.3V512.5H531.2V513.3H530.2V513.3H529.1V515.1H528V515.1H527V512.9H525.9V512.9H524.8V513.4H523.8V513.4H522.7V510.7H521.7V509.4H520.6V509.8H519.5V509.8H518.5V508.6H517.4V508.6H516.3V511H515.3V511H514.2V509H513.1V508.9H512.1V506.6H511V507.6H509.9V509.3H508.9V509.3H507.8V509H506.8V509.3H505.7V509.3H504.6V508.2H503.6V508.2H502.5V508.1H501.4V508.6H500.4V508.7H499.3V508.7H498.2V508.5H497.2V508.3H496.1V510.6H495V510.6H494V509.8H492.9V510.7H491.8V510.7H490.8V510.3H489.7V510.5H488.7V512.1H487.6V513.3H486.5V513.3H485.5V514.8H484.4V516H483.3V516H482.3V519.7H481.2V519.7H480.1V520H479.1V525.5H478V527.2H476.9V531.2H475.9V535.3H474.8V543.3H473.8V553.9H472.7V560.8H471.6V573.3H470.6V583.8H469.5V593.8H468.4V604.2H467.4V609.6H466.3V609.6H465.2V603.5H464.2V587.3H463.1V579.4H462V571H461V558.6H459.9V554.1H458.9V546.1H457.8V541.6H456.7V536.8H455.7V535.3H454.6V529.2H453.5V529.2H452.5V524.9H451.4V524.9H450.3V522.5H449.3V520.9H448.2V520.9H447.1V521.7H446.1V521.7H445V518.6H443.9V518.6H442.9V518.9H441.8V519H440.8V520H439.7V520H438.6V520.9H437.6V520.9H436.5V520.9H435.4V520.9H434.4V521H433.3V522.9H432.2V525.8H431.2V526.2H430.1V529.8H429V533.1H428V540.4H426.9V547.5H425.9V554.4H424.8V564.1H423.7V574.9H422.7V583.1H421.6V589H420.5V589H419.5V587.6H418.4V586.2H417.3V579.4H416.3V579.4H415.2V582.8H414.1V588.1H413.1V597.1H412V606.6H411V610.5H409.9V613H408.8V613.5H407.8V613.5H406.7V613.5H405.6V613.5H404.6V620.1H403.5V626.1H402.4V632.5H401.4V632.5H400.3V632.4H399.2V624.6H398.2V611H397.1V596.9H396V584.6H395V576.1H393.9V566.4H392.9V556.8H391.8V551.3H390.7V544.1H389.7V537.4H388.6V536.6H387.5V531.1H386.5V526.8H385.4V525H384.3V523.5H383.3V520.2H382.2V518.6H381.1V517.2H380.1V516.7H379V518.2H378V518.2H376.9V514.6H375.8V513.9H374.8V513.1H373.7V513.2H372.6V513.2H371.6V511.7H370.5V510.4H369.4V511H368.4V511H367.3V510.6H366.2V511.2H365.2V511.2H364.1V510.3H363.1V510.3H362V510.2H360.9V510.2H359.9V509.7H358.8V509.7H357.7V509.7H356.7V509.3H355.6V508.4H354.5V510H353.5V510H352.4V509.3H351.3V505.6H350.3V507.8H349.2V507.8H348.1V506.9H347.1V506.8H346V507.6H345V507.6H343.9V504.7H342.8V508H341.8V509.9H340.7V510.4H339.6V510.4H338.6V509.2H337.5V509H336.4V509.5H335.4V509.5H334.3V510H333.2V510.2H332.2V511.3H331.1V511.3H330.1V510.2H329V509.8H327.9V507.8H326.9V507.8H325.8V507.9H324.7V508H323.7V508.3H322.6V509.2H321.5V510.2H320.5V510.3H319.4V510.3H318.3V509.2H317.3V509.2H316.2V510.7H315.2V510.7H314.1V513H313V513H312V513H310.9V513H309.8V513H308.8V511.4H307.7V511.4H306.6V511.1H305.6V510.4H304.5V510.4H303.4V508.7H302.4V507.3H301.3V507.5H300.2V507.5H299.2V506H298.1V507.3H297.1V507.3H296V504.7H294.9V502.3H293.9V503H292.8V503.5H291.7V504.2H290.7V504.2H289.6V502.9H288.5V504.3H287.5V504.6H286.4V504.6H285.3V501.8H284.3V502.1H283.2V503.3H282.2V503.3H281.1V502.2H280V502.1H279V503.2H277.9V503.2H276.8V503.4H275.8V503.4H274.7V501.5H273.6V502H272.6V502H271.5V501H270.4V500.6H269.4V503.3H268.3V503.3H267.2V503.3H266.2V503.3H265.1V501.9H264.1V500.4H263V501.6H261.9V502.2H260.9V502.3H259.8V502.3H258.7V502.2H257.7V503H256.6V503H255.5V502.2H254.5V502.5H253.4V503.1H252.3V505.1H251.3V505.1H250.2V503.4H249.2V502H248.1V502.8H247V502.8H246V502.2H244.9V504.3H243.8V504.4H242.8V504.4H241.7V505.1H240.6V505.5H239.6V505.5H238.5V505.6H237.4V505.6H236.4V504.9H235.3V504.9H234.3V508.1H233.2V508.1H232.1V507.6H231.1V508.5H230V513.6H228.9V513.6H227.9V514.9H226.8V517.1H225.7V517.5H224.7V518.4H223.6V518.8H222.5V518.8H221.5V516.4H220.4V516.4H219.3V513.9H218.3V511.5H217.2V511.5H216.2V510.6H215.1V510.6H214V505.4H213V505.1H211.9V503.5H210.8V504.5H209.8V504.5H208.7V504.1H207.6V504.1H206.6V503.6H205.5V503.9H204.4V503.9H203.4V500.8H202.3V501.4H201.3V501.4H200.2V500.9H199.1V500.9H198.1V500.9H197V501.7H195.9V501.7H194.9V501.3H193.8V501.3H192.7V500.9H191.7V501.5H190.6V501.5H189.5V501.2H188.5V501.2H187.4V499.3H186.4V499.5H185.3V499.5H184.2V500.7H183.2V500.7H182.1V501.4H181V501.4H180V502.4H178.9V502.4H177.8V500.3H176.8V500.3H175.7V501H174.6V501.3H173.6V501.3H172.5V501.2H171.4V501.5H170.4V501.5H169.3V500.6H168.3V501.6H167.2V501.6H166.1V499.9H165.1V499.8H164V499.8H162.9V500.4H161.9V500.9H160.8V500.9H159.7V500.8H158.7V500.1H157.6V501H156.5V501H155.5V500.4H154.4V499.1H153.4V498.9H152.3V498.9H151.2V498.4H150.2V500.2H149.1V500.2H148V499.1H147V501.9H145.9V501.9H144.8V501.6H143.8V499.5H142.7V497.6H141.6V501H140.6V501H139.5V499.9H138.5V502H137.4V502H136.3V501.5H135.3V501.5H134.2V499.9H133.1V499.9H132.1V498.4H131Z"/><path d="M131 624.5H132.1V625.2H133.1V624.3H134.2V624.3H135.3V625.7H136.3V618.8H137.4V612.2H138.5V612.2H139.5V620.3H140.6V625H141.6V624.1H142.7V624.1H143.8V625.7H144.8V628.3H145.9V621.5H147V621.5H148V622.9H149.1V620.2H150.2V618.4H151.2V618.4H152.3V622H153.4V624.6H154.4V623H155.5V620.9H156.5V620.2H157.6V620.2H158.7V612.5H159.7V612.5H160.8V622.4H161.9V621.7H162.9V621.7H164V619.1H165.1V619.1H166.1V620H167.2V623.4H168.3V625.6H169.3V622.2H170.4V617.7H171.4V617.7H172.5V619.1H173.6V616.7H174.6V616.7H175.7V623.2H176.8V623.2H177.8V627.2H178.9V622.2H180V622.2H181V623.6H182.1V620.5H183.2V620.5H184.2V625.6H185.3V622H186.4V622H187.4V625.4H188.5V626.1H189.5V622.5H190.6V622.5H191.7V625.9H192.7V625.9H193.8V631H194.9V631H195.9V633H197V626H198.1V626H199.1V629.5H200.2V628.2H201.3V628.2H202.3V629.8H203.4V638.3H204.4V638.3H205.5V640.1H206.6V640.1H207.6V659H208.7V659H209.8V663.2H210.8V664.4H211.9V667.4H213V667.4H214V672.1H215.1V670.8H216.2V670.8H217.2V674.8H218.3V673.6H219.3V663.3H220.4V663.3H221.5V659.9H222.5V657.6H223.6V657.6H224.7V652.5H225.7V652.5H226.8V650.1H227.9V650.1H228.9V650.5H230V651.2H231.1V651.2H232.1V642H233.2V640.5H234.3V640.5H235.3V631.3H236.4V631.3H237.4V632.5H238.5V637.3H239.6V637.3H240.6V638.7H241.7V638.1H242.8V634.8H243.8V631.7H244.9V631.7H246V622H247V622H248.1V624.4H249.2V624.4H250.2V620H251.3V620H252.3V629.9H253.4V629.9H254.5V622.1H255.5V622.1H256.6V628.5H257.7V623.3H258.7V623.3H259.8V623H260.9V623H261.9V626.9H263V626.9H264.1V631.3H265.1V623.3H266.2V623.3H267.2V624.5H268.3V624.5H269.4V633.7H270.4V619.5H271.5V619.5H272.6V623.1H273.6V623.1H274.7V632.6H275.8V632.6H276.8V635.3H277.9V624.9H279V624.9H280V627.2H281.1V632.7H282.2V629.4H283.2V629.4H284.3V630.9H285.3V635.4H286.4V635.5H287.5V628.3H288.5V628.3H289.6V635.6H290.7V635.6H291.7V637H292.8V637.7H293.9V637.9H294.9V640.3H296V640.3H297.1V647H298.1V648.8H299.2V648.8H300.2V653.7H301.3V653.7H302.4V650.4H303.4V650.4H304.5V660.5H305.6V662.2H306.6V656.7H307.7V656.7H308.8V653.9H309.8V653.9H310.9V661.4H312V665.7H313V651H314.1V651H315.2V659.4H316.2V651.6H317.3V651.6H318.3V661.4H319.4V652.1H320.5V652.1H321.5V666.3H322.6V659.4H323.7V659.4H324.7V666.8H325.8V671.8H326.9V677.4H327.9V677.3H329V677.3H330.1V677.3H331.1V678.3H332.2V675.9H333.2V664.4H334.3V664.4H335.4V656.4H336.4V652.2H337.5V652.2H338.6V642.1H339.6V642.1H340.7V641.4H341.8V641.4H342.8V643.6H343.9V636H345V636H346V636.4H347.1V636.4H348.1V627.3H349.2V627.3H350.3V635.5H351.3V635.3H352.4V633.4H353.5V633.4H354.5V639.2H355.6V636.7H356.7V635.4H357.7V635.4H358.8V635.9H359.9V627.8H360.9V627.8H362V627.8H363.1V632.1H364.1V632.1H365.2V632.4H366.2V634.1H367.3V636.3H368.4V636.3H369.4V638.7H370.5V636.5H371.6V636.5H372.6V632.9H373.7V632.9H374.8V637.8H375.8V642.6H376.9V642.6H378V646.1H379V657.8H380.1V656.2H381.1V654.3H382.2V654.3H383.3V654.6H384.3V660.5H385.4V660.5H386.5V668.4H387.5V670.5H388.6V677.3H389.7V681.8H390.7V696.9H391.8V699.5H392.9V716.3H393.9V716.5H395V731.9H396V731.9H397.1V746.3H398.2V753.9H399.2V763.6H400.3V776.5H401.4V765.6H402.4V755.6H403.5V755.6H404.6V753.3H405.6V747.5H406.7V740H407.8V734.3H408.8V726H409.9V720.5H411V716H412V714.4H413.1V709H414.1V695.5H415.2V687.4H416.3V687.4H417.3V697.6H418.4V697.6H419.5V697.7H420.5V709H421.6V710.5H422.7V712.4H423.7V712.4H424.8V722.2H425.9V719.3H426.9V712.1H428V710.7H429V709.1H430.1V704.7H431.2V689.6H432.2V685.8H433.3V680.8H434.4V680.1H435.4V671.2H436.5V671.2H437.6V670.9H438.6V665.8H439.7V665.8H440.8V667.1H441.8V658.1H442.9V658.1H443.9V663.9H445V666.2H446.1V661.2H447.1V661.2H448.2V671.6H449.3V672.5H450.3V675.5H451.4V675.5H452.5V675.5H453.5V674.7H454.6V671H455.7V671H456.7V668.9H457.8V661.9H458.9V661.9H459.9V662.4H461V664.4H462V664.4H463.1V670.5H464.2V670.7H465.2V673.6H466.3V681.7H467.4V689.1H468.4V705.7H469.5V701.6H470.6V696H471.6V696H472.7V685H473.8V668.6H474.8V661.5H475.9V661.5H476.9V653H478V653H479.1V648.7H480.1V648.7H481.2V654.2H482.3V643H483.3V643H484.4V646.1H485.5V646.3H486.5V652.7H487.6V638.8H488.7V638.8H489.7V648.6H490.8V645.9H491.8V645.9H492.9V643.3H494V643.3H495V649H496.1V651.5H497.2V651.5H498.2V661.5H499.3V663.9H500.4V667.5H501.4V667.5H502.5V682H503.6V682H504.6V681.6H505.7V679.5H506.8V672.8H507.8V669.5H508.9V669.5H509.9V659H511V659H512.1V667.5H513.1V664.4H514.2V664.4H515.3V659.5H516.3V659H517.4V659H518.5V655.3H519.5V655.3H520.6V657.7H521.7V653.3H522.7V653.3H523.8V647.2H524.8V647.2H525.9V655.1H527V650.1H528V650.1H529.1V658.4H530.2V653H531.2V650.5H532.3V650.5H533.4V649.7H534.4V646.8H535.5V646.8H536.6V645.5H537.6V645.5H538.7V649.1H539.8V646.3H540.8V645.6H541.9V638.3H542.9V638.3H544V638H545.1V638H546.1V634H547.2V634H548.3V629.5H549.3V629.5H550.4V628.4H551.5V628.4H552.5V634.2H553.6V635.9H554.7V626.7H555.7V626.7H556.8V626.6H557.8V626.6H558.9V627.7H560V627.7H561V627.7H562.1V621.7H563.2V621.7H564.2V632.2H565.3V626.6H566.4V626.6H567.4V633.3H568.5V626.4H569.6V626.4H570.6V630H571.7V629.6H572.7V627H573.8V627H574.9V628.4H575.9V622H577V622H578.1V626.1H579.1V627.5H580.2V621.9H581.3V621.9H582.3V621.8H583.4V621.8H584.5V626.1H585.5V626.1H586.6V627.8H587.7V627.5H588.7V626.9H589.8V626.9H590.8V629.4H591.9V628.4H593V628.4H594V625.1H595.1V625.1H596.2V638.4H597.2V637.5H598.3V637.5H599.4V639.7H600.4V644.8H601.5V643.3H602.6V643.3H603.6V661.7H604.7V657.8H605.7V657.8H606.8V670H607.9V671.1H608.9V672H610V671.3H611.1V670.6H612.1V670.3H613.2V670.3H614.3V655.5H615.3V655.5H616.4V662.4H617.5V662.1H618.5V654.2H619.6V648H620.6V648H621.7V651H622.8V649.8H623.8V645.6H624.9V636.2H626V633.4H627V633.4H628.1V635.3H629.2V631.6H630.2V629.9H631.3V629.9H632.4V621.2H633.4V621.2H634.5V617.4H635.6V617.4H636.6V615.9H637.7V615.9H638.7V629.5H639.8V629.5H640.9V630.7H641.9V625.2H643V625.2H644.1V626.1H645.1V619.8H646.2V619.8H647.3V623.6H648.3V622.7H649.4V622.7H650.5V618.4H651.5V618.4H652.6V619.4H653.6V620.2H654.7V620.2H655.8V623.8H656.8V624H657.9V624H659V624.6H660V624.6H661.1V624.9H662.2V624.9H663.2V625.4H664.3V625.5H665.4V625.5H666.4V625.9H667.5V619.5H668.5V619.5H669.6V626.1H670.7V626.1H671.7V621.5H672.8V621.5H673.9V625.1H674.9V623.3H676V623.3H677.1V646.4H676V646.7H674.9V646.7H673.9V646.4H672.8V646.7H671.7V646.7H670.7V649.2H669.6V649.2H668.5V649.8H667.5V649.8H666.4V647.8H665.4V645.4H664.3V645H663.2V644.5H662.2V644.5H661.1V644.7H660V645.3H659V645.3H657.9V644.2H656.8V644.2H655.8V643.1H654.7V642.8H653.6V642.8H652.6V639.3H651.5V652.2H650.5V652.2H649.4V648.8H648.3V648.8H647.3V643H646.2V652.6H645.1V652.6H644.1V645.9H643V650.1H641.9V652.2H640.9V652.2H639.8V653H638.7V653H637.7V652.7H636.6V652.7H635.6V647.4H634.5V647.4H633.4V651.5H632.4V651.5H631.3V652.7H630.2V654.7H629.2V654.7H628.1V653.9H627V656.5H626V666.2H624.9V670.3H623.8V670.8H622.8V672.9H621.7V672.9H620.6V672.8H619.6V681.3H618.5V683.1H617.5V689.8H616.4V689.8H615.3V689.2H614.3V690.9H613.2V690.9H612.1V691.1H611.1V696.3H610V696.3H608.9V692.5H607.9V691.5H606.8V690.8H605.7V686.6H604.7V686.6H603.6V680.7H602.6V664.1H601.5V666.4H600.4V666.4H599.4V658.7H598.3V662.6H597.2V662.6H596.2V658.8H595.1V658.5H594V658.5H593V648.7H591.9V653.8H590.8V653.8H589.8V647.6H588.7V649.4H587.7V649.4H586.6V647.1H585.5V647.6H584.5V647.6H583.4V645.4H582.3V645.4H581.3V646.1H580.2V646.6H579.1V646.6H578.1V645.4H577V651.4H575.9V651.4H574.9V648.7H573.8V649.9H572.7V649.9H571.7V652.9H570.6V652.9H569.6V657.7H568.5V657.7H567.4V653.6H566.4V651.3H565.3V656.1H564.2V656.1H563.2V650.4H562.1V650.4H561V649.2H560V649.3H558.9V649.3H557.8V656.4H556.8V656.4H555.7V655H554.7V659.5H553.6V659.5H552.5V653.6H551.5V657H550.4V657H549.3V656.8H548.3V656.8H547.2V664.3H546.1V664.3H545.1V667.3H544V667.3H542.9V664.1H541.9V667.3H540.8V671H539.8V671H538.7V667.9H537.6V669.7H536.6V669.7H535.5V669.3H534.4V673.3H533.4V673.3H532.3V672.8H531.2V680.3H530.2V680.3H529.1V676.9H528V674.1H527V674.1H525.9V673.5H524.8V674.4H523.8V674.4H522.7V678H521.7V679.4H520.6V679.4H519.5V679.2H518.5V679.2H517.4V678.3H516.3V685.1H515.3V685.1H514.2V687.1H513.1V691.7H512.1V691.7H511V696.9H509.9V696.9H508.9V692.6H507.8V698H506.8V700.2H505.7V702.8H504.6V702.8H503.6V702.1H502.5V702.1H501.4V694.5H500.4V694.5H499.3V683.2H498.2V680.5H497.2V674.9H496.1V674.9H495V667.8H494V668.1H492.9V668.1H491.8V667.2H490.8V667.8H489.7V667.8H488.7V672.2H487.6V673.4H486.5V673.4H485.5V666.2H484.4V665.9H483.3V676H482.3V676H481.2V672.8H480.1V679.2H479.1V679.2H478V683.7H476.9V683.7H475.9V688.6H474.8V705.6H473.8V719H472.7V719H471.6V720.5H470.6V725.7H469.5V726.4H468.4V726.4H467.4V708H466.3V700.4H465.2V692.6H464.2V690.2H463.1V690.1H462V685.7H461V685.7H459.9V682.4H458.9V688.7H457.8V693.3H456.7V693.3H455.7V693.8H454.6V695.8H453.5V695.8H452.5V702.6H451.4V702.6H450.3V697.1H449.3V691.3H448.2V690.7H447.1V696.6H446.1V696.6H445V685H443.9V683.6H442.9V688.6H441.8V688.6H440.8V686.9H439.7V691.5H438.6V691.9H437.6V691.9H436.5V699.6H435.4V702.2H434.4V705.2H433.3V708.9H432.2V723.5H431.2V728H430.1V730H429V731.2H428V740.2H426.9V747.1H425.9V747.1H424.8V740.8H423.7V737.8H422.7V737.8H421.6V729.1H420.5V728.5H419.5V720H418.4V723.3H417.3V723.3H416.3V713.9H415.2V727.5H414.1V733.8H413.1V736H412V742.6H411V744.5H409.9V756.1H408.8V758.9H407.8V766.8H406.7V774.3H405.6V778H404.6V778H403.5V784.9H402.4V795.5H401.4V804.8H400.3V804.8H399.2V782.1H398.2V773.1H397.1V765.9H396V754.3H395V754.3H393.9V735.5H392.9V735.5H391.8V718.5H390.7V716.9H389.7V702.1H388.6V695.9H387.5V690H386.5V689H385.4V682H384.3V682H383.3V674.1H382.2V675.8H381.1V680.9H380.1V680.9H379V676.3H378V664.6H376.9V666.4H375.8V666.4H374.8V657.2H373.7V658.3H372.6V658.3H371.6V661.6H370.5V661.6H369.4V657.8H368.4V661.3H367.3V661.3H366.2V654.5H365.2V652.4H364.1V651.6H363.1V651.6H362V647H360.9V654.7H359.9V656.1H358.8V656.1H357.7V656.7H356.7V658.3H355.6V658.8H354.5V658.8H353.5V654.3H352.4V654.9H351.3V655.4H350.3V655.4H349.2V658.6H348.1V658.6H347.1V657H346V657H345V664.5H343.9V667.5H342.8V667.5H341.8V667.4H340.7V667.4H339.6V682.8H338.6V682.8H337.5V676H336.4V690H335.4V690H334.3V694.7H333.2V697.9H332.2V698.3H331.1V698.3H330.1V697.6H329V706.9H327.9V706.9H326.9V696.7H325.8V690.5H324.7V686.9H323.7V687.1H322.6V695.1H321.5V695.1H320.5V680.2H319.4V690.6H318.3V690.6H317.3V681.8H316.2V681.8H315.2V678H314.1V686.8H313V686.8H312V685.5H310.9V681.3H309.8V680H308.8V680H307.7V685.8H306.6V685.8H305.6V680.8H304.5V679.8H303.4V680.4H302.4V680.4H301.3V674.8H300.2V673.4H299.2V668.8H298.1V668.9H297.1V668.9H296V667.8H294.9V667.8H293.9V657.3H292.8V657.3H291.7V657.2H290.7V656H289.6V656H288.5V659.7H287.5V659.7H286.4V655.6H285.3V655.6H284.3V650.7H283.2V655H282.2V655H281.1V651.5H280V646H279V655.2H277.9V655.7H276.8V655.7H275.8V655.1H274.7V652.4H273.6V650.7H272.6V650.7H271.5V657.6H270.4V657.6H269.4V653H268.3V648.4H267.2V648.4H266.2V652.1H265.1V652.1H264.1V649.9H263V659.6H261.9V659.6H260.9V650.6H259.8V650.6H258.7V654.5H257.7V654.5H256.6V648.2H255.5V654.1H254.5V654.1H253.4V653H252.3V653H251.3V651.9H250.2V651.9H249.2V649.7H248.1V649.7H247V655.3H246V655.3H244.9V654.4H243.8V657.8H242.8V659.4H241.7V660.8H240.6V660.8H239.6V659.2H238.5V659.2H237.4V652H236.4V664.7H235.3V664.7H234.3V660.8H233.2V671.3H232.1V671.3H231.1V671H230V671H228.9V670.6H227.9V675.7H226.8V675.7H225.7V680.3H224.7V680.3H223.6V679.5H222.5V683.1H221.5V683.3H220.4V693.4H219.3V694.7H218.3V696.1H217.2V696.1H216.2V694H215.1V697.4H214V697.4H213V690.8H211.9V690.8H210.8V684.5H209.8V684.5H208.7V679.7H207.6V679.7H206.6V660.5H205.5V660.5H204.4V659.3H203.4V659.3H202.3V648.4H201.3V649.7H200.2V658.4H199.1V658.4H198.1V652.4H197V656.1H195.9V656.1H194.9V654.1H193.8V654.1H192.7V655.1H191.7V655.1H190.6V646.6H189.5V649.5H188.5V649.5H187.4V644.3H186.4V646.2H185.3V646.2H184.2V645.2H183.2V643.1H182.1V644.6H181V644.6H180V646.1H178.9V648.9H177.8V648.9H176.8V648.1H175.7V648.1H174.6V648.7H173.6V648.7H172.5V637.9H171.4V641.9H170.4V646.5H169.3V649.7H168.3V649.7H167.2V642.3H166.1V638.8H165.1V640.4H164V640.9H162.9V646H161.9V646H160.8V642.6H159.7V645H158.7V645H157.6V641.6H156.5V642.7H155.5V649.7H154.4V649.7H153.4V643.5H152.3V640.6H151.2V639.7H150.2V647.8H149.1V647.8H148V643H147V650H145.9V650H144.8V647.7H143.8V644.7H142.7V648.8H141.6V648.8H140.6V643.5H139.5V638.7H138.5V637.6H137.4V645H136.3V647.9H135.3V647.9H134.2V645.1H133.1V646.8H132.1V646.8H131Z"/><path d="M131 782.9H132.1V782.9H133.1V781.3H134.2V781.3H135.3V782.5H136.3V783.4H137.4V783.4H138.5V783.7H139.5V780H140.6V780H141.6V783.4H142.7V781.2H143.8V781.2H144.8V784.5H145.9V783.8H147V782H148V782H149.1V786.3H150.2V786.3H151.2V789.6H152.3V785.6H153.4V782.9H154.4V782.9H155.5V783.9H156.5V778.9H157.6V778.9H158.7V774.9H159.7V774.9H160.8V784H161.9V780.2H162.9V776.8H164V776.8H165.1V781.5H166.1V781.5H167.2V783.9H168.3V783.9H169.3V784.4H170.4V784.4H171.4V786H172.5V786H173.6V787.6H174.6V789.2H175.7V776.7H176.8V776.7H177.8V779.8H178.9V782.7H180V782.7H181V786.9H182.1V788.4H183.2V785.3H184.2V784.8H185.3V784.8H186.4V783.7H187.4V783.7H188.5V789.5H189.5V784.8H190.6V784.8H191.7V785.2H192.7V785.2H193.8V786.4H194.9V783H195.9V783H197V785.3H198.1V785.3H199.1V785.1H200.2V785.1H201.3V785.3H202.3V790.7H203.4V791.5H204.4V791.5H205.5V788.9H206.6V788.9H207.6V793.4H208.7V796.4H209.8V796.4H210.8V796.8H211.9V801.6H213V798.9H214V798.7H215.1V795.3H216.2V795.3H217.2V801.9H218.3V803.6H219.3V797.7H220.4V797.7H221.5V798H222.5V798H223.6V804.1H224.7V795.4H225.7V795.4H226.8V792.2H227.9V792.2H228.9V792.7H230V790.6H231.1V789.9H232.1V789.9H233.2V785.4H234.3V783.4H235.3V781.7H236.4V781.7H237.4V785.8H238.5V784.5H239.6V784.5H240.6V783.8H241.7V783.8H242.8V786.3H243.8V786.3H244.9V787.6H246V783.1H247V783.1H248.1V792.5H249.2V790.1H250.2V788.1H251.3V788.1H252.3V784.4H253.4V784.4H254.5V786.3H255.5V788.6H256.6V783.8H257.7V783.4H258.7V783.4H259.8V785.6H260.9V788.5H261.9V786.8H263V786.8H264.1V783.1H265.1V783.1H266.2V785.7H267.2V783.8H268.3V783.8H269.4V785.2H270.4V785.2H271.5V788.1H272.6V785H273.6V785H274.7V793.1H275.8V790.6H276.8V786.4H277.9V786.4H279V786.4H280V786.8H281.1V785.7H282.2V785.7H283.2V791.1H284.3V784.7H285.3V784.7H286.4V787.1H287.5V787.1H288.5V789H289.6V792.4H290.7V794.5H291.7V796.1H292.8V799H293.9V799H294.9V798.3H296V798.3H297.1V795.3H298.1V795.3H299.2V798H300.2V801.5H301.3V801.5H302.4V804.3H303.4V804.3H304.5V798.5H305.6V798.5H306.6V804.9H307.7V808.5H308.8V805.1H309.8V805.1H310.9V805.1H312V805.8H313V809.5H314.1V811.4H315.2V811H316.2V808.4H317.3V808.4H318.3V816.5H319.4V816.6H320.5V817.9H321.5V815.5H322.6V815.5H323.7V815.3H324.7V815.3H325.8V815.8H326.9V812.2H327.9V812.2H329V814.8H330.1V813.2H331.1V812.3H332.2V812.3H333.2V809.7H334.3V806.9H335.4V806.9H336.4V809.9H337.5V808.5H338.6V808.5H339.6V805.1H340.7V805.1H341.8V811.5H342.8V809.9H343.9V809.9H345V810.4H346V810.8H347.1V810.8H348.1V808H349.2V808H350.3V812.2H351.3V809.5H352.4V809.5H353.5V813.8H354.5V813.8H355.6V811H356.7V811H357.7V815H358.8V810.1H359.9V810.1H360.9V812.8H362V812.8H363.1V808.4H364.1V801H365.2V801H366.2V808H367.3V811.1H368.4V814H369.4V814.1H370.5V812.7H371.6V812H372.6V810.5H373.7V810.5H374.8V813.7H375.8V813.7H376.9V816.9H378V818.5H379V823.3H380.1V823.8H381.1V825.4H382.2V828.7H383.3V834.9H384.3V834.9H385.4V843.5H386.5V843.5H387.5V852.7H388.6V861.2H389.7V870H390.7V887.5H391.8V902.6H392.9V918.9H393.9V930.6H395V943.3H396V960H397.1V973H398.2V966.6H399.2V963.7H400.3V963.7H401.4V951.1H402.4V951.1H403.5V946.8H404.6V940.9H405.6V939H406.7V929.8H407.8V927.6H408.8V912.5H409.9V905H411V893.3H412V884.6H413.1V882.8H414.1V882.8H415.2V891.4H416.3V908.5H417.3V906.6H418.4V903.6H419.5V896.8H420.5V894.2H421.6V886.8H422.7V880.3H423.7V878.5H424.8V870.5H425.9V865.5H426.9V858.6H428V856.6H429V849.3H430.1V843H431.2V840.7H432.2V833.5H433.3V825.7H434.4V823.3H435.4V823.3H436.5V824.5H437.6V819.5H438.6V819.4H439.7V819.4H440.8V825.4H441.8V816.6H442.9V816.6H443.9V817.9H445V821H446.1V821H447.1V818.6H448.2V818.6H449.3V825.7H450.3V825.7H451.4V829.2H452.5V829.2H453.5V825.5H454.6V825.5H455.7V838.2H456.7V844.2H457.8V850.9H458.9V855.3H459.9V861.2H461V874.4H462V887.2H463.1V905.1H464.2V918.5H465.2V924.2H466.3V931H467.4V918.1H468.4V901.2H469.5V890.4H470.6V872.1H471.6V863.9H472.7V856.8H473.8V845.1H474.8V837.7H475.9V833.5H476.9V833.5H478V825H479.1V820.1H480.1V820.1H481.2V813H482.3V813H483.3V820.1H484.4V818.8H485.5V818.8H486.5V818.2H487.6V818.2H488.7V808.2H489.7V808.2H490.8V811.4H491.8V809.1H492.9V809.1H494V811H495V812.8H496.1V812.4H497.2V812.1H498.2V812.1H499.3V816.4H500.4V812H501.4V811.3H502.5V811.3H503.6V814.2H504.6V814.1H505.7V814.1H506.8V816H507.8V812.2H508.9V812.2H509.9V814.1H511V813.1H512.1V813.1H513.1V816.9H514.2V814.2H515.3V811H516.3V811H517.4V811.3H518.5V807.8H519.5V807.8H520.6V810.2H521.7V807.4H522.7V801.9H523.8V801.9H524.8V801.7H525.9V801.7H527V800.4H528V800.4H529.1V800.4H530.2V800H531.2V799.3H532.3V799.3H533.4V793H534.4V793H535.5V795.2H536.6V795.4H537.6V792.5H538.7V792.5H539.8V793.7H540.8V789.6H541.9V789.6H542.9V790.4H544V789.8H545.1V789.8H546.1V788.2H547.2V788.2H548.3V789.9H549.3V788.6H550.4V788.6H551.5V793.6H552.5V790.6H553.6V790.6H554.7V787.5H555.7V787.5H556.8V788.1H557.8V788.1H558.9V790.1H560V790.1H561V788.3H562.1V788.3H563.2V791.9H564.2V790.4H565.3V790.4H566.4V793.3H567.4V788.3H568.5V788.3H569.6V792.4H570.6V789.2H571.7V785.5H572.7V785.5H573.8V785.9H574.9V785H575.9V785H577V789.8H578.1V781.7H579.1V781.7H580.2V785.4H581.3V785.4H582.3V786.8H583.4V783.1H584.5V783.1H585.5V788.6H586.6V788.6H587.7V789.6H588.7V786.6H589.8V785.3H590.8V785.3H591.9V785.5H593V788.6H594V788.9H595.1V787.7H596.2V787.7H597.2V791H598.3V795.9H599.4V797.1H600.4V798.7H601.5V798.7H602.6V798.1H603.6V798.1H604.7V800.6H605.7V800.6H606.8V808.5H607.9V806.1H608.9V804.7H610V804.7H611.1V804.8H612.1V802.6H613.2V802.1H614.3V798.5H615.3V798.5H616.4V798.6H617.5V792.7H618.5V792.7H619.6V792.6H620.6V792.6H621.7V795H622.8V789.2H623.8V789.2H624.9V791.2H626V783.9H627V783.9H628.1V783H629.2V783H630.2V780.8H631.3V780.8H632.4V783.6H633.4V783.6H634.5V788.1H635.6V786.2H636.6V782.8H637.7V782.2H638.7V782.2H639.8V779.8H640.9V779.7H641.9V779.7H643V785H644.1V784.5H645.1V784.5H646.2V787.9H647.3V787.3H648.3V785.8H649.4V785.8H650.5V786H651.5V786.4H652.6V787.9H653.6V782.2H654.7V782H655.8V782H656.8V783.6H657.9V780.6H659V780.6H660V785.8H661.1V787.3H662.2V784.1H663.2V783.9H664.3V782.7H665.4V782.5H666.4V782.5H667.5V784.1H668.5V776.3H669.6V776.3H670.7V786.4H671.7V786.4H672.8V788.3H673.9V785H674.9V778.2H676V778.2H677.1V794.6H676V797.8H674.9V801.3H673.9V802.6H672.8V802.6H671.7V800.2H670.7V798.6H669.6V802.9H668.5V802.9H667.5V797.5H666.4V794.8H665.4V796.4H664.3V796.8H663.2V803.4H662.2V803.4H661.1V801.4H660V799.6H659V799.6H657.9V799.6H656.8V795.6H655.8V795.7H654.7V800H653.6V802.1H652.6V802.1H651.5V800.1H650.5V798.5H649.4V799.9H648.3V802.4H647.3V804.2H646.2V804.2H645.1V800.4H644.1V800.4H643V797.8H641.9V793.4H640.9V799.2H639.8V799.2H638.7V795.3H637.7V798.7H636.6V805H635.6V805H634.5V800.6H633.4V800.3H632.4V800.3H631.3V800.8H630.2V800.8H629.2V799.7H628.1V799.7H627V804.1H626V804.1H624.9V803.6H623.8V807.5H622.8V808.7H621.7V808.7H620.6V809.4H619.6V809.4H618.5V813.4H617.5V814.9H616.4V814.9H615.3V814.3H614.3V814.7H613.2V818.7H612.1V818.7H611.1V818.4H610V818.4H608.9V821.1H607.9V823.4H606.8V823.4H605.7V815.6H604.7V815.6H603.6V815.1H602.6V815.1H601.5V813H600.4V812.5H599.4V812.5H598.3V807.6H597.2V806.1H596.2V806.9H595.1V806.9H594V803.4H593V800.9H591.9V797.7H590.8V798.8H589.8V801.9H588.7V806.2H587.7V806.2H586.6V806.3H585.5V806.3H584.5V798.4H583.4V801.7H582.3V801.7H581.3V799.5H580.2V799.5H579.1V804.2H578.1V804.2H577V801.8H575.9V800.3H574.9V802.5H573.8V802.5H572.7V803.5H571.7V805.2H570.6V805.2H569.6V804.1H568.5V808.2H567.4V808.2H566.4V807.2H565.3V804H564.2V809.1H563.2V809.1H562.1V802.7H561V802.7H560V804.4H558.9V804.4H557.8V807.9H556.8V807.9H555.7V804.8H554.7V804.8H553.6V806.4H552.5V806.4H551.5V805.6H550.4V801.9H549.3V804.1H548.3V804.1H547.2V804.3H546.1V804.3H545.1V802.9H544V807.1H542.9V807.1H541.9V808.6H540.8V808.6H539.8V806.4H538.7V809.5H537.6V809.5H536.6V808.4H535.5V808.1H534.4V815H533.4V815H532.3V811.9H531.2V813.5H530.2V820.1H529.1V820.1H528V821.7H527V821.7H525.9V817.5H524.8V817.5H523.8V819.5H522.7V823.1H521.7V823.9H520.6V823.9H519.5V824H518.5V827.9H517.4V827.9H516.3V825.9H515.3V831.7H514.2V831.7H513.1V829.7H512.1V828.6H511V830.7H509.9V830.7H508.9V831.8H507.8V831.8H506.8V829.2H505.7V830H504.6V830H503.6V827.2H502.5V824.1H501.4V830H500.4V832H499.3V832H498.2V824.7H497.2V827.3H496.1V827.3H495V825.9H494V822.8H492.9V823.7H491.8V827.3H490.8V827.3H489.7V830.7H488.7V831.2H487.6V832H486.5V832.9H485.5V832.9H484.4V835.6H483.3V835.6H482.3V837.8H481.2V837.8H480.1V837.5H479.1V847.1H478V847.1H476.9V854.6H475.9V857H474.8V869.4H473.8V877.2H472.7V884.3H471.6V902.2H470.6V912.9H469.5V930.9H468.4V943H467.4V947.2H466.3V947.2H465.2V938.8H464.2V931.1H463.1V917.4H462V900.9H461V886H459.9V875.3H458.9V868.9H457.8V863.8H456.7V856.2H455.7V850.5H454.6V842.4H453.5V842.4H452.5V842.2H451.4V842.2H450.3V843H449.3V843H448.2V833.2H447.1V836.3H446.1V836.3H445V833.3H443.9V829.9H442.9V838.4H441.8V838.4H440.8V837.3H439.7V834.1H438.6V839.4H437.6V839.4H436.5V837.6H435.4V837.6H434.4V845.2H433.3V854.1H432.2V857.9H431.2V862.6H430.1V868.5H429V870.2H428V877.5H426.9V882.3H425.9V890.9H424.8V894.7H423.7V898.5H422.7V906.8H421.6V908.9H420.5V917.2H419.5V918.7H418.4V920.8H417.3V922.2H416.3V922.2H415.2V904.4H414.1V897.4H413.1V907.2H412V916.8H411V925.4H409.9V939.2H408.8V942.2H407.8V951.5H406.7V954.8H405.6V959H404.6V965.3H403.5V965.3H402.4V980H401.4V980H400.3V979.2H399.2V993.4H398.2V993.4H397.1V985H396V974.3H395V955.9H393.9V943.5H392.9V930.7H391.8V916.4H390.7V899.3H389.7V883.3H388.6V873.9H387.5V868.1H386.5V857.2H385.4V857.2H384.3V847.6H383.3V847.5H382.2V841H381.1V838.1H380.1V838.3H379V838.3H378V831H376.9V831H375.8V828.8H374.8V828.8H373.7V824.7H372.6V824.7H371.6V826.7H370.5V827.6H369.4V827.6H368.4V826.2H367.3V823.5H366.2V821.9H365.2V820.5H364.1V826.9H363.1V827.4H362V827.7H360.9V827.7H359.9V826.8H358.8V829.9H357.7V829.9H356.7V832H355.6V832H354.5V828.8H353.5V828.8H352.4V823.9H351.3V826.2H350.3V826.2H349.2V825H348.1V825H347.1V823.6H346V823.3H345V822.4H343.9V824.3H342.8V828.5H341.8V828.5H340.7V823.8H339.6V823.8H338.6V825H337.5V825H336.4V822.3H335.4V821.8H334.3V825H333.2V825H332.2V825.4H331.1V827.5H330.1V829.7H329V829.7H327.9V831.2H326.9V831.4H325.8V831.4H324.7V832.6H323.7V832.6H322.6V832.9H321.5V832.9H320.5V830.4H319.4V829.3H318.3V829.3H317.3V823.6H316.2V825.3H315.2V825.3H314.1V823.3H313V821.7H312V820.7H310.9V820.7H309.8V822H308.8V825.4H307.7V825.4H306.6V817.4H305.6V817.3H304.5V818.9H303.4V818.9H302.4V818.6H301.3V824.2H300.2V824.2H299.2V812.3H298.1V814.4H297.1V814.4H296V815.5H294.9V815.5H293.9V814.9H292.8V814.9H291.7V809.8H290.7V807.7H289.6V804.5H288.5V802.2H287.5V807.5H286.4V807.5H285.3V806.8H284.3V806.8H283.2V803.5H282.2V801.2H281.1V801.2H280V799.4H279V799.8H277.9V803.4H276.8V805.4H275.8V805.8H274.7V805.8H273.6V805.2H272.6V805.2H271.5V802.8H270.4V802.6H269.4V802.6H268.3V798.5H267.2V799.7H266.2V799.7H265.1V801.2H264.1V801.2H263V800.7H261.9V803.4H260.9V803.4H259.8V798.5H258.7V796.2H257.7V802H256.6V804.5H255.5V804.5H254.5V800.4H253.4V800.7H252.3V800.7H251.3V802.2H250.2V805.8H249.2V805.8H248.1V804.7H247V801.3H246V803.4H244.9V803.4H243.8V798.9H242.8V798.9H241.7V801.9H240.6V801.9H239.6V798.3H238.5V804.7H237.4V804.7H236.4V797.8H235.3V797.8H234.3V801.6H233.2V801.6H232.1V802.4H231.1V813H230V813H228.9V804.6H227.9V808.6H226.8V808.6H225.7V815.8H224.7V819.9H223.6V819.9H222.5V811.8H221.5V813.2H220.4V818.8H219.3V818.8H218.3V816.3H217.2V814.7H216.2V810.7H215.1V810.7H214V816H213V816H211.9V814.7H210.8V811.9H209.8V810H208.7V809H207.6V805.4H206.6V805.4H205.5V805.9H204.4V807.3H203.4V807.3H202.3V802.6H201.3V799.8H200.2V801.8H199.1V801.8H198.1V799.9H197V799.9H195.9V800.1H194.9V800.1H193.8V800H192.7V801.7H191.7V801.7H190.6V801.4H189.5V804.4H188.5V804.4H187.4V798.1H186.4V798.1H185.3V800H184.2V802.9H183.2V802.9H182.1V801.7H181V798.6H180V797.1H178.9V797.1H177.8V793H176.8V809.1H175.7V809.1H174.6V801H173.6V800H172.5V804.2H171.4V804.2H170.4V800.6H169.3V798.6H168.3V799H167.2V799H166.1V796H165.1V794.2H164V793H162.9V798.8H161.9V798.8H160.8V796H159.7V803.4H158.7V803.4H157.6V799.9H156.5V799.9H155.5V795.6H154.4V798H153.4V801.4H152.3V803.4H151.2V803.4H150.2V803.1H149.1V803.1H148V798.9H147V801.4H145.9V801.4H144.8V797.4H143.8V795.3H142.7V797H141.6V797H140.6V799.4H139.5V799.4H138.5V796.3H137.4V801H136.3V801H135.3V796.1H134.2V798.9H133.1V798.9H132.1V795.9H131Z"/><path d="M131 978.2H132.1V978.2H133.1V977.7H134.2V977.7H135.3V979.1H136.3V979.1H137.4V977.2H138.5V977.2H139.5V976.8H140.6V976.8H141.6V978H142.7V979.5H143.8V980H144.8V977.1H145.9V976.6H147V976.6H148V980.1H149.1V977.4H150.2V977.4H151.2V978.5H152.3V979.1H153.4V979H154.4V976.2H155.5V976.2H156.5V978.4H157.6V978.3H158.7V978.3H159.7V978.2H160.8V978.2H161.9V979.5H162.9V977.2H164V977.2H165.1V979.5H166.1V979.4H167.2V977.7H168.3V977.7H169.3V978.5H170.4V978.5H171.4V982.1H172.5V978H173.6V978H174.6V978.5H175.7V980.6H176.8V980.6H177.8V974.6H178.9V974.6H180V977.6H181V977.6H182.1V976.3H183.2V976.3H184.2V977.7H185.3V977.9H186.4V979.4H187.4V979.9H188.5V980.8H189.5V980.8H190.6V981.4H191.7V977.4H192.7V977.4H193.8V979.6H194.9V979.6H195.9V984.3H197V983.5H198.1V983.5H199.1V988.3H200.2V988.4H201.3V990.6H202.3V990.7H203.4V993.1H204.4V995.8H205.5V993.9H206.6V993.9H207.6V999.8H208.7V999.8H209.8V1000.3H210.8V1000.3H211.9V1001.3H213V1001.5H214V1001.5H215.1V1001.5H216.2V1005H217.2V1003.7H218.3V1003.7H219.3V1006.9H220.4V1005.8H221.5V1004.7H222.5V1004.7H223.6V1000.8H224.7V1000.8H225.7V996H226.8V995H227.9V991.3H228.9V991.3H230V991.6H231.1V990.8H232.1V989.8H233.2V986.6H234.3V986.6H235.3V984.1H236.4V982.5H237.4V982.5H238.5V983H239.6V979.3H240.6V979.3H241.7V980.7H242.8V981.1H243.8V981.9H244.9V981.9H246V983.1H247V983H248.1V982.6H249.2V980.5H250.2V978.4H251.3V978.4H252.3V980.4H253.4V979.2H254.5V979.2H255.5V980H256.6V980H257.7V982.6H258.7V979.5H259.8V979.5H260.9V982.2H261.9V982.4H263V981.4H264.1V981.4H265.1V984H266.2V984H267.2V982.2H268.3V982.1H269.4V980.5H270.4V980.5H271.5V982H272.6V986.3H273.6V982.9H274.7V982.9H275.8V983.9H276.8V984.1H277.9V986H279V984.5H280V983.3H281.1V983.3H282.2V985.7H283.2V985.9H284.3V985.9H285.3V985.3H286.4V985.3H287.5V989.6H288.5V989.6H289.6V988.1H290.7V988.1H291.7V992.1H292.8V993.7H293.9V998.4H294.9V997.3H296V997.3H297.1V995.5H298.1V995.5H299.2V1004.2H300.2V999.1H301.3V999.1H302.4V997.3H303.4V997.3H304.5V1002H305.6V998.8H306.6V998.8H307.7V998.6H308.8V998.6H309.8V999.6H310.9V999.6H312V1001.5H313V1001.7H314.1V1002.4H315.2V1003.2H316.2V1005.5H317.3V1009.2H318.3V1011.3H319.4V1013.5H320.5V1013.5H321.5V1013.9H322.6V1014H323.7V1010.8H324.7V1010.8H325.8V1011H326.9V1012H327.9V1012H329V1008.4H330.1V1003.4H331.1V1003.4H332.2V1000.5H333.2V999.3H334.3V999.3H335.4V997.2H336.4V997.2H337.5V993.9H338.6V993.9H339.6V991.4H340.7V989.7H341.8V988.4H342.8V988.3H343.9V988.3H345V987.1H346V984.5H347.1V982H348.1V982H349.2V986.8H350.3V984.2H351.3V984.2H352.4V987.2H353.5V984.5H354.5V984.4H355.6V984.4H356.7V983.2H357.7V983.2H358.8V983.4H359.9V980.9H360.9V980.9H362V984.5H363.1V986.1H364.1V986.1H365.2V987.2H366.2V988.2H367.3V988.2H368.4V989.3H369.4V989.4H370.5V989.4H371.6V992.7H372.6V993.5H373.7V994.5H374.8V994.5H375.8V998.2H376.9V998H378V998H379V1001.2H380.1V1001.2H381.1V1007.2H382.2V1006H383.3V1006H384.3V1007.9H385.4V1014.2H386.5V1018.2H387.5V1020.4H388.6V1020.4H389.7V1022.7H390.7V1027.3H391.8V1038.4H392.9V1043.4H393.9V1052H395V1068.1H396V1079H397.1V1088.1H398.2V1092.9H399.2V1086H400.3V1085.4H401.4V1077.7H402.4V1066H403.5V1056.3H404.6V1049.1H405.6V1046.8H406.7V1036.2H407.8V1027.7H408.8V1027.7H409.9V1024.6H411V1024.6H412V1025.2H413.1V1025.2H414.1V1030.2H415.2V1031.1H416.3V1038.7H417.3V1042.6H418.4V1046.6H419.5V1050.8H420.5V1057.4H421.6V1061H422.7V1063.9H423.7V1058.6H424.8V1054.5H425.9V1046.3H426.9V1045.2H428V1041.3H429V1032.4H430.1V1026.6H431.2V1021.8H432.2V1019.1H433.3V1018.9H434.4V1018.4H435.4V1014H436.5V1011.1H437.6V1011.1H438.6V1011.4H439.7V1003.1H440.8V1003.1H441.8V1003.6H442.9V1002.9H443.9V1002.9H445V1010.4H446.1V1010.8H447.1V1011.2H448.2V1013.6H449.3V1015H450.3V1012H451.4V1006.2H452.5V1006.2H453.5V1004.9H454.6V999.9H455.7V999.9H456.7V997.6H457.8V997.6H458.9V1000.7H459.9V1001.3H461V1001.3H462V1002.3H463.1V1006.4H464.2V1006.4H465.2V1008.7H466.3V1008.3H467.4V1008.2H468.4V1002.4H469.5V1002.4H470.6V1002.6H471.6V998.1H472.7V998.1H473.8V993.6H474.8V993.6H475.9V992.2H476.9V991.2H478V989.6H479.1V989.6H480.1V990.3H481.2V990.3H482.3V992.9H483.3V991.3H484.4V990.7H485.5V988.6H486.5V988.6H487.6V994.6H488.7V993.3H489.7V993.3H490.8V997.1H491.8V999.3H492.9V999.3H494V1001.1H495V1003.9H496.1V1006.6H497.2V1008.1H498.2V1012.4H499.3V1014.2H500.4V1014.6H501.4V1014.6H502.5V1014.7H503.6V1014.7H504.6V1013H505.7V1012.6H506.8V1012.3H507.8V1008.1H508.9V1008.1H509.9V1008.4H511V1004.6H512.1V1004.6H513.1V1002.5H514.2V1002.5H515.3V1003.6H516.3V1000.7H517.4V999.5H518.5V999.5H519.5V999.6H520.6V998.9H521.7V998.2H522.7V996.5H523.8V996.5H524.8V998.7H525.9V998.7H527V996.9H528V996.9H529.1V996.9H530.2V997.6H531.2V997.6H532.3V999H533.4V997.5H534.4V997.5H535.5V994.4H536.6V991.6H537.6V991.6H538.7V994.3H539.8V989.5H540.8V989.5H541.9V988.1H542.9V985.8H544V983.2H545.1V983.2H546.1V983.5H547.2V983.5H548.3V983.6H549.3V983.6H550.4V987.6H551.5V986.3H552.5V985.4H553.6V984.2H554.7V984.2H555.7V985H556.8V984.1H557.8V984.1H558.9V984.4H560V984.9H561V985.5H562.1V984H563.2V983.7H564.2V983.7H565.3V983.8H566.4V983.8H567.4V984.1H568.5V981.5H569.6V979.6H570.6V979.6H571.7V978.4H572.7V978.4H573.8V981.3H574.9V981.3H575.9V983H577V982.2H578.1V982.2H579.1V982H580.2V982H581.3V984.9H582.3V985.3H583.4V986.7H584.5V986.7H585.5V985.7H586.6V980.5H587.7V980.5H588.7V984.3H589.8V984.6H590.8V986.1H591.9V986.1H593V983.3H594V983.3H595.1V988.2H596.2V988.7H597.2V988.9H598.3V992.3H599.4V994.4H600.4V995.5H601.5V996.2H602.6V997.8H603.6V1000.9H604.7V1002.1H605.7V1002.1H606.8V1005.1H607.9V1005.1H608.9V1009.6H610V1009.6H611.1V1010.7H612.1V1011.2H613.2V1008.6H614.3V1008.6H615.3V1008.7H616.4V1002.7H617.5V1002.7H618.5V1002.4H619.6V1000.7H620.6V997.2H621.7V991.7H622.8V991.2H623.8V990.4H624.9V990.4H626V989.8H627V986.6H628.1V984.2H629.2V984.2H630.2V981.4H631.3V981.4H632.4V979.8H633.4V979.8H634.5V979.3H635.6V979.3H636.6V981.4H637.7V974.3H638.7V974.3H639.8V975.6H640.9V975.6H641.9V976.5H643V976.9H644.1V978.3H645.1V980.1H646.2V980.1H647.3V980.2H648.3V979.8H649.4V979.2H650.5V979.2H651.5V980.4H652.6V976.6H653.6V975.5H654.7V975.5H655.8V978.2H656.8V978.8H657.9V978.8H659V981H660V982.3H661.1V975.3H662.2V975.3H663.2V978.1H664.3V978.1H665.4V981.1H666.4V979.7H667.5V978.6H668.5V978.6H669.6V978.5H670.7V978.5H671.7V978.6H672.8V978.6H673.9V979.9H674.9V980.3H676V980.3H677.1V991.3H676V991.7H674.9V991.7H673.9V988H672.8V989H671.7V989H670.7V988.4H669.6V990.8H668.5V990.8H667.5V990.1H666.4V991.1H665.4V991.1H664.3V987.6H663.2V987.6H662.2V990.7H661.1V993.9H660V993.9H659V991H657.9V988.6H656.8V988.6H655.8V987H654.7V987H653.6V988.4H652.6V990.4H651.5V990.4H650.5V989.3H649.4V991.7H648.3V991.7H647.3V990.5H646.2V991.1H645.1V991.1H644.1V986.6H643V986.7H641.9V986.7H640.9V986.5H639.8V986.5H638.7V991.9H637.7V991.9H636.6V989.5H635.6V992.9H634.5V992.9H633.4V992.7H632.4V992.7H631.3V999.3H630.2V999.3H629.2V996.3H628.1V998.6H627V1000H626V1001.6H624.9V1001.6H623.8V1001.5H622.8V1006.1H621.7V1009.3H620.6V1012.8H619.6V1016.8H618.5V1016.8H617.5V1019.7H616.4V1019.7H615.3V1018.6H614.3V1019.3H613.2V1022.9H612.1V1022.9H611.1V1018.9H610V1020.5H608.9V1020.5H607.9V1018.3H606.8V1018.3H605.7V1011H604.7V1011H603.6V1010.3H602.6V1006.3H601.5V1006.3H600.4V1004H599.4V1004H598.3V1001.4H597.2V999.5H596.2V999.5H595.1V999.3H594V997.8H593V997.8H591.9V996H590.8V995.4H589.8V995.3H588.7V995.3H587.7V994.2H586.6V995.9H585.5V995.9H584.5V996.4H583.4V996.4H582.3V994.2H581.3V993.5H580.2V996H579.1V996H578.1V993.1H577V993.1H575.9V991.4H574.9V993.4H573.8V993.4H572.7V991.2H571.7V991.2H570.6V992H569.6V994H568.5V994.7H567.4V994.7H566.4V994.6H565.3V994.6H564.2V992.5H563.2V993.7H562.1V998.3H561V998.3H560V993.8H558.9V994.7H557.8V994.7H556.8V995H555.7V995H554.7V994H553.6V994.4H552.5V997.6H551.5V997.6H550.4V996.9H549.3V996.5H548.3V996.5H547.2V993.4H546.1V993H545.1V996.2H544V998.6H542.9V1001.4H541.9V1001.4H540.8V1003.7H539.8V1003.7H538.7V1002.3H537.6V1003.8H536.6V1007.8H535.5V1007.8H534.4V1007.3H533.4V1008.4H532.3V1008.4H531.2V1007.1H530.2V1007.1H529.1V1006.5H528V1008.2H527V1008.2H525.9V1010.1H524.8V1010.1H523.8V1006.7H522.7V1009H521.7V1009.3H520.6V1012.1H519.5V1012.1H518.5V1009.9H517.4V1012.1H516.3V1015.9H515.3V1015.9H514.2V1014.2H513.1V1014.8H512.1V1017.2H511V1017.2H509.9V1016.6H508.9V1021.3H507.8V1021.3H506.8V1021.8H505.7V1026.4H504.6V1026.4H503.6V1026.3H502.5V1025.1H501.4V1025.1H500.4V1023.9H499.3V1023.9H498.2V1022H497.2V1018.7H496.1V1016.7H495V1012H494V1010.2H492.9V1007.7H491.8V1007.7H490.8V1005.6H489.7V1004H488.7V1006.9H487.6V1006.9H486.5V1000.6H485.5V1001H484.4V1001H483.3V1003.2H482.3V1003.2H481.2V1000.7H480.1V1000.3H479.1V1002.1H478V1002.1H476.9V1005.2H475.9V1005.2H474.8V1010H473.8V1010H472.7V1011.3H471.6V1016.1H470.6V1016.1H469.5V1018.5H468.4V1018.5H467.4V1017.8H466.3V1021.2H465.2V1021.2H464.2V1020.9H463.1V1020.9H462V1010.9H461V1011.3H459.9V1011.3H458.9V1010H457.8V1009.2H456.7V1010.3H455.7V1013H454.6V1018.2H453.5V1018.2H452.5V1020.7H451.4V1023.1H450.3V1023.2H449.3V1025.5H448.2V1025.5H447.1V1020.8H446.1V1019.2H445V1018.6H443.9V1013.4H442.9V1015.2H441.8V1015.2H440.8V1020.2H439.7V1021.1H438.6V1021.1H437.6V1022.3H436.5V1027.3H435.4V1027.3H434.4V1028.7H433.3V1030.9H432.2V1037H431.2V1042.5H430.1V1049.7H429V1054.1H428V1054.7H426.9V1062.8H425.9V1070.5H424.8V1073.4H423.7V1073.4H422.7V1073.2H421.6V1069.5H420.5V1066.1H419.5V1060.9H418.4V1054.9H417.3V1051.3H416.3V1046.8H415.2V1040.3H414.1V1039.5H413.1V1036.9H412V1035.7H411V1039.5H409.9V1039.5H408.8V1044.8H407.8V1055.1H406.7V1058.2H405.6V1065.1H404.6V1074.4H403.5V1086.4H402.4V1094.7H401.4V1095.1H400.3V1105.8H399.2V1105.8H398.2V1101.4H397.1V1096.2H396V1089.1H395V1077H393.9V1060.9H392.9V1054.8H391.8V1047.5H390.7V1035.4H389.7V1032.7H388.6V1029.3H387.5V1029.3H386.5V1027H385.4V1024H384.3V1017.5H383.3V1020H382.2V1020H381.1V1017H380.1V1012.3H379V1012.3H378V1008.1H376.9V1009.3H375.8V1009.3H374.8V1005.2H373.7V1005.2H372.6V1002.7H371.6V1002.7H370.5V1000.1H369.4V1000.1H368.4V998H367.3V998H366.2V997.1H365.2V995.9H364.1V997.3H363.1V997.3H362V994.5H360.9V994.9H359.9V994.9H358.8V993.3H357.7V995.7H356.7V995.7H355.6V994.8H354.5V999.1H353.5V999.1H352.4V996.3H351.3V999H350.3V999H349.2V997.9H348.1V993.9H347.1V995.8H346V998.9H345V998.9H343.9V997.8H342.8V999.3H341.8V1001.5H340.7V1002H339.6V1003.6H338.6V1007.9H337.5V1007.9H336.4V1010.8H335.4V1010.8H334.3V1011H333.2V1014H332.2V1014H331.1V1016.9H330.1V1020.5H329V1022.8H327.9V1022.8H326.9V1022.1H325.8V1021.5H324.7V1023.3H323.7V1023.7H322.6V1023.7H321.5V1022.7H320.5V1024.8H319.4V1024.8H318.3V1022.2H317.3V1017.5H316.2V1014.1H315.2V1012.7H314.1V1012H313V1012H312V1010.7H310.9V1010.7H309.8V1010.1H308.8V1012.9H307.7V1012.9H306.6V1011.9H305.6V1011.9H304.5V1011H303.4V1009.6H302.4V1009.5H301.3V1012.6H300.2V1014H299.2V1014H298.1V1010.3H297.1V1010.3H296V1007.5H294.9V1007.8H293.9V1007.8H292.8V1002.3H291.7V1000.7H290.7V1004.4H289.6V1004.4H288.5V1000.5H287.5V999.2H286.4V996.3H285.3V996.3H284.3V998.8H283.2V998.8H282.2V994.2H281.1V994.8H280V996.8H279V996.8H277.9V996.1H276.8V994.3H275.8V993.4H274.7V994.9H273.6V995.8H272.6V995.8H271.5V991.2H270.4V993H269.4V993H268.3V995.9H267.2V995.9H266.2V993.1H265.1V993H264.1V990.7H263V990.8H261.9V991.9H260.9V991.9H259.8V992.7H258.7V992.7H257.7V991.6H256.6V990.1H255.5V990.1H254.5V993.3H253.4V993.3H252.3V990.3H251.3V989.1H250.2V991H249.2V991.9H248.1V993.8H247V993.8H246V991.8H244.9V991.7H243.8V991.7H242.8V990.2H241.7V990.2H240.6V993.5H239.6V993.5H238.5V992.6H237.4V992.3H236.4V996.1H235.3V996.1H234.3V999.8H233.2V999.8H232.1V1001.9H231.1V1001.9H230V1001.4H228.9V1005.5H227.9V1005.5H226.8V1012.2H225.7V1012.2H224.7V1012.8H223.6V1014.2H222.5V1016.3H221.5V1016.3H220.4V1018.8H219.3V1018.8H218.3V1015.1H217.2V1015.1H216.2V1015.1H215.1V1010.6H214V1013.9H213V1013.9H211.9V1009.5H210.8V1010.7H209.8V1010.7H208.7V1013H207.6V1013H206.6V1007.9H205.5V1007.9H204.4V1004.6H203.4V1002.2H202.3V1001.2H201.3V999.7H200.2V999.7H199.1V999.6H198.1V994.7H197V994.7H195.9V994H194.9V993.5H193.8V993.5H192.7V990.5H191.7V990.5H190.6V989.8H189.5V992.5H188.5V992.5H187.4V989.6H186.4V989H185.3V987.5H184.2V987H183.2V993.2H182.1V993.2H181V990.3H180V990.3H178.9V992.3H177.8V992.3H176.8V990.7H175.7V990.7H174.6V990.7H173.6V991.5H172.5V992.7H171.4V992.7H170.4V988.2H169.3V988.2H168.3V987.8H167.2V989H166.1V990.4H165.1V990.4H164V988H162.9V988H161.9V987.7H160.8V988.3H159.7V988.8H158.7V988.8H157.6V991.4H156.5V991.4H155.5V988.4H154.4V988.4H153.4V990.5H152.3V990.5H151.2V990.2H150.2V989.6H149.1V989.6H148V988.6H147V986.5H145.9V988.5H144.8V988.5H143.8V988.5H142.7V989.5H141.6V989.5H140.6V991.9H139.5V991.9H138.5V991.3H137.4V991.3H136.3V988.5H135.3V988.5H134.2V990.3H133.1V990.3H132.1V989.4H131Z"/></g><g fill="none" stroke="#ec2227" stroke-width="2.5" stroke-linejoin="round" stroke-linecap="round"><path d="M131 19L131.5 19L132.5 19L133.5 19L134.5 19L135.5 19L136.5 19L137.5 19L138.5 19L139.5 19L140.5 19L141.5 19L142.5 19L143.5 19L144.5 19L145.5 19L146.5 19L147.5 19L148.5 19L149.5 19L150.5 19L151.5 19L152.5 19L153.5 19L154.5 19L155.5 19L156.5 19L157.5 19L158.5 19L159.5 19L160.5 19L161.5 19L162.5 19L163.5 19.1L164.5 19.1L165.5 19.1L166.5 19.1L167.5 19.1L168.5 19.1L169.5 19.1L170.5 19.1L171.5 19.1L172.5 19.1L173.5 19.1L174.5 19.1L175.5 19.1L176.5 19.1L177.5 19.1L178.5 19.1L179.5 19.1L180.5 19.1L181.5 19.1L182.5 19.1L183.5 19.1L184.5 19.1L185.5 19.1L186.5 19.1L187.5 19.1L188.5 19.1L189.5 19.1L190.5 19.1L191.5 19.1L192.5 19.1L193.5 19.1L194.5 19.1L195.5 19.1L196.5 19.1L197.5 19.1L198.5 19.1L199.5 19.1L200.5 19.1L201.5 19.1L202.5 19.1L203.5 19.1L204.5 19.1L205.5 19.1L206.5 19.1L207.5 19.1L208.5 19.1L209.5 19.1L210.5 19.1L211.5 19.1L212.5 19.1L213.5 19.1L214.5 19.1L215.5 19.1L216.5 19.1L217.5 19.1L218.5 19.1L219.5 19.1L220.5 19.1L221.5 19.1L222.5 19.1L223.5 19.1L224.5 19.1L225.5 19.1L226.5 19.1L227.5 19.1L228.5 19.1L229.5 19.1L230.5 19.1L231.5 19.1L232.5 19.1L233.5 19.1L234.5 19.1L235.5 19.1L236.5 19.1L237.5 19.1L238.5 19.1L239.5 19.1L240.5 19.1L241.5 19.1L242.5 19.1L243.5 19.1L244.5 19.1L245.5 19.1L246.5 19.1L247.5 19.1L248.5 19.1L249.5 19.1L250.5 19.1L251.5 19.1L252.5 19.1L253.5 19.1L254.5 19.1L255.5 19.1L256.5 19.1L257.5 19.1L258.5 19.1L259.5 19.1L260.5 19.2L261.5 19.2L262.5 19.2L263.5 19.2L264.5 19.2L265.5 19.2L266.5 19.2L267.5 19.2L268.5 19.2L269.5 19.2L270.5 19.2L271.5 19.2L272.5 19.2L273.5 19.2L274.5 19.2L275.5 19.2L276.5 19.2L277.5 19.2L278.5 19.2L279.5 19.2L280.5 19.2L281.5 19.2L282.5 19.2L283.5 19.2L284.5 19.2L285.5 19.2L286.5 19.2L287.5 19.2L288.5 19.2L289.5 19.2L290.5 19.2L291.5 19.2L292.5 19.2L293.5 19.2L294.5 19.2L295.5 19.2L296.5 19.2L297.5 19.2L298.5 19.2L299.5 19.2L300.5 19.2L301.5 19.2L302.5 19.2L303.5 19.2L304.5 19.2L305.5 19.2L306.5 19.2L307.5 19.2L308.5 19.2L309.5 19.2L310.5 19.2L311.5 19.2L312.5 19.2L313.5 19.2L314.5 19.2L315.5 19.2L316.5 19.2L317.5 19.2L318.5 19.2L319.5 19.3L320.5 19.3L321.5 19.3L322.5 19.3L323.5 19.3L324.5 19.3L325.5 19.3L326.5 19.3L327.5 19.3L328.5 19.3L329.5 19.3L330.5 19.3L331.5 19.3L332.5 19.3L333.5 19.3L334.5 19.3L335.5 19.3L336.5 19.3L337.5 19.4L338.5 19.4L339.5 19.4L340.5 19.4L341.5 19.4L342.5 19.4L343.5 19.4L344.5 19.4L345.5 19.4L346.5 19.4L347.5 19.4L348.5 19.5L349.5 19.5L350.5 19.5L351.5 19.5L352.5 19.5L353.5 19.5L354.5 19.5L355.5 19.5L356.5 19.5L357.5 19.6L358.5 19.6L359.5 19.6L360.5 19.6L361.5 19.6L362.5 19.7L363.5 19.7L364.5 19.8L365.5 19.9L366.5 20L367.5 20.1L368.5 20.2L369.5 20.3L370.5 20.3L371.5 20.4L372.5 20.6L373.5 20.7L374.5 20.8L375.5 20.9L376.5 21.1L377.5 21.2L378.5 21.4L379.5 21.7L380.5 21.9L381.5 22.2L382.5 22.7L383.5 23.6L384.5 24.7L385.5 25.9L386.5 27.3L387.5 28.7L388.5 30.1L389.5 31.3L390.5 32.8L391.5 34.4L392.5 36L393.5 37.6L394.5 38.9L395.5 39.9L396.5 40.4L397.5 40.4L398.5 40.3L399.5 40.1L400.5 39.9L401.5 39.6L402.5 39.3L403.5 39L404.5 38.3L405.5 37L406.5 35.3L407.5 33.6L408.5 31.9L409.5 30.5L410.5 29.7L411.5 29.6L412.5 30.1L413.5 31.1L414.5 32.2L415.5 33.1L416.5 33.6L417.5 33.5L418.5 32.5L419.5 31L420.5 29.2L421.5 27.5L422.5 26L423.5 25.1L424.5 24.6L425.5 24L426.5 23.6L427.5 23.1L428.5 22.7L429.5 22.3L430.5 22L431.5 21.7L432.5 21.5L433.5 21.4L434.5 21.3L435.5 21.3L436.5 21.3L437.5 21.3L438.5 21.3L439.5 21.4L440.5 21.4L441.5 21.5L442.5 21.5L443.5 21.6L444.5 21.7L445.5 21.7L446.5 21.8L447.5 21.9L448.5 22L449.5 22.1L450.5 22.2L451.5 22.4L452.5 22.7L453.5 23.2L454.5 23.7L455.5 24.3L456.5 25L457.5 25.8L458.5 26.6L459.5 27.5L460.5 28.7L461.5 30.8L462.5 33.2L463.5 35.5L464.5 36.9L465.5 37L466.5 36.1L467.5 34.5L468.5 32.7L469.5 30.7L470.5 29L471.5 27.7L472.5 26.6L473.5 25.4L474.5 24.4L475.5 23.4L476.5 22.5L477.5 21.9L478.5 21.4L479.5 21.2L480.5 21.1L481.5 20.9L482.5 20.8L483.5 20.6L484.5 20.5L485.5 20.4L486.5 20.3L487.5 20.2L488.5 20.1L489.5 20L490.5 20L491.5 19.9L492.5 19.8L493.5 19.8L494.5 19.8L495.5 19.7L496.5 19.7L497.5 19.6L498.5 19.6L499.5 19.6L500.5 19.6L501.5 19.6L502.5 19.6L503.5 19.6L504.5 19.5L505.5 19.5L506.5 19.5L507.5 19.5L508.5 19.5L509.5 19.5L510.5 19.5L511.5 19.5L512.5 19.4L513.5 19.4L514.5 19.4L515.5 19.4L516.5 19.4L517.5 19.4L518.5 19.4L519.5 19.4L520.5 19.4L521.5 19.4L522.5 19.4L523.5 19.4L524.5 19.3L525.5 19.3L526.5 19.3L527.5 19.3L528.5 19.3L529.5 19.3L530.5 19.3L531.5 19.3L532.5 19.3L533.5 19.3L534.5 19.3L535.5 19.3L536.5 19.3L537.5 19.3L538.5 19.3L539.5 19.3L540.5 19.3L541.5 19.3L542.5 19.3L543.5 19.3L544.5 19.2L545.5 19.2L546.5 19.2L547.5 19.2L548.5 19.2L549.5 19.2L550.5 19.2L551.5 19.2L552.5 19.2L553.5 19.2L554.5 19.2L555.5 19.2L556.5 19.2L557.5 19.2L558.5 19.2L559.5 19.2L560.5 19.2L561.5 19.2L562.5 19.2L563.5 19.2L564.5 19.2L565.5 19.2L566.5 19.2L567.5 19.2L568.5 19.2L569.5 19.2L570.5 19.2L571.5 19.2L572.5 19.2L573.5 19.2L574.5 19.2L575.5 19.2L576.5 19.2L577.5 19.2L578.5 19.1L579.5 19.1L580.5 19.1L581.5 19.1L582.5 19.1L583.5 19.1L584.5 19.1L585.5 19.1L586.5 19.1L587.5 19.1L588.5 19.1L589.5 19.1L590.5 19.1L591.5 19.1L592.5 19.1L593.5 19.1L594.5 19.1L595.5 19.1L596.5 19.1L597.5 19.1L598.5 19.1L599.5 19.1L600.5 19.1L601.5 19.1L602.5 19.1L603.5 19.1L604.5 19.1L605.5 19.1L606.5 19.1L607.5 19.1L608.5 19.1L609.5 19.1L610.5 19.1L611.5 19.1L612.5 19.1L613.5 19.1L614.5 19.1L615.5 19.1L616.5 19.1L617.5 19.1L618.5 19.1L619.5 19.1L620.5 19.1L621.5 19.1L622.5 19.1L623.5 19L624.5 19L625.5 19L626.5 19L627.5 19L628.5 19L629.5 19L630.5 19L631.5 19L632.5 19L633.5 19L634.5 19L635.5 19L636.5 19L637.5 19L638.5 19L639.5 19L640.5 19L641.5 19L642.5 19L643.5 19L644.5 19L645.5 19L646.5 19L647.5 19L648.5 19L649.5 19L650.5 19L651.5 19L652.5 19L653.5 19L654.5 19L655.5 19L656.5 19L657.5 19L658.5 19L659.5 19L660.5 19L661.5 19L662.5 19L663.5 19L664.5 19L665.5 19L666.5 19L667.5 19L668.5 19L669.5 19L670.5 19L671.5 19L672.5 19L673.5 19L674.5 19L675.5 19L676.5 19"/><path d="M131 65.4L131.5 65.4L132.5 65.4L133.5 65.4L134.5 65.4L135.5 65.4L136.5 65.4L137.5 65.4L138.5 65.4L139.5 65.4L140.5 65.4L141.5 65.4L142.5 65.4L143.5 65.4L144.5 65.4L145.5 65.4L146.5 65.4L147.5 65.4L148.5 65.4L149.5 65.4L150.5 65.4L151.5 65.4L152.5 65.4L153.5 65.4L154.5 65.4L155.5 65.4L156.5 65.4L157.5 65.4L158.5 65.4L159.5 65.4L160.5 65.4L161.5 65.4L162.5 65.4L163.5 65.4L164.5 65.4L165.5 65.4L166.5 65.5L167.5 65.5L168.5 65.5L169.5 65.5L170.5 65.5L171.5 65.5L172.5 65.5L173.5 65.5L174.5 65.5L175.5 65.5L176.5 65.5L177.5 65.5L178.5 65.5L179.5 65.5L180.5 65.5L181.5 65.5L182.5 65.5L183.5 65.5L184.5 65.5L185.5 65.5L186.5 65.5L187.5 65.5L188.5 65.5L189.5 65.5L190.5 65.5L191.5 65.5L192.5 65.5L193.5 65.5L194.5 65.5L195.5 65.5L196.5 65.6L197.5 65.6L198.5 65.6L199.5 65.6L200.5 65.6L201.5 65.6L202.5 65.6L203.5 65.6L204.5 65.6L205.5 65.6L206.5 65.6L207.5 65.6L208.5 65.6L209.5 65.6L210.5 65.6L211.5 65.6L212.5 65.6L213.5 65.6L214.5 65.6L215.5 65.6L216.5 65.6L217.5 65.6L218.5 65.6L219.5 65.7L220.5 65.7L221.5 65.7L222.5 65.7L223.5 65.7L224.5 65.7L225.5 65.7L226.5 65.7L227.5 65.7L228.5 65.7L229.5 65.7L230.5 65.7L231.5 65.7L232.5 65.7L233.5 65.7L234.5 65.7L235.5 65.7L236.5 65.7L237.5 65.7L238.5 65.7L239.5 65.7L240.5 65.8L241.5 65.8L242.5 65.8L243.5 65.8L244.5 65.8L245.5 65.8L246.5 65.8L247.5 65.8L248.5 65.8L249.5 65.8L250.5 65.8L251.5 65.8L252.5 65.8L253.5 65.8L254.5 65.8L255.5 65.8L256.5 65.8L257.5 65.8L258.5 65.8L259.5 65.8L260.5 65.9L261.5 65.9L262.5 65.9L263.5 65.9L264.5 65.9L265.5 65.9L266.5 65.9L267.5 65.9L268.5 65.9L269.5 65.9L270.5 65.9L271.5 65.9L272.5 65.9L273.5 65.9L274.5 65.9L275.5 65.9L276.5 65.9L277.5 65.9L278.5 65.9L279.5 65.9L280.5 66L281.5 66L282.5 66L283.5 66L284.5 66L285.5 66L286.5 66L287.5 66L288.5 66L289.5 66L290.5 66L291.5 66L292.5 66L293.5 66L294.5 66L295.5 66.1L296.5 66.1L297.5 66.1L298.5 66.1L299.5 66.1L300.5 66.1L301.5 66.1L302.5 66.1L303.5 66.1L304.5 66.1L305.5 66.1L306.5 66.1L307.5 66.2L308.5 66.2L309.5 66.2L310.5 66.2L311.5 66.2L312.5 66.2L313.5 66.2L314.5 66.2L315.5 66.2L316.5 66.3L317.5 66.3L318.5 66.3L319.5 66.3L320.5 66.3L321.5 66.3L322.5 66.3L323.5 66.3L324.5 66.4L325.5 66.4L326.5 66.4L327.5 66.4L328.5 66.4L329.5 66.4L330.5 66.4L331.5 66.5L332.5 66.5L333.5 66.5L334.5 66.5L335.5 66.5L336.5 66.5L337.5 66.6L338.5 66.6L339.5 66.6L340.5 66.6L341.5 66.6L342.5 66.7L343.5 66.7L344.5 66.7L345.5 66.8L346.5 66.8L347.5 66.9L348.5 66.9L349.5 67L350.5 67.1L351.5 67.1L352.5 67.2L353.5 67.3L354.5 67.3L355.5 67.4L356.5 67.5L357.5 67.6L358.5 67.7L359.5 67.8L360.5 67.8L361.5 68L362.5 68.1L363.5 68.2L364.5 68.3L365.5 68.5L366.5 68.7L367.5 68.8L368.5 69L369.5 69.2L370.5 69.4L371.5 69.6L372.5 69.8L373.5 70L374.5 70.3L375.5 70.7L376.5 71.2L377.5 71.7L378.5 72.4L379.5 73.2L380.5 74L381.5 75.1L382.5 76.5L383.5 78L384.5 80.1L385.5 82.8L386.5 85.8L387.5 89.2L388.5 93.1L389.5 97.1L390.5 101.3L391.5 105.7L392.5 110.3L393.5 116.3L394.5 122L395.5 124.9L396.5 124.1L397.5 122L398.5 119.9L399.5 118.6L400.5 117.7L401.5 117L402.5 116.8L403.5 116.6L404.5 116.4L405.5 115.2L406.5 112.5L407.5 109.6L408.5 107.8L409.5 107.2L410.5 106.9L411.5 106.4L412.5 105.6L413.5 103L414.5 99.1L415.5 95.1L416.5 90.7L417.5 86.6L418.5 83.6L419.5 81.1L420.5 79.1L421.5 77.6L422.5 76.5L423.5 75.5L424.5 74.7L425.5 74L426.5 73.4L427.5 72.9L428.5 72.6L429.5 72.2L430.5 71.9L431.5 71.6L432.5 71.4L433.5 71.2L434.5 71.2L435.5 71.2L436.5 71.2L437.5 71.3L438.5 71.3L439.5 71.4L440.5 71.5L441.5 71.7L442.5 72.1L443.5 72.5L444.5 72.9L445.5 73.5L446.5 74L447.5 74.7L448.5 75.5L449.5 76.5L450.5 77.7L451.5 79.1L452.5 80.6L453.5 82.4L454.5 84.5L455.5 86.7L456.5 89L457.5 91.4L458.5 94.1L459.5 97.4L460.5 100.9L461.5 104.4L462.5 107.6L463.5 108.3L464.5 106.9L465.5 104.6L466.5 101.7L467.5 98.2L468.5 94.9L469.5 91.8L470.5 89L471.5 86.4L472.5 84L473.5 81.9L474.5 80.1L475.5 78.6L476.5 77.3L477.5 76.1L478.5 75.1L479.5 74.2L480.5 73.4L481.5 72.6L482.5 71.9L483.5 71.3L484.5 70.8L485.5 70.3L486.5 69.9L487.5 69.5L488.5 69.2L489.5 68.9L490.5 68.7L491.5 68.5L492.5 68.4L493.5 68.2L494.5 68.1L495.5 68L496.5 67.9L497.5 67.8L498.5 67.7L499.5 67.6L500.5 67.6L501.5 67.5L502.5 67.5L503.5 67.5L504.5 67.4L505.5 67.4L506.5 67.3L507.5 67.3L508.5 67.3L509.5 67.2L510.5 67.2L511.5 67.2L512.5 67.1L513.5 67.1L514.5 67.1L515.5 67L516.5 67L517.5 67L518.5 67L519.5 66.9L520.5 66.9L521.5 66.9L522.5 66.8L523.5 66.8L524.5 66.8L525.5 66.8L526.5 66.8L527.5 66.7L528.5 66.7L529.5 66.7L530.5 66.7L531.5 66.7L532.5 66.6L533.5 66.6L534.5 66.6L535.5 66.6L536.5 66.6L537.5 66.6L538.5 66.5L539.5 66.5L540.5 66.5L541.5 66.5L542.5 66.5L543.5 66.5L544.5 66.5L545.5 66.4L546.5 66.4L547.5 66.4L548.5 66.4L549.5 66.4L550.5 66.4L551.5 66.4L552.5 66.4L553.5 66.4L554.5 66.4L555.5 66.3L556.5 66.3L557.5 66.3L558.5 66.3L559.5 66.3L560.5 66.3L561.5 66.3L562.5 66.3L563.5 66.3L564.5 66.3L565.5 66.3L566.5 66.2L567.5 66.2L568.5 66.2L569.5 66.2L570.5 66.2L571.5 66.2L572.5 66.2L573.5 66.2L574.5 66.2L575.5 66.2L576.5 66.2L577.5 66.2L578.5 66.1L579.5 66.1L580.5 66.1L581.5 66.1L582.5 66.1L583.5 66.1L584.5 66.1L585.5 66.1L586.5 66.1L587.5 66.1L588.5 66.1L589.5 66.1L590.5 66.1L591.5 66L592.5 66L593.5 66L594.5 66L595.5 66L596.5 66L597.5 66L598.5 66L599.5 66L600.5 66L601.5 66L602.5 66L603.5 66L604.5 66L605.5 65.9L606.5 65.9L607.5 65.9L608.5 65.9L609.5 65.9L610.5 65.9L611.5 65.9L612.5 65.9L613.5 65.9L614.5 65.9L615.5 65.9L616.5 65.9L617.5 65.9L618.5 65.9L619.5 65.9L620.5 65.9L621.5 65.9L622.5 65.8L623.5 65.8L624.5 65.8L625.5 65.8L626.5 65.8L627.5 65.8L628.5 65.8L629.5 65.8L630.5 65.8L631.5 65.8L632.5 65.8L633.5 65.8L634.5 65.8L635.5 65.8L636.5 65.8L637.5 65.8L638.5 65.8L639.5 65.8L640.5 65.8L641.5 65.8L642.5 65.8L643.5 65.8L644.5 65.8L645.5 65.8L646.5 65.7L647.5 65.7L648.5 65.7L649.5 65.7L650.5 65.7L651.5 65.7L652.5 65.7L653.5 65.7L654.5 65.7L655.5 65.7L656.5 65.7L657.5 65.7L658.5 65.7L659.5 65.7L660.5 65.7L661.5 65.7L662.5 65.7L663.5 65.7L664.5 65.7L665.5 65.7L666.5 65.7L667.5 65.7L668.5 65.7L669.5 65.7L670.5 65.7L671.5 65.7L672.5 65.7L673.5 65.7L674.5 65.7L675.5 65.7L676.5 65.7"/><path d="M131 128.5L131.5 128.5L132.5 128.5L133.5 128.5L134.5 128.5L135.5 128.5L136.5 128.5L137.5 128.5L138.5 128.5L139.5 128.5L140.5 128.5L141.5 128.5L142.5 128.5L143.5 128.5L144.5 128.5L145.5 128.5L146.5 128.5L147.5 128.5L148.5 128.6L149.5 128.6L150.5 128.6L151.5 128.6L152.5 128.6L153.5 128.6L154.5 128.6L155.5 128.6L156.5 128.6L157.5 128.6L158.5 128.6L159.5 128.7L160.5 128.7L161.5 128.7L162.5 128.7L163.5 128.7L164.5 128.7L165.5 128.7L166.5 128.7L167.5 128.8L168.5 128.8L169.5 128.8L170.5 128.8L171.5 128.8L172.5 128.9L173.5 128.9L174.5 128.9L175.5 128.9L176.5 128.9L177.5 129L178.5 129L179.5 129L180.5 129L181.5 129.1L182.5 129.1L183.5 129.1L184.5 129.1L185.5 129.2L186.5 129.2L187.5 129.2L188.5 129.3L189.5 129.3L190.5 129.3L191.5 129.4L192.5 129.5L193.5 129.7L194.5 129.9L195.5 130.1L196.5 130.4L197.5 130.7L198.5 131L199.5 131.4L200.5 131.9L201.5 132.4L202.5 133L203.5 133.6L204.5 134.3L205.5 135L206.5 135.8L207.5 136.6L208.5 137.3L209.5 138L210.5 138.6L211.5 139.1L212.5 139.5L213.5 140L214.5 140.6L215.5 141.3L216.5 142.2L217.5 143.1L218.5 144.1L219.5 145.3L220.5 146.6L221.5 147.7L222.5 148.2L223.5 147.8L224.5 147L225.5 145.9L226.5 144.7L227.5 143.1L228.5 141.3L229.5 139.7L230.5 138.4L231.5 137.1L232.5 135.9L233.5 134.9L234.5 134.1L235.5 133.4L236.5 132.8L237.5 132.2L238.5 131.7L239.5 131.4L240.5 131.2L241.5 131L242.5 130.9L243.5 130.8L244.5 130.7L245.5 130.6L246.5 130.5L247.5 130.5L248.5 130.4L249.5 130.4L250.5 130.4L251.5 130.4L252.5 130.4L253.5 130.4L254.5 130.4L255.5 130.5L256.5 130.5L257.5 130.5L258.5 130.5L259.5 130.6L260.5 130.6L261.5 130.6L262.5 130.7L263.5 130.7L264.5 130.8L265.5 130.8L266.5 130.9L267.5 130.9L268.5 131L269.5 131L270.5 131.1L271.5 131.2L272.5 131.3L273.5 131.3L274.5 131.4L275.5 131.5L276.5 131.6L277.5 131.7L278.5 131.8L279.5 131.9L280.5 132L281.5 132.1L282.5 132.4L283.5 132.7L284.5 133L285.5 133.3L286.5 133.7L287.5 134.2L288.5 134.7L289.5 135.1L290.5 135.4L291.5 135.5L292.5 135.6L293.5 135.7L294.5 135.8L295.5 135.9L296.5 136L297.5 136.1L298.5 136.2L299.5 136.4L300.5 136.6L301.5 136.9L302.5 137.5L303.5 138.3L304.5 139.2L305.5 140.2L306.5 141.3L307.5 142.5L308.5 143.8L309.5 145L310.5 146.1L311.5 147.2L312.5 148.3L313.5 149.3L314.5 150.2L315.5 151.1L316.5 152L317.5 152.9L318.5 153.6L319.5 154L320.5 153.8L321.5 153L322.5 151.9L323.5 150.7L324.5 149.5L325.5 148.2L326.5 146.8L327.5 145.4L328.5 144L329.5 142.8L330.5 141.7L331.5 140.7L332.5 139.8L333.5 139L334.5 138.2L335.5 137.6L336.5 137L337.5 136.4L338.5 136L339.5 135.6L340.5 135.2L341.5 134.9L342.5 134.6L343.5 134.4L344.5 134.2L345.5 134.2L346.5 134.2L347.5 134.2L348.5 134.2L349.5 134.2L350.5 134.2L351.5 134.2L352.5 134.2L353.5 134.3L354.5 134.3L355.5 134.3L356.5 134.3L357.5 134.3L358.5 134.4L359.5 134.4L360.5 134.4L361.5 134.6L362.5 134.8L363.5 135.1L364.5 135.5L365.5 136L366.5 136.5L367.5 137.1L368.5 137.8L369.5 138.4L370.5 139.2L371.5 139.9L372.5 140.7L373.5 141.6L374.5 142.6L375.5 143.9L376.5 145.3L377.5 146.9L378.5 148.6L379.5 150.5L380.5 152.6L381.5 155.1L382.5 158.1L383.5 161.4L384.5 165L385.5 169.2L386.5 173.8L387.5 178.5L388.5 182.6L389.5 186.6L390.5 191L391.5 196.2L392.5 203.4L393.5 211.5L394.5 219.1L395.5 227.2L396.5 233.2L397.5 233.1L398.5 229.2L399.5 225L400.5 221.8L401.5 218.9L402.5 216.8L403.5 215.6L404.5 214.8L405.5 214L406.5 212.6L407.5 210.1L408.5 206.8L409.5 203.8L410.5 201.8L411.5 200.5L412.5 199.5L413.5 198.3L414.5 196.6L415.5 193.3L416.5 188.7L417.5 183.8L418.5 178.8L419.5 173.8L420.5 169.9L421.5 166.5L422.5 163.6L423.5 160.9L424.5 158.3L425.5 155.9L426.5 153.8L427.5 152.1L428.5 151L429.5 149.9L430.5 149L431.5 148.3L432.5 147.9L433.5 147.8L434.5 147.8L435.5 147.9L436.5 148.1L437.5 148.2L438.5 148.4L439.5 148.7L440.5 149L441.5 149.3L442.5 149.6L443.5 150L444.5 150.4L445.5 150.9L446.5 151.4L447.5 151.9L448.5 152.6L449.5 153.7L450.5 155.1L451.5 156.8L452.5 158.9L453.5 161.2L454.5 163.8L455.5 167.7L456.5 173.1L457.5 178.9L458.5 185L459.5 191.5L460.5 197.7L461.5 204.4L462.5 210.3L463.5 211.6L464.5 208.4L465.5 203L466.5 196.9L467.5 189L468.5 181L469.5 174.3L470.5 168.1L471.5 162.9L472.5 158.9L473.5 155.5L474.5 152.7L475.5 150.5L476.5 148.8L477.5 147.4L478.5 146.2L479.5 145.3L480.5 144.8L481.5 144.5L482.5 144.2L483.5 144L484.5 143.9L485.5 144L486.5 144.2L487.5 144.5L488.5 144.9L489.5 145.2L490.5 145.6L491.5 146L492.5 146.4L493.5 147L494.5 147.5L495.5 148L496.5 148.5L497.5 149L498.5 149.4L499.5 149.7L500.5 150L501.5 150.1L502.5 150L503.5 149.7L504.5 149.1L505.5 148.4L506.5 147.6L507.5 146.8L508.5 145.9L509.5 145.2L510.5 144.6L511.5 144.2L512.5 144.1L513.5 144.3L514.5 144.7L515.5 145.3L516.5 145.9L517.5 146.4L518.5 146.7L519.5 146.7L520.5 146.2L521.5 145.3L522.5 144.1L523.5 142.8L524.5 141.4L525.5 140.2L526.5 139.1L527.5 138.4L528.5 137.6L529.5 136.9L530.5 136.2L531.5 135.6L532.5 135L533.5 134.5L534.5 134L535.5 133.7L536.5 133.4L537.5 133.2L538.5 133.1L539.5 132.9L540.5 132.7L541.5 132.6L542.5 132.5L543.5 132.4L544.5 132.3L545.5 132.2L546.5 132.2L547.5 132.2L548.5 132.2L549.5 132.2L550.5 132.2L551.5 132.2L552.5 132.2L553.5 132.3L554.5 132.3L555.5 132.3L556.5 132.3L557.5 132.3L558.5 132.4L559.5 132.4L560.5 132.4L561.5 132.5L562.5 132.5L563.5 132.6L564.5 132.6L565.5 132.7L566.5 132.8L567.5 133L568.5 133.3L569.5 133.7L570.5 134.3L571.5 134.9L572.5 135.6L573.5 136.4L574.5 137.1L575.5 138L576.5 139L577.5 140L578.5 141.1L579.5 142.1L580.5 143.1L581.5 144.3L582.5 145.4L583.5 146.4L584.5 146.9L585.5 146.8L586.5 146L587.5 144.7L588.5 143.3L589.5 142L590.5 140.7L591.5 139.3L592.5 137.9L593.5 136.6L594.5 135.5L595.5 134.9L596.5 134.4L597.5 134L598.5 133.6L599.5 133.3L600.5 133.1L601.5 132.9L602.5 132.9L603.5 132.9L604.5 133.1L605.5 133.2L606.5 133.4L607.5 133.6L608.5 133.9L609.5 134.3L610.5 134.9L611.5 135.5L612.5 136L613.5 136.2L614.5 136L615.5 135.5L616.5 134.8L617.5 134L618.5 133.4L619.5 132.9L620.5 132.4L621.5 131.9L622.5 131.5L623.5 131.1L624.5 130.7L625.5 130.4L626.5 130.2L627.5 129.9L628.5 129.8L629.5 129.6L630.5 129.4L631.5 129.3L632.5 129.2L633.5 129L634.5 128.9L635.5 128.8L636.5 128.7L637.5 128.6L638.5 128.6L639.5 128.5L640.5 128.5L641.5 128.5L642.5 128.5L643.5 128.4L644.5 128.4L645.5 128.4L646.5 128.4L647.5 128.4L648.5 128.4L649.5 128.4L650.5 128.3L651.5 128.3L652.5 128.3L653.5 128.3L654.5 128.3L655.5 128.3L656.5 128.3L657.5 128.3L658.5 128.3L659.5 128.3L660.5 128.3L661.5 128.2L662.5 128.2L663.5 128.2L664.5 128.2L665.5 128.2L666.5 128.2L667.5 128.2L668.5 128.2L669.5 128.2L670.5 128.2L671.5 128.2L672.5 128.2L673.5 128.2L674.5 128.2L675.5 128.2L676.5 128.2"/><path d="M131 231.3L131.5 231.3L132.5 231.3L133.5 231.3L134.5 231.3L135.5 231.3L136.5 231.3L137.5 231.3L138.5 231.4L139.5 231.4L140.5 231.4L141.5 231.4L142.5 231.4L143.5 231.5L144.5 231.5L145.5 231.5L146.5 231.6L147.5 231.6L148.5 231.6L149.5 231.7L150.5 231.7L151.5 231.7L152.5 231.8L153.5 231.8L154.5 231.9L155.5 231.9L156.5 232L157.5 232.1L158.5 232.1L159.5 232.2L160.5 232.3L161.5 232.3L162.5 232.4L163.5 232.5L164.5 232.5L165.5 232.6L166.5 232.7L167.5 232.8L168.5 232.9L169.5 233L170.5 233.1L171.5 233.2L172.5 233.3L173.5 233.4L174.5 233.5L175.5 233.6L176.5 233.7L177.5 233.8L178.5 233.9L179.5 234.1L180.5 234.2L181.5 234.3L182.5 234.4L183.5 234.6L184.5 234.7L185.5 234.9L186.5 235.1L187.5 235.5L188.5 236L189.5 236.5L190.5 237.1L191.5 237.8L192.5 238.6L193.5 239.5L194.5 240.5L195.5 241.7L196.5 243.2L197.5 244.8L198.5 246.5L199.5 248.5L200.5 250.9L201.5 253.4L202.5 255.9L203.5 258.6L204.5 261.2L205.5 263.4L206.5 265.2L207.5 266.7L208.5 267.3L209.5 266.8L210.5 265.7L211.5 264.4L212.5 262.5L213.5 260.2L214.5 257.7L215.5 255.6L216.5 253.5L217.5 251.5L218.5 249.7L219.5 247.9L220.5 246.2L221.5 244.7L222.5 243.3L223.5 242.2L224.5 241.2L225.5 240.3L226.5 239.6L227.5 239L228.5 238.5L229.5 238.1L230.5 237.7L231.5 237.4L232.5 237.1L233.5 236.9L234.5 236.7L235.5 236.5L236.5 236.4L237.5 236.2L238.5 236.1L239.5 236L240.5 236L241.5 235.9L242.5 235.9L243.5 235.9L244.5 235.9L245.5 235.8L246.5 235.8L247.5 235.8L248.5 235.8L249.5 235.8L250.5 235.8L251.5 235.8L252.5 235.8L253.5 235.8L254.5 235.8L255.5 235.8L256.5 235.8L257.5 235.8L258.5 235.9L259.5 235.9L260.5 235.9L261.5 235.9L262.5 235.9L263.5 235.9L264.5 235.9L265.5 236L266.5 236L267.5 236L268.5 236.1L269.5 236.1L270.5 236.2L271.5 236.2L272.5 236.3L273.5 236.4L274.5 236.4L275.5 236.5L276.5 236.6L277.5 236.7L278.5 236.9L279.5 237.2L280.5 237.5L281.5 237.9L282.5 238.3L283.5 238.8L284.5 239.3L285.5 239.9L286.5 240.5L287.5 241.2L288.5 242.3L289.5 243.6L290.5 245.1L291.5 246.6L292.5 248.1L293.5 249.4L294.5 250.6L295.5 251.8L296.5 253L297.5 254.1L298.5 255L299.5 255.5L300.5 255.5L301.5 255.1L302.5 254.2L303.5 253.2L304.5 252.3L305.5 251.5L306.5 250.7L307.5 249.8L308.5 249L309.5 248.4L310.5 248L311.5 248L312.5 248.4L313.5 249.2L314.5 250.1L315.5 251.1L316.5 252L317.5 252.9L318.5 253.8L319.5 254.7L320.5 255.4L321.5 255.6L322.5 255.2L323.5 254.4L324.5 253.3L325.5 252L326.5 250.6L327.5 249.5L328.5 248.6L329.5 247.7L330.5 246.8L331.5 245.9L332.5 245.1L333.5 244.3L334.5 243.7L335.5 243.1L336.5 242.7L337.5 242.3L338.5 241.9L339.5 241.6L340.5 241.2L341.5 240.9L342.5 240.6L343.5 240.3L344.5 240.1L345.5 239.9L346.5 239.8L347.5 239.7L348.5 239.7L349.5 239.7L350.5 239.7L351.5 239.8L352.5 239.8L353.5 239.9L354.5 239.9L355.5 240L356.5 240.1L357.5 240.2L358.5 240.4L359.5 240.8L360.5 241.2L361.5 241.7L362.5 242.3L363.5 242.9L364.5 243.5L365.5 244.1L366.5 244.9L367.5 245.8L368.5 246.8L369.5 247.9L370.5 249.1L371.5 250.4L372.5 251.8L373.5 253.5L374.5 255.3L375.5 257.4L376.5 259.8L377.5 262.5L378.5 265.4L379.5 268.6L380.5 272.1L381.5 276L382.5 280L383.5 284.2L384.5 288.5L385.5 293.3L386.5 298.8L387.5 305.4L388.5 312.8L389.5 320.5L390.5 328.6L391.5 336.7L392.5 344.7L393.5 352.7L394.5 361.9L395.5 371.6L396.5 375.1L397.5 374.4L398.5 373L399.5 371.6L400.5 370.9L401.5 371.9L402.5 375L403.5 378.2L404.5 379.3L405.5 375.4L406.5 368.1L407.5 360.3L408.5 350.8L409.5 343.4L410.5 338L411.5 334.4L412.5 334.5L413.5 337.2L414.5 340.8L415.5 344.8L416.5 349.3L417.5 348.5L418.5 341.7L419.5 333L420.5 322L421.5 310.4L422.5 299.2L423.5 290.4L424.5 283.7L425.5 278.4L426.5 274.3L427.5 270.9L428.5 268.2L429.5 266L430.5 264.1L431.5 262.6L432.5 261.9L433.5 261.9L434.5 262L435.5 262.1L436.5 262.6L437.5 263.3L438.5 264.1L439.5 265L440.5 265.9L441.5 267L442.5 268.1L443.5 269.3L444.5 270.6L445.5 271.9L446.5 273.3L447.5 274.8L448.5 276.4L449.5 278.1L450.5 280.1L451.5 282.3L452.5 285L453.5 288.4L454.5 292.2L455.5 296.8L456.5 301.9L457.5 307.1L458.5 312.4L459.5 317.4L460.5 322.2L461.5 327.2L462.5 330.9L463.5 331.7L464.5 329.6L465.5 326L466.5 321.3L467.5 314.2L468.5 306.8L469.5 299.9L470.5 293.2L471.5 287.6L472.5 282.8L473.5 278.5L474.5 274.8L475.5 271.5L476.5 268.4L477.5 265.6L478.5 263.1L479.5 261L480.5 259.1L481.5 257.3L482.5 255.9L483.5 254.7L484.5 253.7L485.5 252.8L486.5 252.1L487.5 251.7L488.5 251.6L489.5 251.7L490.5 252L491.5 252.2L492.5 252.5L493.5 253L494.5 253.5L495.5 254.1L496.5 254.9L497.5 255.8L498.5 256.7L499.5 257.3L500.5 257.6L501.5 257.4L502.5 257L503.5 256.3L504.5 255.6L505.5 254.7L506.5 253.9L507.5 253.2L508.5 252.3L509.5 251.4L510.5 250.6L511.5 249.9L512.5 249.2L513.5 248.6L514.5 248.1L515.5 247.7L516.5 247.5L517.5 247.6L518.5 247.9L519.5 248.4L520.5 249L521.5 249.6L522.5 250.3L523.5 251.4L524.5 252.6L525.5 253.9L526.5 254.9L527.5 255.9L528.5 256.7L529.5 257L530.5 256.7L531.5 255.9L532.5 254.9L533.5 253.8L534.5 252.5L535.5 250.8L536.5 248.9L537.5 247.1L538.5 245.6L539.5 244.6L540.5 243.7L541.5 242.9L542.5 242.1L543.5 241.5L544.5 241L545.5 240.5L546.5 240.1L547.5 239.8L548.5 239.4L549.5 239L550.5 238.5L551.5 237.9L552.5 237.4L553.5 237.1L554.5 237.1L555.5 237.1L556.5 237.1L557.5 237.1L558.5 237.1L559.5 237.1L560.5 237.1L561.5 237.1L562.5 237.1L563.5 237.1L564.5 237.1L565.5 237.2L566.5 237.2L567.5 237.2L568.5 237.2L569.5 237.2L570.5 237.2L571.5 237.2L572.5 237.2L573.5 237.3L574.5 237.3L575.5 237.3L576.5 237.3L577.5 237.3L578.5 237.4L579.5 237.4L580.5 237.4L581.5 237.5L582.5 237.5L583.5 237.7L584.5 237.8L585.5 237.9L586.5 238.1L587.5 238.3L588.5 238.6L589.5 239L590.5 239.6L591.5 240.2L592.5 240.8L593.5 241.5L594.5 242.3L595.5 243.3L596.5 244.4L597.5 245.7L598.5 247.1L599.5 248.9L600.5 251.1L601.5 253.5L602.5 255.9L603.5 258.2L604.5 260.5L605.5 262.8L606.5 264.7L607.5 266.5L608.5 267.9L609.5 268.1L610.5 267.3L611.5 265.8L612.5 264.1L613.5 262.2L614.5 259.6L615.5 256.8L616.5 254.2L617.5 251.6L618.5 249L619.5 246.5L620.5 244.6L621.5 243L622.5 241.6L623.5 240.4L624.5 239.4L625.5 238.5L626.5 237.8L627.5 237.1L628.5 236.6L629.5 236L630.5 235.6L631.5 235.2L632.5 234.8L633.5 234.6L634.5 234.3L635.5 234.1L636.5 233.9L637.5 233.7L638.5 233.6L639.5 233.5L640.5 233.3L641.5 233.2L642.5 233.1L643.5 233.1L644.5 233L645.5 232.9L646.5 232.8L647.5 232.7L648.5 232.7L649.5 232.6L650.5 232.6L651.5 232.5L652.5 232.4L653.5 232.4L654.5 232.3L655.5 232.3L656.5 232.2L657.5 232.2L658.5 232.1L659.5 232.1L660.5 232L661.5 231.9L662.5 231.9L663.5 231.8L664.5 231.8L665.5 231.7L666.5 231.7L667.5 231.7L668.5 231.6L669.5 231.6L670.5 231.5L671.5 231.5L672.5 231.4L673.5 231.4L674.5 231.4L675.5 231.3L676.5 231.3"/><path d="M131 398.8L131.5 398.8L132.5 398.8L133.5 398.8L134.5 398.8L135.5 398.8L136.5 398.8L137.5 398.8L138.5 398.8L139.5 398.8L140.5 398.8L141.5 398.8L142.5 398.8L143.5 398.8L144.5 398.8L145.5 398.8L146.5 398.9L147.5 398.9L148.5 398.9L149.5 398.9L150.5 398.9L151.5 398.9L152.5 398.9L153.5 398.9L154.5 398.9L155.5 398.9L156.5 398.9L157.5 398.9L158.5 399L159.5 399L160.5 399L161.5 399L162.5 399L163.5 399L164.5 399L165.5 399.1L166.5 399.1L167.5 399.1L168.5 399.1L169.5 399.1L170.5 399.1L171.5 399.2L172.5 399.2L173.5 399.2L174.5 399.2L175.5 399.2L176.5 399.3L177.5 399.3L178.5 399.3L179.5 399.3L180.5 399.3L181.5 399.4L182.5 399.4L183.5 399.4L184.5 399.4L185.5 399.5L186.5 399.6L187.5 399.6L188.5 399.7L189.5 399.8L190.5 399.9L191.5 400L192.5 400.1L193.5 400.2L194.5 400.3L195.5 400.5L196.5 400.7L197.5 400.9L198.5 401.2L199.5 401.5L200.5 401.8L201.5 402.3L202.5 402.9L203.5 403.5L204.5 404.3L205.5 405L206.5 406L207.5 407L208.5 408.1L209.5 409.2L210.5 410.4L211.5 411.7L212.5 413.2L213.5 414.5L214.5 415.8L215.5 417.2L216.5 418.7L217.5 420.2L218.5 421.3L219.5 422.1L220.5 422.1L221.5 421.7L222.5 420.8L223.5 419.7L224.5 418.6L225.5 417.5L226.5 416.2L227.5 414.7L228.5 413.3L229.5 412L230.5 411L231.5 410L232.5 409.1L233.5 408.2L234.5 407.4L235.5 406.8L236.5 406.2L237.5 405.8L238.5 405.3L239.5 404.9L240.5 404.5L241.5 404.1L242.5 403.8L243.5 403.4L244.5 403.1L245.5 402.7L246.5 402.4L247.5 402.1L248.5 401.9L249.5 401.7L250.5 401.5L251.5 401.4L252.5 401.3L253.5 401.1L254.5 401L255.5 400.9L256.5 400.8L257.5 400.7L258.5 400.6L259.5 400.5L260.5 400.5L261.5 400.4L262.5 400.4L263.5 400.4L264.5 400.4L265.5 400.4L266.5 400.5L267.5 400.5L268.5 400.6L269.5 400.7L270.5 400.8L271.5 400.9L272.5 401L273.5 401.1L274.5 401.3L275.5 401.4L276.5 401.6L277.5 401.7L278.5 401.9L279.5 402.1L280.5 402.3L281.5 402.5L282.5 402.7L283.5 402.9L284.5 403.1L285.5 403.3L286.5 403.6L287.5 403.8L288.5 404.1L289.5 404.4L290.5 404.8L291.5 405.3L292.5 405.7L293.5 406.2L294.5 406.8L295.5 407.3L296.5 407.9L297.5 408.4L298.5 408.9L299.5 409.5L300.5 410.1L301.5 410.8L302.5 411.6L303.5 412.3L304.5 413.1L305.5 413.8L306.5 414.4L307.5 414.9L308.5 415.3L309.5 415.5L310.5 415.7L311.5 415.8L312.5 415.9L313.5 416.1L314.5 416.2L315.5 416.3L316.5 416.4L317.5 416.5L318.5 416.6L319.5 416.6L320.5 416.7L321.5 416.7L322.5 416.8L323.5 416.8L324.5 416.9L325.5 416.9L326.5 416.9L327.5 416.9L328.5 416.7L329.5 416.3L330.5 415.8L331.5 415.3L332.5 414.7L333.5 414.1L334.5 413.6L335.5 413L336.5 412.4L337.5 411.7L338.5 410.9L339.5 410.2L340.5 409.5L341.5 408.8L342.5 408.2L343.5 407.6L344.5 407.2L345.5 406.9L346.5 406.7L347.5 406.5L348.5 406.3L349.5 406.2L350.5 406L351.5 405.9L352.5 405.8L353.5 405.6L354.5 405.5L355.5 405.4L356.5 405.3L357.5 405.3L358.5 405.2L359.5 405.2L360.5 405.1L361.5 405.1L362.5 405.1L363.5 405.1L364.5 405.1L365.5 405.2L366.5 405.3L367.5 405.4L368.5 405.5L369.5 405.6L370.5 405.7L371.5 405.9L372.5 406L373.5 406.2L374.5 406.6L375.5 407.2L376.5 407.9L377.5 408.8L378.5 409.7L379.5 410.7L380.5 411.8L381.5 412.9L382.5 413.9L383.5 415L384.5 416.1L385.5 417.2L386.5 418.4L387.5 419.7L388.5 421.1L389.5 422.8L390.5 424.7L391.5 427L392.5 429.5L393.5 432.2L394.5 435.1L395.5 438L396.5 440.9L397.5 443.8L398.5 446.7L399.5 449.7L400.5 452.8L401.5 456.1L402.5 459.7L403.5 464.2L404.5 469.9L405.5 476.2L406.5 482.4L407.5 488.1L408.5 492.5L409.5 495L410.5 494.7L411.5 491L412.5 484.9L413.5 478.1L414.5 472.1L415.5 468.7L416.5 468.9L417.5 472.2L418.5 477.3L419.5 482.8L420.5 487.5L421.5 490L422.5 489L423.5 483.9L424.5 475.8L425.5 466L426.5 455.7L427.5 446.3L428.5 438.9L429.5 434.4L430.5 431L431.5 427.9L432.5 425.1L433.5 422.8L434.5 420.9L435.5 419.6L436.5 418.7L437.5 417.8L438.5 417.1L439.5 416.5L440.5 416.1L441.5 416L442.5 416.1L443.5 416.3L444.5 416.5L445.5 416.8L446.5 417.1L447.5 417.3L448.5 417.5L449.5 417.5L450.5 417.3L451.5 417.1L452.5 416.7L453.5 416.3L454.5 416L455.5 415.7L456.5 415.6L457.5 415.7L458.5 416L459.5 416.5L460.5 417.1L461.5 417.8L462.5 418.4L463.5 419.1L464.5 419.6L465.5 419.9L466.5 420L467.5 419.7L468.5 419L469.5 418.1L470.5 417.1L471.5 416L472.5 414.9L473.5 414.1L474.5 413.4L475.5 412.7L476.5 412L477.5 411.3L478.5 410.7L479.5 410.1L480.5 409.6L481.5 409.2L482.5 409L483.5 408.9L484.5 408.9L485.5 409L486.5 409.2L487.5 409.4L488.5 409.6L489.5 409.8L490.5 410.1L491.5 410.4L492.5 410.6L493.5 410.9L494.5 411.3L495.5 411.7L496.5 412.2L497.5 412.6L498.5 413.1L499.5 413.6L500.5 414L501.5 414.3L502.5 414.6L503.5 414.7L504.5 414.9L505.5 415L506.5 415.1L507.5 415.2L508.5 415.3L509.5 415.4L510.5 415.5L511.5 415.5L512.5 415.6L513.5 415.6L514.5 415.6L515.5 415.6L516.5 415.6L517.5 415.6L518.5 415.6L519.5 415.6L520.5 415.6L521.5 415.6L522.5 415.6L523.5 415.6L524.5 415.6L525.5 415.8L526.5 415.9L527.5 416.1L528.5 416.3L529.5 416.5L530.5 416.5L531.5 416.2L532.5 415.5L533.5 414.5L534.5 413.4L535.5 412.3L536.5 411.3L537.5 410.5L538.5 409.8L539.5 409.1L540.5 408.4L541.5 407.7L542.5 407.1L543.5 406.5L544.5 406.1L545.5 405.7L546.5 405.3L547.5 404.9L548.5 404.5L549.5 404.1L550.5 403.8L551.5 403.4L552.5 403.1L553.5 402.8L554.5 402.5L555.5 402.3L556.5 402.1L557.5 402L558.5 401.9L559.5 401.8L560.5 401.8L561.5 401.8L562.5 401.8L563.5 401.8L564.5 401.9L565.5 401.9L566.5 401.9L567.5 401.9L568.5 401.9L569.5 401.9L570.5 401.9L571.5 401.9L572.5 401.9L573.5 401.9L574.5 401.9L575.5 401.9L576.5 401.9L577.5 401.9L578.5 401.9L579.5 401.9L580.5 401.9L581.5 402L582.5 402.2L583.5 402.5L584.5 402.8L585.5 403.1L586.5 403.5L587.5 403.8L588.5 404.2L589.5 404.7L590.5 405.2L591.5 405.8L592.5 406.4L593.5 407L594.5 407.7L595.5 408.5L596.5 409.4L597.5 410.3L598.5 411.3L599.5 412.2L600.5 413.2L601.5 414.2L602.5 415.2L603.5 416.3L604.5 417.2L605.5 418.2L606.5 419.2L607.5 420.2L608.5 420.8L609.5 420.8L610.5 420.2L611.5 419.1L612.5 417.8L613.5 416.5L614.5 415.2L615.5 413.7L616.5 412.2L617.5 410.9L618.5 409.8L619.5 408.9L620.5 408.1L621.5 407.4L622.5 406.7L623.5 406.1L624.5 405.5L625.5 405L626.5 404.5L627.5 404L628.5 403.6L629.5 403.2L630.5 402.8L631.5 402.4L632.5 402.1L633.5 401.7L634.5 401.4L635.5 401.2L636.5 401L637.5 400.9L638.5 400.7L639.5 400.6L640.5 400.6L641.5 400.5L642.5 400.4L643.5 400.3L644.5 400.2L645.5 400.2L646.5 400.1L647.5 400L648.5 399.9L649.5 399.8L650.5 399.8L651.5 399.7L652.5 399.6L653.5 399.6L654.5 399.5L655.5 399.4L656.5 399.3L657.5 399.3L658.5 399.2L659.5 399.2L660.5 399.1L661.5 399.1L662.5 399L663.5 398.9L664.5 398.9L665.5 398.9L666.5 398.8L667.5 398.8L668.5 398.7L669.5 398.7L670.5 398.7L671.5 398.7L672.5 398.6L673.5 398.6L674.5 398.6L675.5 398.6L676.5 398.6"/><path d="M131 496.4L131.5 496.4L132.5 496.4L133.5 496.4L134.5 496.4L135.5 496.4L136.5 496.4L137.5 496.4L138.5 496.4L139.5 496.4L140.5 496.4L141.5 496.4L142.5 496.4L143.5 496.4L144.5 496.4L145.5 496.5L146.5 496.5L147.5 496.5L148.5 496.5L149.5 496.5L150.5 496.5L151.5 496.5L152.5 496.5L153.5 496.5L154.5 496.5L155.5 496.6L156.5 496.6L157.5 496.6L158.5 496.6L159.5 496.6L160.5 496.6L161.5 496.6L162.5 496.7L163.5 496.7L164.5 496.7L165.5 496.7L166.5 496.7L167.5 496.7L168.5 496.8L169.5 496.8L170.5 496.8L171.5 496.8L172.5 496.8L173.5 496.9L174.5 496.9L175.5 496.9L176.5 496.9L177.5 497L178.5 497L179.5 497L180.5 497L181.5 497.1L182.5 497.1L183.5 497.1L184.5 497.1L185.5 497.2L186.5 497.2L187.5 497.2L188.5 497.2L189.5 497.3L190.5 497.3L191.5 497.3L192.5 497.4L193.5 497.4L194.5 497.4L195.5 497.5L196.5 497.6L197.5 497.6L198.5 497.7L199.5 497.9L200.5 498L201.5 498.2L202.5 498.5L203.5 498.8L204.5 499.1L205.5 499.4L206.5 499.7L207.5 500L208.5 500.4L209.5 500.8L210.5 501.3L211.5 502L212.5 502.7L213.5 503.6L214.5 504.5L215.5 505.5L216.5 506.7L217.5 508L218.5 509.2L219.5 510.3L220.5 511.5L221.5 512.7L222.5 513.6L223.5 514.1L224.5 513.8L225.5 513L226.5 511.9L227.5 510.8L228.5 509.4L229.5 507.9L230.5 506.3L231.5 505.1L232.5 504.1L233.5 503.2L234.5 502.3L235.5 501.7L236.5 501.1L237.5 500.6L238.5 500.2L239.5 499.9L240.5 499.6L241.5 499.3L242.5 499.1L243.5 498.8L244.5 498.6L245.5 498.4L246.5 498.2L247.5 498.1L248.5 498L249.5 497.9L250.5 497.9L251.5 497.9L252.5 497.9L253.5 497.9L254.5 497.9L255.5 497.9L256.5 497.9L257.5 497.9L258.5 497.9L259.5 497.9L260.5 497.9L261.5 497.9L262.5 497.9L263.5 498L264.5 498L265.5 498L266.5 498L267.5 498L268.5 498L269.5 498L270.5 498L271.5 498.1L272.5 498.1L273.5 498.1L274.5 498.1L275.5 498.1L276.5 498.2L277.5 498.2L278.5 498.2L279.5 498.2L280.5 498.3L281.5 498.3L282.5 498.3L283.5 498.3L284.5 498.4L285.5 498.4L286.5 498.6L287.5 498.8L288.5 499.1L289.5 499.4L290.5 499.8L291.5 500.1L292.5 500.5L293.5 500.9L294.5 501.3L295.5 501.8L296.5 502.4L297.5 503L298.5 503.8L299.5 504.6L300.5 505.5L301.5 506.8L302.5 508.2L303.5 509.4L304.5 510.4L305.5 511.3L306.5 512.1L307.5 512.7L308.5 512.9L309.5 512.7L310.5 512.3L311.5 511.7L312.5 511.1L313.5 510.2L314.5 509L315.5 508L316.5 507.4L317.5 506.9L318.5 506.5L319.5 506.1L320.5 505.8L321.5 505.6L322.5 505.4L323.5 505.2L324.5 505L325.5 504.8L326.5 504.7L327.5 504.6L328.5 504.5L329.5 504.4L330.5 504.4L331.5 504.3L332.5 504.3L333.5 504.3L334.5 504.2L335.5 504.1L336.5 504.1L337.5 504L338.5 503.9L339.5 503.7L340.5 503.6L341.5 503.5L342.5 503.3L343.5 503.3L344.5 503.2L345.5 503.2L346.5 503.2L347.5 503.2L348.5 503.3L349.5 503.3L350.5 503.4L351.5 503.4L352.5 503.5L353.5 503.6L354.5 503.8L355.5 504L356.5 504.2L357.5 504.4L358.5 504.7L359.5 504.9L360.5 505.1L361.5 505.3L362.5 505.6L363.5 505.8L364.5 506.1L365.5 506.3L366.5 506.6L367.5 506.9L368.5 507.1L369.5 507.4L370.5 507.6L371.5 507.9L372.5 508.1L373.5 508.3L374.5 508.6L375.5 509L376.5 509.5L377.5 510.1L378.5 510.8L379.5 511.7L380.5 512.6L381.5 513.7L382.5 515.2L383.5 516.9L384.5 518.9L385.5 521L386.5 523.5L387.5 526.4L388.5 529.7L389.5 533.7L390.5 538.6L391.5 544.3L392.5 550.6L393.5 557.8L394.5 566.1L395.5 575.9L396.5 586.5L397.5 597.4L398.5 608.8L399.5 622.7L400.5 632.4L401.5 630.1L402.5 622.5L403.5 616.5L404.5 611.6L405.5 609.8L406.5 609.6L407.5 609.5L408.5 609.2L409.5 607.9L410.5 605.4L411.5 599.4L412.5 590.3L413.5 583.5L414.5 578L415.5 576.1L416.5 577.2L417.5 579.1L418.5 582.5L419.5 586.7L420.5 586.5L421.5 580.7L422.5 573.2L423.5 563.9L424.5 554.3L425.5 546.7L426.5 540.3L427.5 534.8L428.5 529.8L429.5 525.8L430.5 522.9L431.5 520.5L432.5 518.7L433.5 517.4L434.5 516.6L435.5 516.4L436.5 516.5L437.5 516.5L438.5 516.4L439.5 516L440.5 515.5L441.5 515.1L442.5 515.2L443.5 515.5L444.5 516.1L445.5 516.7L446.5 517.4L447.5 518.1L448.5 519L449.5 520L450.5 521.2L451.5 522.5L452.5 523.9L453.5 525.7L454.5 527.7L455.5 530.1L456.5 533.1L457.5 536.9L458.5 541.4L459.5 547L460.5 553.7L461.5 562L462.5 571.1L463.5 580.6L464.5 591.5L465.5 605L466.5 606.8L467.5 599.5L468.5 590.5L469.5 580.8L470.5 570.3L471.5 559.7L472.5 550.1L473.5 542.6L474.5 536.4L475.5 531.3L476.5 526.9L477.5 523.4L478.5 520.6L479.5 518.2L480.5 516.2L481.5 514.7L482.5 513.4L483.5 512.3L484.5 511.4L485.5 510.7L486.5 510.1L487.5 509.6L488.5 509.2L489.5 508.9L490.5 508.5L491.5 508.1L492.5 507.7L493.5 507.3L494.5 507.1L495.5 506.9L496.5 506.7L497.5 506.6L498.5 506.4L499.5 506.3L500.5 506.3L501.5 506.2L502.5 506.1L503.5 506.1L504.5 506.1L505.5 506L506.5 506L507.5 506L508.5 505.9L509.5 505.9L510.5 505.9L511.5 505.9L512.5 505.9L513.5 505.9L514.5 506L515.5 506.2L516.5 506.3L517.5 506.5L518.5 506.8L519.5 507L520.5 507.3L521.5 507.7L522.5 508.3L523.5 509L524.5 509.7L525.5 510.4L526.5 511L527.5 511.5L528.5 511.8L529.5 511.7L530.5 511.3L531.5 510.5L532.5 509.5L533.5 508.5L534.5 507.4L535.5 506.5L536.5 505.7L537.5 505L538.5 504.3L539.5 503.6L540.5 503L541.5 502.4L542.5 501.9L543.5 501.4L544.5 501.1L545.5 500.8L546.5 500.5L547.5 500.2L548.5 500L549.5 499.8L550.5 499.6L551.5 499.4L552.5 499.2L553.5 499L554.5 498.8L555.5 498.7L556.5 498.5L557.5 498.4L558.5 498.3L559.5 498.2L560.5 498.2L561.5 498.2L562.5 498.2L563.5 498.2L564.5 498.2L565.5 498.2L566.5 498.3L567.5 498.3L568.5 498.3L569.5 498.3L570.5 498.3L571.5 498.4L572.5 498.4L573.5 498.4L574.5 498.5L575.5 498.5L576.5 498.5L577.5 498.6L578.5 498.6L579.5 498.7L580.5 498.7L581.5 498.8L582.5 498.9L583.5 499L584.5 499.2L585.5 499.3L586.5 499.5L587.5 499.7L588.5 499.9L589.5 500.2L590.5 500.6L591.5 501L592.5 501.5L593.5 502L594.5 502.6L595.5 503.4L596.5 504.3L597.5 505.2L598.5 506.2L599.5 507.4L600.5 508.7L601.5 510L602.5 511.1L603.5 512L604.5 512.8L605.5 513.4L606.5 513.7L607.5 513.4L608.5 512.8L609.5 511.9L610.5 511L611.5 509.8L612.5 508.3L613.5 506.9L614.5 505.6L615.5 504.4L616.5 503.3L617.5 502.3L618.5 501.5L619.5 500.9L620.5 500.4L621.5 500L622.5 499.6L623.5 499.3L624.5 499L625.5 498.8L626.5 498.6L627.5 498.4L628.5 498.2L629.5 498L630.5 497.9L631.5 497.8L632.5 497.6L633.5 497.5L634.5 497.4L635.5 497.3L636.5 497.1L637.5 497.1L638.5 497L639.5 496.9L640.5 496.9L641.5 496.9L642.5 496.8L643.5 496.8L644.5 496.8L645.5 496.7L646.5 496.7L647.5 496.7L648.5 496.7L649.5 496.6L650.5 496.6L651.5 496.6L652.5 496.6L653.5 496.5L654.5 496.5L655.5 496.5L656.5 496.5L657.5 496.5L658.5 496.4L659.5 496.4L660.5 496.4L661.5 496.4L662.5 496.4L663.5 496.4L664.5 496.4L665.5 496.4L666.5 496.3L667.5 496.3L668.5 496.3L669.5 496.3L670.5 496.3L671.5 496.3L672.5 496.3L673.5 496.3L674.5 496.3L675.5 496.3L676.5 496.3"/><path d="M131 632.6L131.5 632.6L132.5 632.6L133.5 632.6L134.5 632.6L135.5 632.6L136.5 632.6L137.5 632.6L138.5 632.7L139.5 632.7L140.5 632.7L141.5 632.7L142.5 632.7L143.5 632.8L144.5 632.8L145.5 632.8L146.5 632.8L147.5 632.9L148.5 632.9L149.5 632.9L150.5 633L151.5 633L152.5 633L153.5 633.1L154.5 633.1L155.5 633.2L156.5 633.2L157.5 633.3L158.5 633.3L159.5 633.4L160.5 633.4L161.5 633.4L162.5 633.5L163.5 633.5L164.5 633.6L165.5 633.7L166.5 633.7L167.5 633.8L168.5 633.8L169.5 633.9L170.5 633.9L171.5 634L172.5 634.1L173.5 634.1L174.5 634.2L175.5 634.3L176.5 634.4L177.5 634.5L178.5 634.6L179.5 634.7L180.5 634.8L181.5 634.9L182.5 635.1L183.5 635.2L184.5 635.4L185.5 635.6L186.5 635.7L187.5 635.9L188.5 636.2L189.5 636.4L190.5 636.6L191.5 637.1L192.5 637.6L193.5 638.3L194.5 639L195.5 639.8L196.5 640.6L197.5 641.6L198.5 642.6L199.5 643.8L200.5 645.2L201.5 646.7L202.5 648.5L203.5 650.6L204.5 652.9L205.5 655.4L206.5 658.3L207.5 661.5L208.5 664.7L209.5 668L210.5 671.4L211.5 674.6L212.5 677.2L213.5 679.8L214.5 682.1L215.5 683.5L216.5 683.6L217.5 683.3L218.5 682.7L219.5 681.9L220.5 680.9L221.5 679.1L222.5 676.7L223.5 674.1L224.5 671.6L225.5 669.1L226.5 666.5L227.5 663.8L228.5 661.3L229.5 658.9L230.5 656.8L231.5 654.8L232.5 652.9L233.5 651.1L234.5 649.5L235.5 648.1L236.5 646.7L237.5 645.3L238.5 644.1L239.5 643.2L240.5 642.6L241.5 642.2L242.5 641.8L243.5 641.5L244.5 641.2L245.5 641L246.5 640.9L247.5 640.8L248.5 640.7L249.5 640.6L250.5 640.5L251.5 640.4L252.5 640.4L253.5 640.3L254.5 640.2L255.5 640.2L256.5 640.1L257.5 640.1L258.5 640.1L259.5 640L260.5 640L261.5 640L262.5 640L263.5 640L264.5 640L265.5 640.1L266.5 640.1L267.5 640.2L268.5 640.2L269.5 640.3L270.5 640.4L271.5 640.5L272.5 640.6L273.5 640.7L274.5 640.9L275.5 641L276.5 641.2L277.5 641.3L278.5 641.5L279.5 641.7L280.5 641.9L281.5 642.1L282.5 642.3L283.5 642.5L284.5 642.7L285.5 642.9L286.5 643.3L287.5 643.7L288.5 644.3L289.5 644.9L290.5 645.5L291.5 646.4L292.5 647.5L293.5 648.7L294.5 650L295.5 651.5L296.5 653.3L297.5 655.2L298.5 657.1L299.5 658.9L300.5 660.6L301.5 662.3L302.5 663.9L303.5 665.3L304.5 666.6L305.5 667.9L306.5 669L307.5 669.6L308.5 669.7L309.5 669.5L310.5 669.3L311.5 669.1L312.5 668.8L313.5 668.3L314.5 667.7L315.5 667.3L316.5 667.1L317.5 667.5L318.5 668.4L319.5 669.6L320.5 670.9L321.5 673L322.5 675.7L323.5 678.6L324.5 681.5L325.5 685.1L326.5 688.7L327.5 691.6L328.5 693L329.5 692.6L330.5 690.9L331.5 688.6L332.5 686.1L333.5 683.5L334.5 680.3L335.5 676.8L336.5 673.4L337.5 670.3L338.5 667.3L339.5 664.5L340.5 661.7L341.5 659.1L342.5 656.5L343.5 654.1L344.5 652L345.5 650.6L346.5 649.5L347.5 648.7L348.5 648L349.5 647.3L350.5 646.6L351.5 645.9L352.5 645.3L353.5 644.8L354.5 644.3L355.5 643.9L356.5 643.6L357.5 643.5L358.5 643.4L359.5 643.5L360.5 643.7L361.5 643.9L362.5 644.3L363.5 644.7L364.5 645.2L365.5 645.7L366.5 646.2L367.5 646.8L368.5 647.4L369.5 648L370.5 648.5L371.5 649L372.5 649.5L373.5 650.1L374.5 650.9L375.5 651.9L376.5 653.5L377.5 655.7L378.5 658.2L379.5 660.7L380.5 663.2L381.5 665.7L382.5 668.3L383.5 671L384.5 674L385.5 677.1L386.5 680.5L387.5 684.2L388.5 688.6L389.5 694.2L390.5 700.8L391.5 708L392.5 715.4L393.5 723.5L394.5 731.9L395.5 740.4L396.5 749.3L397.5 758.4L398.5 769.2L399.5 780.9L400.5 787.2L401.5 785.4L402.5 780L403.5 773.4L404.5 767.8L405.5 763.4L406.5 759.3L407.5 755L408.5 750.3L409.5 744.5L410.5 738.2L411.5 732L412.5 725.9L413.5 719.6L414.5 714.3L415.5 711L416.5 708.7L417.5 708.5L418.5 711.5L419.5 716.2L420.5 720.5L421.5 724.9L422.5 729.7L423.5 733.4L424.5 734.7L425.5 733.4L426.5 730.3L427.5 726.4L428.5 722.4L429.5 717.6L430.5 712L431.5 706.2L432.5 700.9L433.5 696.1L434.5 691.5L435.5 687.4L436.5 683.8L437.5 680.5L438.5 677.4L439.5 675.3L440.5 674.4L441.5 674L442.5 674.3L443.5 675.1L444.5 676.2L445.5 677.5L446.5 679.2L447.5 682.4L448.5 686.2L449.5 689.8L450.5 692.3L451.5 692.9L452.5 691.5L453.5 689L454.5 686.2L455.5 683.6L456.5 681.5L457.5 679.3L458.5 677.3L459.5 676L460.5 675.8L461.5 676.7L462.5 678.3L463.5 680.4L464.5 683.7L465.5 688.9L466.5 695.2L467.5 705L468.5 714.3L469.5 717.4L470.5 714.1L471.5 707.9L472.5 701.1L473.5 692.9L474.5 684.1L475.5 677.4L476.5 672.1L477.5 667.6L478.5 664.1L479.5 661.5L480.5 659.3L481.5 657.6L482.5 656.4L483.5 655.4L484.5 654.5L485.5 653.9L486.5 653.7L487.5 653.8L488.5 654.1L489.5 654.5L490.5 655.1L491.5 655.9L492.5 657.3L493.5 659.2L494.5 661.2L495.5 663.2L496.5 665.3L497.5 667.8L498.5 670.7L499.5 674.3L500.5 677.8L501.5 681L502.5 684.4L503.5 687.5L504.5 689.8L505.5 690.9L506.5 690.6L507.5 689.1L508.5 687L509.5 684.5L510.5 682.1L511.5 679.8L512.5 677.2L513.5 674.5L514.5 671.9L515.5 669.7L516.5 668L517.5 666.5L518.5 665.2L519.5 664.1L520.5 663.4L521.5 663.2L522.5 663.4L523.5 663.6L524.5 664L525.5 664.4L526.5 664.8L527.5 665.4L528.5 666.1L529.5 666.9L530.5 667.6L531.5 668.1L532.5 668.3L533.5 667.9L534.5 667.1L535.5 665.8L536.5 664.4L537.5 663L538.5 661.6L539.5 659.9L540.5 658.2L541.5 656.4L542.5 654.6L543.5 653L544.5 651.5L545.5 650.1L546.5 648.7L547.5 647.3L548.5 646.2L549.5 645.4L550.5 644.9L551.5 644.5L552.5 644.1L553.5 643.8L554.5 643.5L555.5 643.3L556.5 643.2L557.5 643.1L558.5 643L559.5 642.9L560.5 642.8L561.5 642.7L562.5 642.6L563.5 642.5L564.5 642.5L565.5 642.4L566.5 642.4L567.5 642.3L568.5 642.3L569.5 642.2L570.5 642.2L571.5 642.1L572.5 642.1L573.5 642L574.5 642L575.5 641.9L576.5 641.9L577.5 641.8L578.5 641.8L579.5 641.7L580.5 641.6L581.5 641.6L582.5 641.5L583.5 641.4L584.5 641.3L585.5 641.2L586.5 641.2L587.5 641.2L588.5 641.5L589.5 641.9L590.5 642.5L591.5 643.3L592.5 644L593.5 644.9L594.5 645.9L595.5 647.1L596.5 648.6L597.5 650.3L598.5 652.1L599.5 654L600.5 656.3L601.5 659.1L602.5 662.1L603.5 665.2L604.5 668.2L605.5 671.2L606.5 674.4L607.5 677.5L608.5 680L609.5 681.9L610.5 683.2L611.5 683.2L612.5 682.3L613.5 680.8L614.5 679.2L615.5 677.3L616.5 674.8L617.5 672.2L618.5 669.5L619.5 667.1L620.5 664.6L621.5 662.2L622.5 659.8L623.5 657.5L624.5 655.1L625.5 652.7L626.5 650.4L627.5 648.2L628.5 646.4L629.5 644.9L630.5 643.7L631.5 642.6L632.5 641.6L633.5 640.7L634.5 639.9L635.5 639.1L636.5 638.4L637.5 637.6L638.5 636.9L639.5 636.4L640.5 636.1L641.5 635.9L642.5 635.6L643.5 635.5L644.5 635.3L645.5 635.1L646.5 635L647.5 634.9L648.5 634.8L649.5 634.7L650.5 634.6L651.5 634.5L652.5 634.4L653.5 634.3L654.5 634.3L655.5 634.2L656.5 634.1L657.5 634L658.5 634L659.5 633.9L660.5 633.8L661.5 633.7L662.5 633.7L663.5 633.6L664.5 633.6L665.5 633.5L666.5 633.4L667.5 633.4L668.5 633.3L669.5 633.3L670.5 633.2L671.5 633.2L672.5 633.2L673.5 633.2L674.5 633.1L675.5 633.1L676.5 633.1"/><path d="M131 789.6L131.5 789.6L132.5 789.6L133.5 789.6L134.5 789.6L135.5 789.6L136.5 789.6L137.5 789.6L138.5 789.6L139.5 789.7L140.5 789.7L141.5 789.7L142.5 789.7L143.5 789.7L144.5 789.7L145.5 789.7L146.5 789.8L147.5 789.8L148.5 789.8L149.5 789.8L150.5 789.8L151.5 789.9L152.5 789.9L153.5 789.9L154.5 789.9L155.5 790L156.5 790L157.5 790L158.5 790.1L159.5 790.1L160.5 790.1L161.5 790.1L162.5 790.2L163.5 790.2L164.5 790.2L165.5 790.3L166.5 790.3L167.5 790.3L168.5 790.4L169.5 790.4L170.5 790.4L171.5 790.4L172.5 790.5L173.5 790.5L174.5 790.5L175.5 790.6L176.5 790.6L177.5 790.7L178.5 790.7L179.5 790.7L180.5 790.8L181.5 790.9L182.5 790.9L183.5 791L184.5 791L185.5 791.1L186.5 791.2L187.5 791.3L188.5 791.4L189.5 791.4L190.5 791.6L191.5 791.7L192.5 792L193.5 792.3L194.5 792.6L195.5 792.9L196.5 793.1L197.5 793.5L198.5 793.8L199.5 794.2L200.5 794.6L201.5 795L202.5 795.5L203.5 796.1L204.5 796.7L205.5 797.4L206.5 798.2L207.5 799.3L208.5 800.5L209.5 801.8L210.5 803L211.5 804.1L212.5 805.2L213.5 806.3L214.5 807.4L215.5 808.3L216.5 808.9L217.5 809.1L218.5 808.9L219.5 808.5L220.5 808L221.5 807.3L222.5 806.6L223.5 805.8L224.5 804.7L225.5 803.4L226.5 802.1L227.5 800.8L228.5 799.8L229.5 798.8L230.5 797.8L231.5 797L232.5 796.3L233.5 795.8L234.5 795.4L235.5 795L236.5 794.7L237.5 794.4L238.5 794.2L239.5 794.1L240.5 794L241.5 794L242.5 793.9L243.5 793.9L244.5 793.9L245.5 793.9L246.5 793.8L247.5 793.8L248.5 793.8L249.5 793.7L250.5 793.7L251.5 793.6L252.5 793.5L253.5 793.4L254.5 793.3L255.5 793.2L256.5 793.2L257.5 793.2L258.5 793.2L259.5 793.2L260.5 793.3L261.5 793.3L262.5 793.4L263.5 793.4L264.5 793.5L265.5 793.6L266.5 793.7L267.5 793.7L268.5 793.8L269.5 793.9L270.5 794L271.5 794.1L272.5 794.2L273.5 794.3L274.5 794.5L275.5 794.6L276.5 794.7L277.5 794.8L278.5 794.9L279.5 795L280.5 795.2L281.5 795.3L282.5 795.4L283.5 795.6L284.5 795.8L285.5 796.1L286.5 796.4L287.5 797L288.5 797.6L289.5 798.3L290.5 799L291.5 799.8L292.5 800.7L293.5 801.7L294.5 802.7L295.5 803.6L296.5 804.6L297.5 805.6L298.5 806.6L299.5 807.5L300.5 808.3L301.5 809L302.5 809.4L303.5 809.8L304.5 810.2L305.5 810.5L306.5 811L307.5 811.6L308.5 812.2L309.5 812.9L310.5 813.8L311.5 814.7L312.5 815.9L313.5 817.2L314.5 818.5L315.5 819.6L316.5 820.9L317.5 822.2L318.5 823.2L319.5 823.8L320.5 823.8L321.5 823.8L322.5 823.8L323.5 823.8L324.5 823.8L325.5 823.7L326.5 823.4L327.5 823.1L328.5 822.8L329.5 822.5L330.5 822.1L331.5 821.7L332.5 821.3L333.5 820.8L334.5 820.4L335.5 819.9L336.5 819.5L337.5 819L338.5 818.6L339.5 818.2L340.5 818L341.5 817.8L342.5 817.6L343.5 817.4L344.5 817.3L345.5 817.1L346.5 817L347.5 817L348.5 816.9L349.5 816.9L350.5 817.2L351.5 817.5L352.5 818L353.5 818.4L354.5 818.7L355.5 818.8L356.5 818.7L357.5 818.4L358.5 817.9L359.5 817.5L360.5 817L361.5 816.5L362.5 816.1L363.5 815.8L364.5 815.7L365.5 815.7L366.5 815.8L367.5 816L368.5 816.2L369.5 816.5L370.5 816.8L371.5 817.2L372.5 817.6L373.5 818.1L374.5 818.7L375.5 819.5L376.5 821L377.5 823.1L378.5 825.6L379.5 828L380.5 830.3L381.5 832.6L382.5 835.2L383.5 838.3L384.5 842.2L385.5 847.2L386.5 853.3L387.5 860.4L388.5 868.8L389.5 879.5L390.5 891.3L391.5 904.5L392.5 918L393.5 931.9L394.5 945.3L395.5 959.9L396.5 974L397.5 981.1L398.5 979.9L399.5 975.8L400.5 970.5L401.5 965.4L402.5 959.5L403.5 953.1L404.5 947.6L405.5 944.3L406.5 942.7L407.5 940.9L408.5 936.6L409.5 925L410.5 913.3L411.5 902.4L412.5 896L413.5 896.7L414.5 899.3L415.5 905.1L416.5 914.1L417.5 916.4L418.5 913.3L419.5 908.8L420.5 904.7L421.5 901L422.5 896.9L423.5 892.1L424.5 886.1L425.5 879.3L426.5 872.4L427.5 866.2L428.5 860.6L429.5 855.3L430.5 850.3L431.5 845.7L432.5 841.4L433.5 837.1L434.5 833.7L435.5 831.9L436.5 830.5L437.5 829.3L438.5 828.2L439.5 827.4L440.5 826.8L441.5 826.4L442.5 826.3L443.5 826.4L444.5 826.7L445.5 827.1L446.5 827.6L447.5 828.3L448.5 829.1L449.5 830L450.5 831L451.5 832.1L452.5 833.4L453.5 835.3L454.5 838.5L455.5 842.8L456.5 848.1L457.5 854.3L458.5 861L459.5 868.3L460.5 875.8L461.5 884.7L462.5 898L463.5 913.6L464.5 928.2L465.5 938.8L466.5 942.3L467.5 937.1L468.5 925.3L469.5 909.8L470.5 893.5L471.5 879.6L472.5 870.4L473.5 863.2L474.5 856.6L475.5 850.6L476.5 845.3L477.5 840.7L478.5 837L479.5 834.2L480.5 832L481.5 830.2L482.5 828.8L483.5 827.9L484.5 827.2L485.5 826.6L486.5 826L487.5 825.6L488.5 825.2L489.5 824.9L490.5 824.6L491.5 824.4L492.5 824.2L493.5 824L494.5 823.8L495.5 823.7L496.5 823.5L497.5 823.3L498.5 823.1L499.5 822.8L500.5 822.6L501.5 822.4L502.5 822.2L503.5 822.1L504.5 822.1L505.5 822.2L506.5 822.3L507.5 822.6L508.5 822.8L509.5 823.1L510.5 823.3L511.5 823.4L512.5 823.5L513.5 823.3L514.5 822.7L515.5 822L516.5 821.1L517.5 820.2L518.5 819.1L519.5 817.8L520.5 816.3L521.5 814.9L522.5 813.8L523.5 813.1L524.5 812.6L525.5 812.2L526.5 811.8L527.5 811.3L528.5 810.7L529.5 809.8L530.5 808.8L531.5 807.8L532.5 806.7L533.5 805.6L534.5 804.5L535.5 803.4L536.5 802.2L537.5 801.1L538.5 800.1L539.5 799.3L540.5 798.8L541.5 798.4L542.5 798L543.5 797.6L544.5 797.3L545.5 797L546.5 796.8L547.5 796.6L548.5 796.4L549.5 796.3L550.5 796.2L551.5 796.1L552.5 796.1L553.5 796L554.5 796L555.5 795.9L556.5 795.9L557.5 795.8L558.5 795.8L559.5 795.7L560.5 795.7L561.5 795.6L562.5 795.5L563.5 795.5L564.5 795.4L565.5 795.3L566.5 795.3L567.5 795.2L568.5 795.1L569.5 795L570.5 794.9L571.5 794.9L572.5 794.8L573.5 794.7L574.5 794.6L575.5 794.6L576.5 794.5L577.5 794.4L578.5 794.4L579.5 794.3L580.5 794.3L581.5 794.2L582.5 794.2L583.5 794.2L584.5 794.1L585.5 794.1L586.5 794.1L587.5 794.1L588.5 794.2L589.5 794.5L590.5 794.8L591.5 795.2L592.5 795.6L593.5 796L594.5 796.5L595.5 797.2L596.5 797.9L597.5 798.7L598.5 799.5L599.5 800.4L600.5 801.5L601.5 802.8L602.5 804.1L603.5 805.4L604.5 806.3L605.5 807.1L606.5 807.7L607.5 808.3L608.5 808.8L609.5 809.1L610.5 809.1L611.5 808.8L612.5 808.3L613.5 807.7L614.5 807.1L615.5 806.3L616.5 805.4L617.5 804.1L618.5 802.8L619.5 801.4L620.5 800.2L621.5 798.8L622.5 797.5L623.5 796.4L624.5 795.6L625.5 795L626.5 794.4L627.5 793.9L628.5 793.5L629.5 793.2L630.5 792.9L631.5 792.6L632.5 792.3L633.5 792.1L634.5 791.9L635.5 791.7L636.5 791.5L637.5 791.3L638.5 791.2L639.5 791L640.5 791L641.5 790.9L642.5 790.9L643.5 790.9L644.5 790.8L645.5 790.8L646.5 790.8L647.5 790.7L648.5 790.7L649.5 790.7L650.5 790.6L651.5 790.6L652.5 790.6L653.5 790.6L654.5 790.5L655.5 790.5L656.5 790.5L657.5 790.5L658.5 790.5L659.5 790.4L660.5 790.4L661.5 790.4L662.5 790.4L663.5 790.4L664.5 790.4L665.5 790.4L666.5 790.3L667.5 790.3L668.5 790.3L669.5 790.3L670.5 790.3L671.5 790.3L672.5 790.3L673.5 790.3L674.5 790.3L675.5 790.3L676.5 790.3"/><path d="M131 982.8L131.5 982.8L132.5 982.8L133.5 982.8L134.5 982.8L135.5 982.9L136.5 982.9L137.5 982.9L138.5 982.9L139.5 982.9L140.5 983L141.5 983L142.5 983L143.5 983.1L144.5 983.1L145.5 983.1L146.5 983.2L147.5 983.2L148.5 983.2L149.5 983.3L150.5 983.3L151.5 983.4L152.5 983.4L153.5 983.4L154.5 983.5L155.5 983.5L156.5 983.6L157.5 983.6L158.5 983.7L159.5 983.7L160.5 983.8L161.5 983.8L162.5 983.9L163.5 983.9L164.5 984L165.5 984.1L166.5 984.1L167.5 984.2L168.5 984.2L169.5 984.3L170.5 984.3L171.5 984.4L172.5 984.4L173.5 984.5L174.5 984.5L175.5 984.6L176.5 984.7L177.5 984.7L178.5 984.8L179.5 984.8L180.5 984.9L181.5 985L182.5 985.1L183.5 985.2L184.5 985.3L185.5 985.4L186.5 985.5L187.5 985.6L188.5 985.8L189.5 985.9L190.5 986.1L191.5 986.4L192.5 986.8L193.5 987.3L194.5 987.9L195.5 988.6L196.5 989.4L197.5 990.4L198.5 991.5L199.5 992.6L200.5 994L201.5 995.4L202.5 997L203.5 998.5L204.5 1000.1L205.5 1001.9L206.5 1003.5L207.5 1004.8L208.5 1005.7L209.5 1006.4L210.5 1006.9L211.5 1007.2L212.5 1007.4L213.5 1007.8L214.5 1008.4L215.5 1009.3L216.5 1009.9L217.5 1010.2L218.5 1010.5L219.5 1010.7L220.5 1010.6L221.5 1010.2L222.5 1009.5L223.5 1008.5L224.5 1006.8L225.5 1004.6L226.5 1002.7L227.5 1000.8L228.5 999L229.5 997.4L230.5 996L231.5 994.7L232.5 993.5L233.5 992.5L234.5 991.6L235.5 991L236.5 990.5L237.5 990L238.5 989.5L239.5 989.2L240.5 988.9L241.5 988.6L242.5 988.4L243.5 988.2L244.5 988.1L245.5 987.9L246.5 987.8L247.5 987.6L248.5 987.5L249.5 987.4L250.5 987.4L251.5 987.3L252.5 987.2L253.5 987.2L254.5 987.2L255.5 987.2L256.5 987.2L257.5 987.2L258.5 987.3L259.5 987.3L260.5 987.3L261.5 987.3L262.5 987.4L263.5 987.4L264.5 987.5L265.5 987.5L266.5 987.6L267.5 987.6L268.5 987.7L269.5 987.7L270.5 987.8L271.5 987.9L272.5 988L273.5 988.1L274.5 988.2L275.5 988.3L276.5 988.5L277.5 988.8L278.5 989.2L279.5 989.5L280.5 989.9L281.5 990.2L282.5 990.6L283.5 991L284.5 991.5L285.5 992L286.5 992.8L287.5 993.8L288.5 994.9L289.5 996L290.5 997.1L291.5 998.2L292.5 999.4L293.5 1000.5L294.5 1001.6L295.5 1002.6L296.5 1003.4L297.5 1004.2L298.5 1004.9L299.5 1005.5L300.5 1005.9L301.5 1006L302.5 1006L303.5 1005.9L304.5 1005.8L305.5 1005.6L306.5 1005.2L307.5 1004.4L308.5 1003.6L309.5 1003L310.5 1003L311.5 1003.5L312.5 1004.3L313.5 1005.2L314.5 1006.6L315.5 1008.6L316.5 1010.7L317.5 1012.5L318.5 1014.4L319.5 1016.3L320.5 1018.1L321.5 1019.4L322.5 1020.1L323.5 1020L324.5 1019.1L325.5 1017.8L326.5 1016.3L327.5 1014.7L328.5 1013.1L329.5 1011.2L330.5 1009.2L331.5 1007.2L332.5 1005.5L333.5 1004L334.5 1002.8L335.5 1001.6L336.5 1000.6L337.5 999.6L338.5 998.5L339.5 997.4L340.5 996.1L341.5 994.5L342.5 993.2L343.5 992.6L344.5 992.1L345.5 991.7L346.5 991.3L347.5 991L348.5 990.7L349.5 990.4L350.5 990.2L351.5 990L352.5 989.9L353.5 989.8L354.5 989.7L355.5 989.7L356.5 989.7L357.5 989.9L358.5 990L359.5 990.2L360.5 990.5L361.5 990.8L362.5 991.1L363.5 991.5L364.5 991.9L365.5 992.3L366.5 992.7L367.5 993.1L368.5 993.6L369.5 994.1L370.5 994.8L371.5 995.6L372.5 996.4L373.5 997.4L374.5 998.7L375.5 1000L376.5 1001.4L377.5 1003L378.5 1004.6L379.5 1006.3L380.5 1008.1L381.5 1010L382.5 1011.9L383.5 1013.9L384.5 1016.1L385.5 1018.4L386.5 1020.7L387.5 1023.2L388.5 1026.1L389.5 1029.5L390.5 1034.1L391.5 1039.9L392.5 1047.3L393.5 1057L394.5 1067.3L395.5 1077.9L396.5 1086.5L397.5 1094.3L398.5 1099L399.5 1098.3L400.5 1094.3L401.5 1088.8L402.5 1080.3L403.5 1070.9L404.5 1063.1L405.5 1055.8L406.5 1049.5L407.5 1043.5L408.5 1038.4L409.5 1035.1L410.5 1033.2L411.5 1031.8L412.5 1031.2L413.5 1032.4L414.5 1035L415.5 1038.1L416.5 1041.6L417.5 1045.8L418.5 1050.3L419.5 1055.4L420.5 1061.3L421.5 1066.4L422.5 1069L423.5 1068.3L424.5 1065.7L425.5 1062.1L426.5 1057.8L427.5 1051.9L428.5 1046.1L429.5 1040.3L430.5 1034.8L431.5 1030.2L432.5 1026.7L433.5 1023.6L434.5 1021.1L435.5 1019.1L436.5 1017.4L437.5 1016L438.5 1014.9L439.5 1013.9L440.5 1013L441.5 1012.2L442.5 1011.9L443.5 1012L444.5 1012.8L445.5 1014.1L446.5 1015.4L447.5 1017.3L448.5 1019.3L449.5 1020.3L450.5 1019.1L451.5 1016.1L452.5 1012.8L453.5 1010.5L454.5 1008.3L455.5 1006.3L456.5 1004.8L457.5 1004.2L458.5 1004.6L459.5 1005.5L460.5 1006.7L461.5 1007.9L462.5 1009.4L463.5 1011.4L464.5 1013.3L465.5 1014.5L466.5 1014.7L467.5 1013.5L468.5 1011.7L469.5 1009.6L470.5 1007.8L471.5 1005.7L472.5 1003.6L473.5 1001.6L474.5 1000.1L475.5 999.1L476.5 998.1L477.5 997.3L478.5 996.8L479.5 996.6L480.5 996.9L481.5 997.2L482.5 997.5L483.5 997.8L484.5 998.2L485.5 998.7L486.5 999.2L487.5 999.8L488.5 1000.6L489.5 1001.7L490.5 1003L491.5 1004.3L492.5 1005.7L493.5 1007.1L494.5 1008.6L495.5 1010.3L496.5 1012.3L497.5 1014.3L498.5 1016.2L499.5 1017.9L500.5 1019.1L501.5 1019.6L502.5 1019.6L503.5 1019L504.5 1018L505.5 1016.9L506.5 1015.6L507.5 1014.4L508.5 1013.4L509.5 1012.5L510.5 1011.5L511.5 1010.5L512.5 1009.5L513.5 1008.6L514.5 1007.8L515.5 1007.2L516.5 1006.7L517.5 1006.4L518.5 1006.1L519.5 1005.9L520.5 1005.7L521.5 1005.5L522.5 1005.3L523.5 1005.1L524.5 1004.8L525.5 1004.6L526.5 1004.3L527.5 1004L528.5 1003.7L529.5 1003.4L530.5 1003L531.5 1002.5L532.5 1002L533.5 1001.3L534.5 1000.3L535.5 999.2L536.5 998.1L537.5 996.9L538.5 995.9L539.5 994.9L540.5 993.9L541.5 992.9L542.5 992L543.5 991.3L544.5 990.8L545.5 990.5L546.5 990.2L547.5 989.9L548.5 989.7L549.5 989.5L550.5 989.3L551.5 989.1L552.5 988.9L553.5 988.7L554.5 988.6L555.5 988.4L556.5 988.3L557.5 988.1L558.5 988L559.5 987.9L560.5 987.9L561.5 987.8L562.5 987.7L563.5 987.7L564.5 987.6L565.5 987.5L566.5 987.5L567.5 987.4L568.5 987.4L569.5 987.4L570.5 987.3L571.5 987.3L572.5 987.3L573.5 987.3L574.5 987.3L575.5 987.3L576.5 987.3L577.5 987.4L578.5 987.4L579.5 987.4L580.5 987.4L581.5 987.5L582.5 987.5L583.5 987.6L584.5 987.6L585.5 987.7L586.5 987.9L587.5 988.2L588.5 988.5L589.5 988.9L590.5 989.4L591.5 989.8L592.5 990.4L593.5 991.1L594.5 991.8L595.5 992.6L596.5 993.6L597.5 994.7L598.5 996.1L599.5 997.5L600.5 999L601.5 1000.5L602.5 1002L603.5 1003.7L604.5 1005.5L605.5 1007.2L606.5 1008.8L607.5 1010.5L608.5 1012.1L609.5 1013.6L610.5 1014.6L611.5 1015.4L612.5 1015.9L613.5 1015.6L614.5 1014.7L615.5 1013.4L616.5 1012L617.5 1010.2L618.5 1008.1L619.5 1005.9L620.5 1003.7L621.5 1001.6L622.5 999.4L623.5 997.2L624.5 995.3L625.5 993.8L626.5 992.4L627.5 991.3L628.5 990.2L629.5 989.4L630.5 988.8L631.5 988.2L632.5 987.7L633.5 987.3L634.5 986.9L635.5 986.5L636.5 986L637.5 985.6L638.5 985.3L639.5 985.1L640.5 985L641.5 984.9L642.5 984.8L643.5 984.7L644.5 984.6L645.5 984.5L646.5 984.4L647.5 984.3L648.5 984.3L649.5 984.2L650.5 984.1L651.5 984.1L652.5 984L653.5 983.9L654.5 983.9L655.5 983.8L656.5 983.8L657.5 983.7L658.5 983.7L659.5 983.6L660.5 983.6L661.5 983.6L662.5 983.5L663.5 983.5L664.5 983.5L665.5 983.4L666.5 983.4L667.5 983.4L668.5 983.4L669.5 983.4L670.5 983.3L671.5 983.3L672.5 983.3L673.5 983.3L674.5 983.3L675.5 983.3L676.5 983.3"/></g></g><path d="M131.6 3L676.6 3L674 1109.8L129.1 1109.8Z" fill="none" stroke="#000" stroke-width="2.4" stroke-linejoin="miter"/><path d="M176.5 1109.8V1129.3M290.3 1109.8V1129.3M404.1 1109.8V1129.3M517.6 1109.8V1129.3M631.3 1109.8V1129.3" stroke="#000" stroke-width="2.7" fill="none"/><g font-family="'Liberation Sans', Arial, Helvetica, sans-serif" font-size="27" fill="#000"><text x="176.5" y="1152.7" text-anchor="middle">-10</text><text x="290.3" y="1152.7" text-anchor="middle">-5</text><text x="404.1" y="1152.7" text-anchor="middle">0</text><text x="517.6" y="1152.7" text-anchor="middle">5</text><text x="631.3" y="1152.7" text-anchor="middle">10</text></g><text x="408.4" y="1189.3" text-anchor="middle" font-family="'Liberation Sans', Arial, Helvetica, sans-serif" font-size="26.5" font-weight="bold">Velocity (mm/s)</text><text transform="translate(21 555.5) rotate(-90)" text-anchor="middle" font-family="'Liberation Sans', Arial, Helvetica, sans-serif" font-size="26" font-weight="bold">Absorption (%)</text><path d="M54.6 501.9H45.75V597.45H55" fill="none" stroke="#000" stroke-width="6.5" stroke-linejoin="miter"/><text x="60" y="512" font-family="'Liberation Sans', Arial, Helvetica, sans-serif" font-size="26">0</text><text x="57.5" y="605.3" font-family="'Liberation Sans', Arial, Helvetica, sans-serif" font-size="26">-0.30</text><g font-family="'Liberation Sans', Arial, Helvetica, sans-serif" font-size="27"><text x="138.6" y="47.2">A</text><text x="139.7" y="101.3">B</text><text x="137.7" y="165.5">C</text><text x="138.6" y="266.5">D</text><text x="140.6" y="440.7">E</text><text x="139.7" y="532.9">F</text><text x="140.5" y="669.5">G</text><text x="138.9" y="828.1">H</text><text x="140.5" y="1022.9">I</text></g><g font-family="'Liberation Sans', Arial, Helvetica, sans-serif" font-size="26" fill="#111" text-anchor="end"><text transform="translate(658.5 50) scale(1 0.955)">0 min</text><text transform="translate(658.7 108.1) scale(1 0.955)">5 min</text><text transform="translate(657 182) scale(1 0.955)">15 min</text><text transform="translate(657.3 296.4) scale(1 0.955)">30 min</text><text transform="translate(655 466.4) scale(1 0.955)">60 min</text><text transform="translate(660.4 547.3) scale(1 0.955)">180 min</text><text transform="translate(659.6 714.2) scale(1 0.955)">420 min</text><text transform="translate(659.3 843.8) scale(1 0.955)">500 min</text><text transform="translate(659.2 1044.9) scale(1 0.955)">600 min</text></g></svg></body></html>
